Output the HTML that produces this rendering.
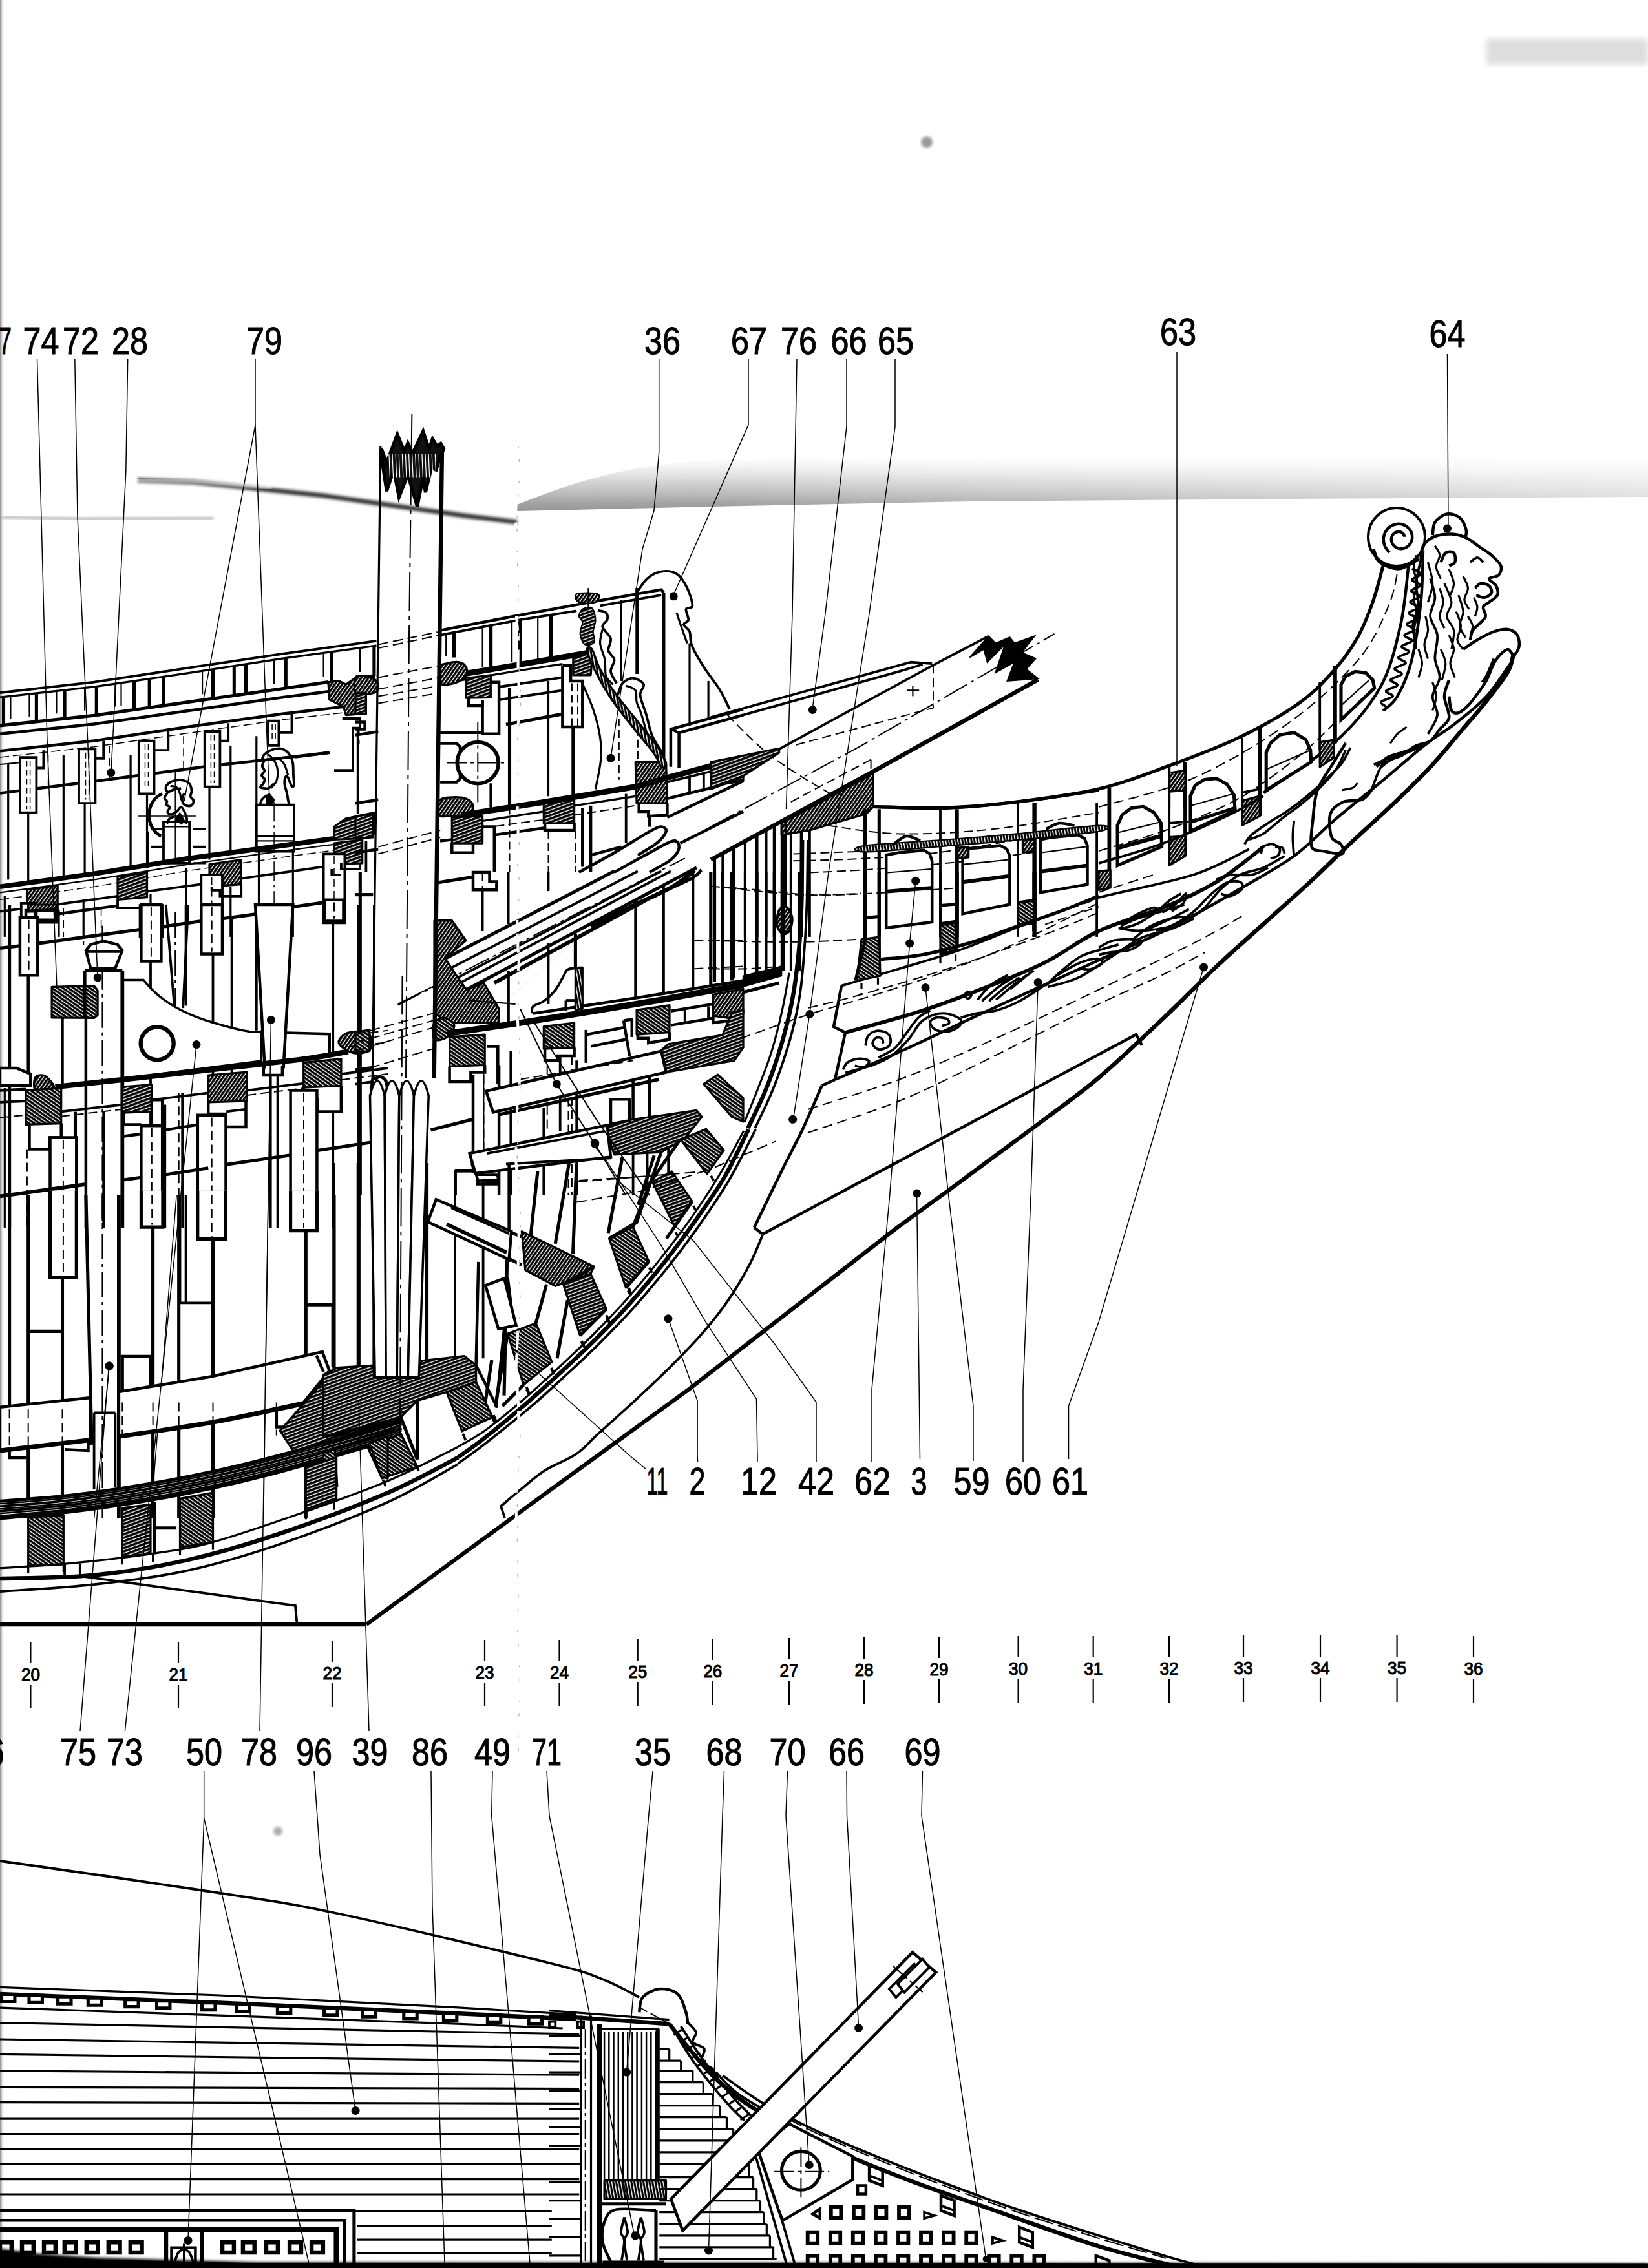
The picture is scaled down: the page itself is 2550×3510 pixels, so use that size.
<!DOCTYPE html>
<html><head><meta charset="utf-8"><title>Plan</title>
<style>html,body{margin:0;padding:0;background:#fff}svg{display:block}text{font-family:"Liberation Sans",sans-serif;fill:#000;stroke:#000;stroke-width:1.1px}</style>
</head><body>
<svg width="2550" height="3510" viewBox="0 0 2550 3510">
<defs>
<pattern id="h1" width="4.6" height="4.6" patternUnits="userSpaceOnUse" patternTransform="rotate(-55)"><rect width="5" height="5" fill="#fff"/><rect width="5" height="3.3" fill="#000"/></pattern>
<pattern id="h2" width="4.8" height="4.8" patternUnits="userSpaceOnUse" patternTransform="rotate(35)"><rect width="5" height="5" fill="#fff"/><rect width="5" height="3.4" fill="#000"/></pattern>
<pattern id="h3" width="5" height="5" patternUnits="userSpaceOnUse" patternTransform="rotate(-20)"><rect width="5.5" height="5.5" fill="#fff"/><rect width="5.5" height="3.6" fill="#000"/></pattern>
<pattern id="h4" width="4.6" height="4.6" patternUnits="userSpaceOnUse" patternTransform="rotate(80)"><rect width="5" height="5" fill="#fff"/><rect width="5" height="3.1" fill="#000"/></pattern>
<linearGradient id="fold1" x1="0" y1="0" x2="0" y2="1"><stop offset="0" stop-color="#ddd" stop-opacity="0"/><stop offset="0.45" stop-color="#c4c4c4" stop-opacity="0.7"/><stop offset="0.85" stop-color="#9a9a9a" stop-opacity="0.9"/><stop offset="1" stop-color="#909090" stop-opacity="0.95"/></linearGradient>
<linearGradient id="ledge" x1="0" y1="0" x2="1" y2="0"><stop offset="0" stop-color="#888"/><stop offset="1" stop-color="#fff" stop-opacity="0"/></linearGradient>
<linearGradient id="fadeL" x1="0" y1="0" x2="1" y2="0"><stop offset="0" stop-color="#fff" stop-opacity="1"/><stop offset="1" stop-color="#fff" stop-opacity="0"/></linearGradient>
<linearGradient id="fadeR" x1="0" y1="0" x2="1" y2="0"><stop offset="0" stop-color="#fff" stop-opacity="0"/><stop offset="1" stop-color="#fff" stop-opacity="0.6"/></linearGradient>
<filter id="blur2"><feGaussianBlur stdDeviation="2"/></filter>
<filter id="blur5"><feGaussianBlur stdDeviation="5"/></filter>
</defs>
<rect width="2550" height="3510" fill="#fff"/>
<path d="M800,781 C880,750 950,722 1100,712 L1500,708 L2550,706 L2550,769 L2000,772 L1500,776 L1100,784 L800,791 Z" fill="url(#fold1)"/>
<rect x="1100" y="700" width="1450" height="95" fill="url(#fadeR)"/>
<path d="M213,743 L300,746 L500,767 L718,798 L800,808" stroke="#333" stroke-width="7" fill="none" filter="url(#blur2)"/>
<path d="M205,743 L300,745 L420,755" stroke="#fff" stroke-width="5" fill="none" filter="url(#blur2)" opacity="0.7"/>
<path d="M0,800 L120,803 L330,802" stroke="#999" stroke-width="3" fill="none" filter="url(#blur2)"/>
<circle cx="1434" cy="220" r="9" fill="#999" filter="url(#blur2)"/>
<circle cx="430" cy="2834" r="7" fill="#aaa" filter="url(#blur2)"/>
<rect x="2300" y="60" width="250" height="40" fill="#ddd" filter="url(#blur5)"/>
<rect x="0" y="0" width="7" height="3510" fill="url(#ledge)"/>
<path d="M0,2992 L2550,2992" stroke="#ccc" stroke-width="3" stroke-dasharray="90 40 200 60" filter="url(#blur2)"/>
<text x="63.5" y="548" font-size="60" text-anchor="middle" textLength="56" lengthAdjust="spacingAndGlyphs">74</text>
<text x="125" y="548" font-size="60" text-anchor="middle" textLength="56" lengthAdjust="spacingAndGlyphs">72</text>
<text x="201" y="548" font-size="60" text-anchor="middle" textLength="56" lengthAdjust="spacingAndGlyphs">28</text>
<text x="409" y="548" font-size="60" text-anchor="middle" textLength="56" lengthAdjust="spacingAndGlyphs">79</text>
<text x="1025" y="548" font-size="60" text-anchor="middle" textLength="56" lengthAdjust="spacingAndGlyphs">36</text>
<text x="1159" y="548" font-size="60" text-anchor="middle" textLength="56" lengthAdjust="spacingAndGlyphs">67</text>
<text x="1236" y="548" font-size="60" text-anchor="middle" textLength="56" lengthAdjust="spacingAndGlyphs">76</text>
<text x="1313.5" y="548" font-size="60" text-anchor="middle" textLength="56" lengthAdjust="spacingAndGlyphs">66</text>
<text x="1386" y="548" font-size="60" text-anchor="middle" textLength="56" lengthAdjust="spacingAndGlyphs">65</text>
<text x="8" y="548" font-size="60" text-anchor="middle" textLength="20" lengthAdjust="spacingAndGlyphs">7</text>
<text x="1823" y="534" font-size="60" text-anchor="middle" textLength="56" lengthAdjust="spacingAndGlyphs">63</text>
<text x="2239.5" y="537" font-size="60" text-anchor="middle" textLength="56" lengthAdjust="spacingAndGlyphs">64</text>
<text x="1174" y="2313" font-size="60" text-anchor="middle" textLength="56" lengthAdjust="spacingAndGlyphs">12</text>
<text x="1263" y="2313" font-size="60" text-anchor="middle" textLength="56" lengthAdjust="spacingAndGlyphs">42</text>
<text x="1350" y="2313" font-size="60" text-anchor="middle" textLength="56" lengthAdjust="spacingAndGlyphs">62</text>
<text x="1503.5" y="2313" font-size="60" text-anchor="middle" textLength="56" lengthAdjust="spacingAndGlyphs">59</text>
<text x="1583" y="2313" font-size="60" text-anchor="middle" textLength="56" lengthAdjust="spacingAndGlyphs">60</text>
<text x="1656" y="2313" font-size="60" text-anchor="middle" textLength="56" lengthAdjust="spacingAndGlyphs">61</text>
<text x="1017" y="2313" font-size="60" text-anchor="middle" textLength="33" lengthAdjust="spacingAndGlyphs">11</text>
<text x="1079" y="2313" font-size="60" text-anchor="middle" textLength="25" lengthAdjust="spacingAndGlyphs">2</text>
<text x="1422" y="2313" font-size="60" text-anchor="middle" textLength="25" lengthAdjust="spacingAndGlyphs">3</text>
<text x="121" y="2732" font-size="60" text-anchor="middle" textLength="56" lengthAdjust="spacingAndGlyphs">75</text>
<text x="193" y="2732" font-size="60" text-anchor="middle" textLength="56" lengthAdjust="spacingAndGlyphs">73</text>
<text x="316" y="2732" font-size="60" text-anchor="middle" textLength="56" lengthAdjust="spacingAndGlyphs">50</text>
<text x="401" y="2732" font-size="60" text-anchor="middle" textLength="56" lengthAdjust="spacingAndGlyphs">78</text>
<text x="486" y="2732" font-size="60" text-anchor="middle" textLength="56" lengthAdjust="spacingAndGlyphs">96</text>
<text x="572.5" y="2732" font-size="60" text-anchor="middle" textLength="56" lengthAdjust="spacingAndGlyphs">39</text>
<text x="665" y="2732" font-size="60" text-anchor="middle" textLength="56" lengthAdjust="spacingAndGlyphs">86</text>
<text x="762" y="2732" font-size="60" text-anchor="middle" textLength="56" lengthAdjust="spacingAndGlyphs">49</text>
<text x="846" y="2732" font-size="60" text-anchor="middle" textLength="46" lengthAdjust="spacingAndGlyphs">71</text>
<text x="1010" y="2732" font-size="60" text-anchor="middle" textLength="56" lengthAdjust="spacingAndGlyphs">35</text>
<text x="1120.5" y="2732" font-size="60" text-anchor="middle" textLength="56" lengthAdjust="spacingAndGlyphs">68</text>
<text x="1218.5" y="2732" font-size="60" text-anchor="middle" textLength="56" lengthAdjust="spacingAndGlyphs">70</text>
<text x="1310" y="2732" font-size="60" text-anchor="middle" textLength="56" lengthAdjust="spacingAndGlyphs">66</text>
<text x="1427.5" y="2732" font-size="60" text-anchor="middle" textLength="56" lengthAdjust="spacingAndGlyphs">69</text>
<text x="-6" y="2732" font-size="60" text-anchor="middle" textLength="25" lengthAdjust="spacingAndGlyphs">6</text>
<text x="47.4" y="2601" font-size="27" text-anchor="middle" textLength="29" lengthAdjust="spacingAndGlyphs">20</text>
<polyline points="47.4,2541 47.4,2574" fill="none" stroke="#000" stroke-width="2.2"/>
<polyline points="47.4,2607 47.4,2644" fill="none" stroke="#000" stroke-width="2.2"/>
<text x="276" y="2601" font-size="27" text-anchor="middle" textLength="29" lengthAdjust="spacingAndGlyphs">21</text>
<polyline points="276,2541 276,2574" fill="none" stroke="#000" stroke-width="2.2"/>
<polyline points="276,2607 276,2644" fill="none" stroke="#000" stroke-width="2.2"/>
<text x="514" y="2599" font-size="27" text-anchor="middle" textLength="29" lengthAdjust="spacingAndGlyphs">22</text>
<polyline points="514,2539 514,2572" fill="none" stroke="#000" stroke-width="2.2"/>
<polyline points="514,2605 514,2642" fill="none" stroke="#000" stroke-width="2.2"/>
<text x="750" y="2598" font-size="27" text-anchor="middle" textLength="29" lengthAdjust="spacingAndGlyphs">23</text>
<polyline points="750,2538 750,2571" fill="none" stroke="#000" stroke-width="2.2"/>
<polyline points="750,2604 750,2641" fill="none" stroke="#000" stroke-width="2.2"/>
<text x="865.5" y="2598" font-size="27" text-anchor="middle" textLength="29" lengthAdjust="spacingAndGlyphs">24</text>
<polyline points="865.5,2538 865.5,2571" fill="none" stroke="#000" stroke-width="2.2"/>
<polyline points="865.5,2604 865.5,2641" fill="none" stroke="#000" stroke-width="2.2"/>
<text x="986.7" y="2597" font-size="27" text-anchor="middle" textLength="29" lengthAdjust="spacingAndGlyphs">25</text>
<polyline points="986.7,2537 986.7,2570" fill="none" stroke="#000" stroke-width="2.2"/>
<polyline points="986.7,2603 986.7,2640" fill="none" stroke="#000" stroke-width="2.2"/>
<text x="1102.7" y="2596" font-size="27" text-anchor="middle" textLength="29" lengthAdjust="spacingAndGlyphs">26</text>
<polyline points="1102.7,2536 1102.7,2569" fill="none" stroke="#000" stroke-width="2.2"/>
<polyline points="1102.7,2602 1102.7,2639" fill="none" stroke="#000" stroke-width="2.2"/>
<text x="1221" y="2595" font-size="27" text-anchor="middle" textLength="29" lengthAdjust="spacingAndGlyphs">27</text>
<polyline points="1221,2535 1221,2568" fill="none" stroke="#000" stroke-width="2.2"/>
<polyline points="1221,2601 1221,2638" fill="none" stroke="#000" stroke-width="2.2"/>
<text x="1337" y="2594" font-size="27" text-anchor="middle" textLength="29" lengthAdjust="spacingAndGlyphs">28</text>
<polyline points="1337,2534 1337,2567" fill="none" stroke="#000" stroke-width="2.2"/>
<polyline points="1337,2600 1337,2637" fill="none" stroke="#000" stroke-width="2.2"/>
<text x="1453" y="2593" font-size="27" text-anchor="middle" textLength="29" lengthAdjust="spacingAndGlyphs">29</text>
<polyline points="1453,2533 1453,2566" fill="none" stroke="#000" stroke-width="2.2"/>
<polyline points="1453,2599 1453,2636" fill="none" stroke="#000" stroke-width="2.2"/>
<text x="1575.6" y="2592" font-size="27" text-anchor="middle" textLength="29" lengthAdjust="spacingAndGlyphs">30</text>
<polyline points="1575.6,2532 1575.6,2565" fill="none" stroke="#000" stroke-width="2.2"/>
<polyline points="1575.6,2598 1575.6,2635" fill="none" stroke="#000" stroke-width="2.2"/>
<text x="1691.7" y="2592" font-size="27" text-anchor="middle" textLength="29" lengthAdjust="spacingAndGlyphs">31</text>
<polyline points="1691.7,2532 1691.7,2565" fill="none" stroke="#000" stroke-width="2.2"/>
<polyline points="1691.7,2598 1691.7,2635" fill="none" stroke="#000" stroke-width="2.2"/>
<text x="1809" y="2592" font-size="27" text-anchor="middle" textLength="29" lengthAdjust="spacingAndGlyphs">32</text>
<polyline points="1809,2532 1809,2565" fill="none" stroke="#000" stroke-width="2.2"/>
<polyline points="1809,2598 1809,2635" fill="none" stroke="#000" stroke-width="2.2"/>
<text x="1924" y="2591" font-size="27" text-anchor="middle" textLength="29" lengthAdjust="spacingAndGlyphs">33</text>
<polyline points="1924,2531 1924,2564" fill="none" stroke="#000" stroke-width="2.2"/>
<polyline points="1924,2597 1924,2634" fill="none" stroke="#000" stroke-width="2.2"/>
<text x="2043" y="2591" font-size="27" text-anchor="middle" textLength="29" lengthAdjust="spacingAndGlyphs">34</text>
<polyline points="2043,2531 2043,2564" fill="none" stroke="#000" stroke-width="2.2"/>
<polyline points="2043,2597 2043,2634" fill="none" stroke="#000" stroke-width="2.2"/>
<text x="2161.6" y="2591" font-size="27" text-anchor="middle" textLength="29" lengthAdjust="spacingAndGlyphs">35</text>
<polyline points="2161.6,2531 2161.6,2564" fill="none" stroke="#000" stroke-width="2.2"/>
<polyline points="2161.6,2597 2161.6,2634" fill="none" stroke="#000" stroke-width="2.2"/>
<text x="2280" y="2592" font-size="27" text-anchor="middle" textLength="29" lengthAdjust="spacingAndGlyphs">36</text>
<polyline points="2280,2532 2280,2565" fill="none" stroke="#000" stroke-width="2.2"/>
<polyline points="2280,2598 2280,2635" fill="none" stroke="#000" stroke-width="2.2"/>
<polyline points="0,1072 145.6,1055.6 291.3,1033.7 436.9,1011.9 582.5,991.9" fill="none" stroke="#000" stroke-width="3.8"/>
<polyline points="0,1079.2 145.6,1062.9 291.3,1041.7 436.9,1019.2 582.5,999.1" fill="none" stroke="#000" stroke-width="3.2"/>
<polyline points="5.5,1078.6 5.5,1122.3" fill="none" stroke="#000" stroke-width="5.1"/>
<polyline points="16.4,1077.4 16.4,1112.1" fill="none" stroke="#000" stroke-width="2.2"/>
<polyline points="45.5,1074.1 45.5,1108.9" fill="none" stroke="#000" stroke-width="2.2"/>
<polyline points="56.4,1072.9 56.4,1116.9" fill="none" stroke="#000" stroke-width="5.1"/>
<polyline points="87.4,1069.4 87.4,1104.4" fill="none" stroke="#000" stroke-width="2.2"/>
<polyline points="100.1,1068 100.1,1112.2" fill="none" stroke="#000" stroke-width="5.1"/>
<polyline points="131.1,1064.5 131.1,1099.7" fill="none" stroke="#000" stroke-width="2.2"/>
<polyline points="149.3,1062.3 149.3,1106.8" fill="none" stroke="#000" stroke-width="5.1"/>
<polyline points="178.4,1058.1 178.4,1093.5" fill="none" stroke="#000" stroke-width="2.2"/>
<polyline points="187.5,1056.8 187.5,1092.2" fill="none" stroke="#000" stroke-width="2.2"/>
<polyline points="207.5,1053.9 207.5,1098.5" fill="none" stroke="#000" stroke-width="5.1"/>
<polyline points="231.2,1050.5 231.2,1095.1" fill="none" stroke="#000" stroke-width="5.1"/>
<polyline points="253,1047.3 253,1092" fill="none" stroke="#000" stroke-width="5.1"/>
<polyline points="313.1,1038.4 313.1,1074.3" fill="none" stroke="#000" stroke-width="2.2"/>
<polyline points="329.5,1035.8 329.5,1081.1" fill="none" stroke="#000" stroke-width="5.1"/>
<polyline points="362.3,1030.7 362.3,1076.4" fill="none" stroke="#000" stroke-width="5.1"/>
<polyline points="380.5,1027.9 380.5,1073.8" fill="none" stroke="#000" stroke-width="5.1"/>
<polyline points="424.1,1021.1 424.1,1058.5" fill="none" stroke="#000" stroke-width="2.2"/>
<polyline points="442.3,1018.4 442.3,1065" fill="none" stroke="#000" stroke-width="5.1"/>
<polyline points="500.6,1010.4 500.6,1047.8" fill="none" stroke="#000" stroke-width="2.2"/>
<polyline points="513.3,1008.7 513.3,1055.1" fill="none" stroke="#000" stroke-width="5.1"/>
<polyline points="557,1002.7 557,1039.9" fill="none" stroke="#000" stroke-width="2.2"/>
<polyline points="578.9,999.7 578.9,1045.9" fill="none" stroke="#000" stroke-width="5.1"/>
<polyline points="0,1122.9 145.6,1107.3 291.3,1086.5 436.9,1065.8 507.9,1055.6" fill="none" stroke="#000" stroke-width="5.1"/>
<polyline points="0,1135.7 145.6,1120.4 291.3,1100 436.9,1079.2 509.7,1070.1" fill="none" stroke="#000" stroke-width="4.5"/>
<polyline points="0,1162.3 145.6,1146.6 291.3,1124.8 436.9,1104.7 531.5,1093.8" fill="none" stroke="#000" stroke-width="4.5"/>
<polyline points="0,1172.1 145.6,1155.7 291.3,1134.6 436.9,1113.8 531.5,1102.9" fill="none" stroke="#000" stroke-width="1.5" stroke-dasharray="14 6"/>
<polyline points="0,1183 30.9,1180.1" fill="none" stroke="#000" stroke-width="2.2"/>
<polyline points="0,1227.4 145.6,1209.2 316.7,1186.6 396.8,1177.5 509.7,1164.8" fill="none" stroke="#000" stroke-width="4.5"/>
<polyline points="12.7,1183 12.7,1361.4" fill="none" stroke="#000" stroke-width="3.2"/>
<polyline points="43.7,1257.6 43.7,1365" fill="none" stroke="#000" stroke-width="3.2"/>
<polyline points="98.3,1168.4 98.3,1357.8" fill="none" stroke="#000" stroke-width="3.2"/>
<polyline points="131.1,1243.1 131.1,1354.1" fill="none" stroke="#000" stroke-width="3.2"/>
<polyline points="202.1,1168.4 202.1,1345" fill="none" stroke="#000" stroke-width="3.2"/>
<polyline points="227.5,1228.5 227.5,1341.4" fill="none" stroke="#000" stroke-width="3.2"/>
<polyline points="356.8,1153.9 356.8,1321.4" fill="none" stroke="#000" stroke-width="3.2"/>
<polyline points="396.8,1139.3 396.8,1314.1" fill="none" stroke="#000" stroke-width="3.2"/>
<polyline points="74.6,1168.4 74.6,1226.7" fill="none" stroke="#000" stroke-width="1.5" stroke-dasharray="12 7"/>
<polyline points="169.3,1153.9 169.3,1206.7" fill="none" stroke="#000" stroke-width="1.5" stroke-dasharray="12 7"/>
<polyline points="284,1139.3 284,1192.1" fill="none" stroke="#000" stroke-width="1.5" stroke-dasharray="12 7"/>
<polyline points="56.4,1188.5 67.4,1188.5 67.4,1161.2" fill="none" stroke="#000" stroke-width="3.8"/>
<polygon points="30.9,1172.1 56.4,1172.1 56.4,1257.6 30.9,1257.6" fill="#fff" stroke="#000" stroke-width="3.8"/>
<polyline points="41.5,1177.5 41.5,1252.2" fill="none" stroke="#000" stroke-width="1.5" stroke-dasharray="9 5"/>
<polyline points="46.6,1177.5 46.6,1252.2" fill="none" stroke="#000" stroke-width="1.5" stroke-dasharray="9 5"/>
<polyline points="147.4,1173.9 160.2,1173.9 160.2,1146.6" fill="none" stroke="#000" stroke-width="3.8"/>
<polygon points="122,1159.3 147.4,1159.3 147.4,1243.1 122,1243.1" fill="#fff" stroke="#000" stroke-width="3.8"/>
<polyline points="132.5,1164.8 132.5,1237.6" fill="none" stroke="#000" stroke-width="1.5" stroke-dasharray="9 5"/>
<polyline points="137.6,1164.8 137.6,1237.6" fill="none" stroke="#000" stroke-width="1.5" stroke-dasharray="9 5"/>
<polyline points="238.5,1161.2 260.3,1161.2 260.3,1130.2" fill="none" stroke="#000" stroke-width="3.8"/>
<polygon points="214.8,1146.6 238.5,1146.6 238.5,1228.5 214.8,1228.5" fill="#fff" stroke="#000" stroke-width="3.8"/>
<polyline points="224.5,1152.1 224.5,1223.1" fill="none" stroke="#000" stroke-width="1.5" stroke-dasharray="9 5"/>
<polyline points="229.5,1152.1 229.5,1223.1" fill="none" stroke="#000" stroke-width="1.5" stroke-dasharray="9 5"/>
<polyline points="340.4,1146.6 353.2,1146.6 353.2,1119.3" fill="none" stroke="#000" stroke-width="3.8"/>
<polygon points="316.7,1132 340.4,1132 340.4,1217.6 316.7,1217.6" fill="#fff" stroke="#000" stroke-width="3.8"/>
<polyline points="326.4,1137.5 326.4,1212.1" fill="none" stroke="#000" stroke-width="1.5" stroke-dasharray="9 5"/>
<polyline points="331.5,1137.5 331.5,1212.1" fill="none" stroke="#000" stroke-width="1.5" stroke-dasharray="9 5"/>
<polyline points="431.4,1133.9 451.5,1133.9 451.5,1104.7" fill="none" stroke="#000" stroke-width="3.8"/>
<polygon points="415,1115.7 431.4,1115.7 431.4,1153.9 415,1153.9" fill="#fff" stroke="#000" stroke-width="3.8"/>
<polyline points="421.1,1121.1 421.1,1148.4" fill="none" stroke="#000" stroke-width="1.5" stroke-dasharray="9 5"/>
<polyline points="426.1,1121.1 426.1,1148.4" fill="none" stroke="#000" stroke-width="1.5" stroke-dasharray="9 5"/>
<circle cx="171.8" cy="1195.7" r="6.5" fill="#000"/>
<path d="M251.2,1228.5 A29.1,34.6 0 0 0 249.4,1294" fill="none" stroke="#000" stroke-width="5"/>
<polyline points="213,1263.1 304,1263.1" fill="none" stroke="#000" stroke-width="1.5"/>
<polygon points="253,1272.2 293.1,1272.2 293.1,1335.9 253,1335.9" fill="#fff" stroke="#000" stroke-width="3.8"/>
<polyline points="253,1279.5 293.1,1279.5" fill="none" stroke="#000" stroke-width="2.2"/>
<polyline points="271.2,1190.3 271.2,1335.9" fill="none" stroke="#000" stroke-width="1.5"/>
<path d="M285.6,1227.4C285,1228.6 282.2,1231.9 281.9,1234.7C281.6,1237.4 282.2,1241.6 283.7,1243.8C285.3,1245.9 288.7,1247.1 291,1247.4C293.3,1247.7 296,1247.1 297.4,1245.6C298.8,1244.1 299.7,1240.4 299.2,1238.3C298.8,1236.2 295.1,1235.3 294.7,1232.8C294.2,1230.4 296.8,1227.1 296.5,1223.7C296.2,1220.4 295.3,1215.6 292.8,1212.8C290.4,1210.1 285.9,1208.1 281.9,1207.4C278,1206.6 272.8,1207.4 269.2,1208.3C265.5,1209.2 262.2,1210.8 260.1,1212.8C258,1214.8 256.4,1218 256.4,1220.1C256.4,1222.2 258,1225.3 260.1,1225.6C262.2,1225.9 265.8,1222.8 269.2,1221.9C272.5,1221 278.3,1220.4 280.1,1220.1" fill="none" stroke="#000" stroke-width="3.8" stroke-linejoin="round"/>
<path d="M260.1,1225.6C259.2,1227.1 254.9,1232.2 254.6,1234.7C254.3,1237.1 257.8,1238.3 258.3,1240.1C258.7,1241.9 256.6,1244.1 257.3,1245.6C258.1,1247.1 262.5,1247.4 262.8,1249.2C263.1,1251.1 259,1254.7 259.2,1256.5C259.3,1258.3 261.4,1260.2 263.7,1260.2C266,1260.2 270.1,1258.3 272.8,1256.5C275.6,1254.7 278,1249.2 280.1,1249.2C282.2,1249.2 284,1253.5 285.6,1256.5C287.1,1259.5 288.9,1264.4 289.2,1267.4C289.5,1270.5 287.7,1273.5 287.4,1274.7" fill="none" stroke="#000" stroke-width="3.8" stroke-linejoin="round"/>
<path d="M258.3,1274.7C258.9,1273.5 260.1,1269.3 261.9,1267.4C263.7,1265.6 268,1264.4 269.2,1263.8" fill="none" stroke="#000" stroke-width="3.8" stroke-linejoin="round"/>
<polygon points="271.9,1267.4 278.3,1258.3 285.6,1271.1 280.1,1275.1" fill="#000" stroke="#000" stroke-width="2.2"/>
<path d="M263.7,1216.5C265.2,1216.8 270.4,1216.5 272.8,1218.3C275.2,1220.1 277.1,1224 278.3,1227.4C279.5,1230.7 279.8,1236.5 280.1,1238.3" fill="none" stroke="#000" stroke-width="3.2" stroke-linejoin="round"/>
<polygon points="396.8,1245.6 455.1,1245.6 455.1,1317.7 396.8,1317.7" fill="#fff" stroke="#000" stroke-width="3.8"/>
<polyline points="396.8,1294 455.1,1294" fill="none" stroke="#000" stroke-width="3.8"/>
<polyline points="396.8,1301.3 455.1,1301.3" fill="none" stroke="#000" stroke-width="2.2"/>
<path d="M405.7,1174.6C406.3,1173.4 406.6,1169.7 409.4,1167.3C412.1,1164.9 417.5,1161.4 422.1,1160C426.7,1158.7 432.4,1157.9 436.7,1159.1C440.9,1160.3 444.9,1163.8 447.6,1167.3C450.3,1170.8 452,1174.6 453,1180.1C454.1,1185.5 453.7,1194.3 454,1200.1C454.3,1205.8 455.3,1211.9 454.9,1214.6C454.4,1217.4 452.7,1218.3 451.2,1216.5C449.7,1214.6 447.3,1206.1 445.8,1203.7C444.3,1201.3 443,1200.4 442.1,1201.9C441.2,1203.4 440,1208.6 440.3,1212.8C440.6,1217.1 443,1223.1 443.9,1227.4C444.9,1231.6 445.2,1235.4 445.8,1238.3C446.4,1241.2 447.3,1243.6 447.6,1244.7" fill="none" stroke="#000" stroke-width="3.8" stroke-linejoin="round"/>
<path d="M409.4,1176.4C408.8,1177.9 405.7,1182.8 405.7,1185.5C405.7,1188.2 409.5,1190.4 409.4,1192.8C409.2,1195.2 404.8,1198 404.8,1200.1C404.8,1202.2 408.9,1203.4 409.4,1205.5C409.8,1207.7 408.6,1210.7 407.5,1212.8C406.5,1214.9 401.8,1217.1 403,1218.3C404.2,1219.5 411.3,1221 414.8,1220.1C418.3,1219.2 422.4,1214 423.9,1212.8" fill="none" stroke="#000" stroke-width="3.8" stroke-linejoin="round"/>
<path d="M414.8,1167.3C416.3,1168.8 421.5,1172.5 423.9,1176.4C426.3,1180.4 428.8,1185.5 429.4,1191C430,1196.4 429.4,1204.3 427.6,1209.2C425.7,1214 420,1218.3 418.5,1220.1" fill="none" stroke="#000" stroke-width="3.2" stroke-linejoin="round"/>
<path d="M431.2,1172.8C432.7,1174.6 437.9,1179.1 440.3,1183.7C442.7,1188.2 444.9,1197.3 445.8,1200.1" fill="none" stroke="#000" stroke-width="3.2" stroke-linejoin="round"/>
<path d="M402.1,1244.7C403,1243 404.8,1237.2 407.5,1234.7C410.3,1232.1 416.6,1230.1 418.5,1229.2" fill="none" stroke="#000" stroke-width="3.8" stroke-linejoin="round"/>
<polygon points="412.1,1234.7 418.5,1231 424.8,1238.3 420.3,1244.1 413,1244.1" fill="#000" stroke="#000" stroke-width="2.2"/>
<polyline points="424.1,1241.3 424.1,1449.9" fill="none" stroke="#000" stroke-width="1.5" stroke-dasharray="30 6 4 6"/>
<polyline points="456.9,1171.4 509.7,1164.8" fill="none" stroke="#000" stroke-width="4.5"/>
<polyline points="233,1283.1 251.2,1283.1" fill="none" stroke="#000" stroke-width="3.2"/>
<polyline points="298.5,1283.1 318.6,1283.1" fill="none" stroke="#000" stroke-width="3.2"/>
<polyline points="233,1310.4 251.2,1310.4" fill="none" stroke="#000" stroke-width="3.2"/>
<polyline points="298.5,1310.4 318.6,1310.4" fill="none" stroke="#000" stroke-width="3.2"/>
<polyline points="233,1335.9 251.2,1335.9" fill="none" stroke="#000" stroke-width="3.2"/>
<polyline points="298.5,1335.9 318.6,1335.9" fill="none" stroke="#000" stroke-width="3.2"/>
<polyline points="229.4,1286.8 229.4,1343.2" fill="none" stroke="#000" stroke-width="3.2"/>
<polyline points="324,1219.4 324,1330.5" fill="none" stroke="#000" stroke-width="3.2"/>
<polyline points="0,1372.3 145.6,1352.3 291.3,1328.6 436.9,1308.6 517,1297.7" fill="none" stroke="#000" stroke-width="7.7"/>
<polyline points="0,1381.4 145.6,1361.4 291.3,1337.7 436.9,1317 517,1306.8" fill="none" stroke="#000" stroke-width="2.2"/>
<polyline points="0,1392.3 145.6,1372.3 291.3,1347.6 436.9,1326.8 517,1315.9" fill="none" stroke="#000" stroke-width="1.5" stroke-dasharray="14 6"/>
<polygon points="41.9,1376.7 89.2,1370.5 89.2,1406.9 41.9,1410.6" fill="url(#h1)" stroke="#000" stroke-width="3.2" stroke-linejoin="round"/>
<polygon points="182,1357 227.5,1350.5 227.5,1388.7 182,1392.3" fill="url(#h3)" stroke="#000" stroke-width="3.2" stroke-linejoin="round"/>
<polygon points="324,1337.7 373.2,1330.5 373.2,1368.7 324,1372.3" fill="url(#h1)" stroke="#000" stroke-width="3.2" stroke-linejoin="round"/>
<polygon points="517,1305 560.7,1299.5 560.7,1335.9 517,1337.7" fill="url(#h3)" stroke="#000" stroke-width="3.2" stroke-linejoin="round"/>
<polygon points="507.9,1055.6 524.3,1053.8 535.2,1059.2 553.4,1046.5 578.9,1045.4 578.9,1070.1 562.5,1073.8 560.7,1104.7 535.2,1106.6 531.5,1093.8 509.7,1082.9" fill="url(#h1)" stroke="#000" stroke-width="3.2" stroke-linejoin="round"/>
<polyline points="529.7,1112 557,1112 557,1126.6 546.1,1126.6 546.1,1192.1 517,1192.1" fill="none" stroke="#000" stroke-width="3.8"/>
<polyline points="553.4,1126.6 553.4,1259.5" fill="none" stroke="#000" stroke-width="3.2"/>
<polygon points="517,1279.5 535.2,1266.7 578.9,1257.6 578.9,1290.4 557,1297.7 517,1299.5" fill="url(#h3)" stroke="#000" stroke-width="3.2" stroke-linejoin="round"/>
<polygon points="32.8,1397.8 54.6,1397.8 54.6,1449.9 32.8,1449.9" fill="#fff" stroke="#000" stroke-width="3.8"/>
<polyline points="43.7,1401.5 43.7,1448.1" fill="none" stroke="#000" stroke-width="1.5" stroke-dasharray="12 6"/>
<polygon points="216.6,1401.1 251.2,1401.1 251.2,1449.9 216.6,1449.9" fill="#fff" stroke="#000" stroke-width="3.8"/>
<polyline points="233.9,1404.7 233.9,1448.1" fill="none" stroke="#000" stroke-width="1.5" stroke-dasharray="12 6"/>
<polygon points="311.3,1353.8 344,1353.8 344,1449.9 311.3,1449.9" fill="#fff" stroke="#000" stroke-width="3.8"/>
<polyline points="327.7,1357.4 327.7,1448.1" fill="none" stroke="#000" stroke-width="1.5" stroke-dasharray="12 6"/>
<polygon points="500.6,1321.4 533.4,1321.4 533.4,1428.4 500.6,1428.4" fill="#fff" stroke="#000" stroke-width="3.8"/>
<polyline points="517,1325 517,1426.6" fill="none" stroke="#000" stroke-width="1.5" stroke-dasharray="12 6"/>
<polyline points="40,1410.6 56.4,1410.6 56.4,1423.3 85.6,1423.3 85.6,1406.9" fill="none" stroke="#000" stroke-width="3.8"/>
<polyline points="182,1392.3 182,1405.1 216.6,1405.1" fill="none" stroke="#000" stroke-width="3.8"/>
<polyline points="327.7,1372.3 327.7,1377.8 340.4,1377.8 340.4,1386.9 373.2,1386.9 373.2,1368.7" fill="none" stroke="#000" stroke-width="3.8"/>
<polyline points="527.9,1335.9 527.9,1345 557,1345 557,1335.9" fill="none" stroke="#000" stroke-width="3.8"/>
<polyline points="513.3,1345 513.3,1354.1 527.9,1354.1" fill="none" stroke="#000" stroke-width="3.8"/>
<polyline points="0,1410.6 30.9,1406.9" fill="none" stroke="#000" stroke-width="3.8"/>
<polyline points="89.2,1399.6 182,1386.9" fill="none" stroke="#000" stroke-width="3.8"/>
<polyline points="227.5,1379.6 309.5,1368.7" fill="none" stroke="#000" stroke-width="3.8"/>
<polyline points="373.2,1359.6 500.6,1341.4" fill="none" stroke="#000" stroke-width="3.8"/>
<polyline points="14.6,1405.1 14.6,1449.9" fill="none" stroke="#000" stroke-width="1.5" stroke-dasharray="12 7"/>
<polyline points="98.3,1405.1 98.3,1449.9" fill="none" stroke="#000" stroke-width="1.5" stroke-dasharray="12 7"/>
<polyline points="156.6,1405.1 156.6,1449.9" fill="none" stroke="#000" stroke-width="1.5" stroke-dasharray="12 7"/>
<polyline points="251.2,1405.1 251.2,1449.9" fill="none" stroke="#000" stroke-width="1.5" stroke-dasharray="12 7"/>
<polyline points="396.8,1405.1 396.8,1449.9" fill="none" stroke="#000" stroke-width="1.5" stroke-dasharray="12 7"/>
<polyline points="553.4,1405.1 553.4,1449.9" fill="none" stroke="#000" stroke-width="1.5" stroke-dasharray="12 7"/>
<polyline points="7.3,1386.9 7.3,1449.9" fill="none" stroke="#000" stroke-width="3.2"/>
<polyline points="91,1408.7 91,1449.9" fill="none" stroke="#000" stroke-width="3.2"/>
<polyline points="129.2,1392.3 129.2,1449.9" fill="none" stroke="#000" stroke-width="3.2"/>
<polyline points="233,1383.2 233,1449.9" fill="none" stroke="#000" stroke-width="3.2"/>
<polyline points="287.6,1343.2 287.6,1449.9" fill="none" stroke="#000" stroke-width="3.2"/>
<polyline points="356.8,1372.3 356.8,1449.9" fill="none" stroke="#000" stroke-width="3.2"/>
<polyline points="400.5,1317.7 400.5,1449.9" fill="none" stroke="#000" stroke-width="3.2"/>
<polyline points="453.3,1314.1 453.3,1449.9" fill="none" stroke="#000" stroke-width="3.2"/>
<polyline points="585.3,997.4 681.1,977.4" fill="none" stroke="#000" stroke-width="2" stroke-dasharray="16 7"/>
<polyline points="585.3,1002.9 681.1,982.9" fill="none" stroke="#000" stroke-width="2" stroke-dasharray="16 7"/>
<polyline points="585.3,1048.4 681.1,1030.2" fill="none" stroke="#000" stroke-width="2" stroke-dasharray="16 7"/>
<polyline points="585.3,1066.6 681.1,1048.4" fill="none" stroke="#000" stroke-width="2" stroke-dasharray="16 7"/>
<polyline points="585.3,1077.5 681.1,1061.2" fill="none" stroke="#000" stroke-width="2" stroke-dasharray="16 7"/>
<polyline points="585.3,1088.5 681.1,1072.1" fill="none" stroke="#000" stroke-width="2" stroke-dasharray="16 7"/>
<polyline points="585.3,1310.6 681.1,1285.1" fill="none" stroke="#000" stroke-width="2" stroke-dasharray="16 7"/>
<polyline points="585.3,1321.5 681.1,1296" fill="none" stroke="#000" stroke-width="2" stroke-dasharray="16 7"/>
<polyline points="681.1,975.6 804.9,951.9 914.1,931.9 1023.3,912.6 1026.9,917.4" fill="none" stroke="#000" stroke-width="4.5"/>
<polyline points="681.1,982.9 804.9,959.2 892.2,945.4" fill="none" stroke="#000" stroke-width="3.8"/>
<polyline points="928.6,937.4 1023.3,921" fill="none" stroke="#000" stroke-width="3.8"/>
<polyline points="690.2,981.2 690.2,1015.7" fill="none" stroke="#000" stroke-width="2.2"/>
<polyline points="702.9,978.7 702.9,1017.5" fill="none" stroke="#000" stroke-width="5.8"/>
<polyline points="746.6,970.4 746.6,1032" fill="none" stroke="#000" stroke-width="2.2"/>
<polyline points="759.3,968 759.3,1033.9" fill="none" stroke="#000" stroke-width="5.8"/>
<polyline points="792.1,961.8 792.1,1024.8" fill="none" stroke="#000" stroke-width="2.2"/>
<polyline points="804.9,959.4 804.9,1026.6" fill="none" stroke="#000" stroke-width="5.8"/>
<polyline points="832.2,954.2 832.2,1021.1" fill="none" stroke="#000" stroke-width="2.2"/>
<polyline points="852.2,950.4 852.2,1018.2" fill="none" stroke="#000" stroke-width="5.8"/>
<polyline points="706.6,1044.8 804.9,1028.4 910.4,1010.2" fill="none" stroke="#000" stroke-width="9"/>
<polyline points="706.6,1053.9 804.9,1037.5 870.4,1027.7" fill="none" stroke="#000" stroke-width="3.2"/>
<polyline points="772.1,1063 870.4,1048.4" fill="none" stroke="#000" stroke-width="3.8"/>
<polyline points="772.1,1083 870.4,1068.4" fill="none" stroke="#000" stroke-width="3.8"/>
<polyline points="783,1121.2 870.4,1104.9" fill="none" stroke="#000" stroke-width="5.1"/>
<path d="M681.1,1032C682.9,1026.9 687.1,1027.8 692,1026.6C696.8,1025.4 705.3,1023.8 710.2,1024.8C715,1025.7 719.3,1028.4 721.1,1032C722.9,1035.7 724.1,1042.4 721.1,1046.6C718.1,1050.8 709.6,1055.7 702.9,1057.5C696.2,1059.3 684.7,1061.8 681.1,1057.5C677.4,1053.3 679.2,1037.2 681.1,1032Z" fill="url(#h1)" stroke="#000" stroke-width="3.2" stroke-linejoin="round"/>
<polygon points="721.1,1049.5 759.3,1044.8 759.3,1079.4 721.1,1080.1" fill="url(#h3)" stroke="#000" stroke-width="3.2" stroke-linejoin="round"/>
<polyline points="724.8,1080.1 724.8,1092.1 746.6,1092.1 746.6,1083" fill="none" stroke="#000" stroke-width="4.5"/>
<polygon points="886.8,1017.5 910.4,1008.4 915.9,1021.1 914.1,1044.8 886.8,1044.8" fill="url(#h3)" stroke="#000" stroke-width="3.2" stroke-linejoin="round"/>
<path d="M550,1048.4C552.4,1044.1 559.1,1045.7 564.6,1046.6C570,1047.5 579.7,1049.9 582.8,1053.9C585.8,1057.8 585.8,1066.9 582.8,1070.3C579.7,1073.6 570,1073.5 564.6,1073.9C559.1,1074.3 552.4,1077.1 550,1072.8C547.6,1068.6 547.6,1052.8 550,1048.4Z" fill="url(#h1)" stroke="#000" stroke-width="3.2" stroke-linejoin="round"/>
<polygon points="550,1072.8 566.4,1072.8 566.4,1104.9 550,1104.9" fill="url(#h3)" stroke="#000" stroke-width="3.2" stroke-linejoin="round"/>
<polyline points="550,1117.6 564.6,1117.6 564.6,1128.5 550,1128.5" fill="none" stroke="#000" stroke-width="4.5"/>
<polygon points="550,1263.2 577.3,1259.6 577.3,1296 550,1297.8" fill="url(#h3)" stroke="#000" stroke-width="3.2" stroke-linejoin="round"/>
<path d="M679.2,1239.6C682,1235 688.7,1234.7 695.6,1234.1C702.6,1233.5 715,1233.8 721.1,1235.9C727.2,1238 731.4,1242.6 732,1246.8C732.6,1251.1 730.8,1258.7 724.8,1261.4C718.7,1264.1 703.2,1263.2 695.6,1263.2C688,1263.2 682,1265.3 679.2,1261.4C676.5,1257.5 676.5,1244.1 679.2,1239.6Z" fill="url(#h1)" stroke="#000" stroke-width="3.2" stroke-linejoin="round"/>
<polygon points="699.3,1265 746.6,1263.2 746.6,1305.1 699.3,1305.1" fill="url(#h3)" stroke="#000" stroke-width="3.2" stroke-linejoin="round"/>
<polyline points="699.3,1305.1 699.3,1319.7 732,1319.7 732,1305.1" fill="none" stroke="#000" stroke-width="4.5"/>
<polygon points="841.3,1243.2 888.6,1237.7 888.6,1274.1 841.3,1274.1" fill="url(#h3)" stroke="#000" stroke-width="3.2" stroke-linejoin="round"/>
<polyline points="843.1,1274.1 843.1,1285.1 888.6,1285.1 888.6,1274.1" fill="none" stroke="#000" stroke-width="4.5"/>
<polygon points="983.2,1179.5 1030.6,1179.5 1032.4,1243.2 985.1,1243.2" fill="url(#h1)" stroke="#000" stroke-width="3.2" stroke-linejoin="round"/>
<polyline points="988.7,1243.2 988.7,1255.9 1003.3,1255.9 1003.3,1263.2 1032.4,1261.4 1032.4,1243.2" fill="none" stroke="#000" stroke-width="4.5"/>
<polygon points="1099.8,1188.6 1150,1177.7 1150,1208.6 1103.4,1215.9" fill="url(#h3)" stroke="#000" stroke-width="3.2" stroke-linejoin="round"/>
<polyline points="746.6,1083 746.6,1135.8 772.1,1135.8 772.1,1055.7 759.3,1055.7" fill="none" stroke="#000" stroke-width="4.5"/>
<polyline points="870.4,1030.2 870.4,1124.9 901.3,1124.9 901.3,1053.9 883.1,1053.9 883.1,1030.2 870.4,1030.2" fill="none" stroke="#000" stroke-width="4.5"/>
<polyline points="884.9,1057.5 884.9,1123.1" fill="none" stroke="#000" stroke-width="2" stroke-dasharray="12 6"/>
<polyline points="894,1057.5 894,1123.1" fill="none" stroke="#000" stroke-width="2" stroke-dasharray="12 6"/>
<polyline points="886.8,1126.7 886.8,1235.9" fill="none" stroke="#000" stroke-width="5.1"/>
<polyline points="788.5,1064.8 788.5,1246.8" fill="none" stroke="#000" stroke-width="5.1"/>
<polyline points="788.5,1068.4 788.5,1349.9" fill="none" stroke="#000" stroke-width="2" stroke-dasharray="12 6"/>
<polyline points="848.5,1053.9 848.5,1232.3" fill="none" stroke="#000" stroke-width="3.2"/>
<polyline points="681.1,1134 746.6,1134" fill="none" stroke="#000" stroke-width="3.8"/>
<polyline points="681.1,1150.4 706.6,1150.4 712,1155.8 712,1205 706.6,1210.4 681.1,1210.4" fill="none" stroke="#000" stroke-width="4.5"/>
<circle cx="739.3" cy="1180.6" r="32" fill="#fff" stroke="#000" stroke-width="5.8"/>
<polyline points="692,1180.6 781.2,1180.6" fill="none" stroke="#000" stroke-width="2" stroke-dasharray="30 6 5 6"/>
<polyline points="739.3,1117.6 739.3,1246.8" fill="none" stroke="#000" stroke-width="2" stroke-dasharray="30 6 5 6"/>
<polyline points="759.3,1212.3 759.3,1250.5" fill="none" stroke="#000" stroke-width="3.8"/>
<polyline points="713.8,1261.4 841.3,1241.4 983.2,1217.7 1026.9,1205 1150,1172.2" fill="none" stroke="#000" stroke-width="9"/>
<polyline points="746.6,1270.5 841.3,1255.9" fill="none" stroke="#000" stroke-width="3.2"/>
<polyline points="888.6,1246.8 983.2,1232.3" fill="none" stroke="#000" stroke-width="3.2"/>
<polyline points="746.6,1281.4 841.3,1268.7" fill="none" stroke="#000" stroke-width="2" stroke-dasharray="14 6"/>
<polyline points="888.6,1261.4 983.2,1246.8" fill="none" stroke="#000" stroke-width="2" stroke-dasharray="14 6"/>
<polyline points="1032.4,1210.4 1099.8,1194" fill="none" stroke="#000" stroke-width="3.8"/>
<polyline points="1032.4,1235.9 1099.8,1219.5" fill="none" stroke="#000" stroke-width="4.5"/>
<polyline points="1067,1203.2 1067,1228.6" fill="none" stroke="#000" stroke-width="3.8"/>
<polyline points="1088.8,1197.7 1088.8,1223.2" fill="none" stroke="#000" stroke-width="3.8"/>
<polyline points="681.1,1301.5 699.3,1299.6" fill="none" stroke="#000" stroke-width="4.5"/>
<polyline points="746.6,1279.6 764.8,1279.6 764.8,1349.9" fill="none" stroke="#000" stroke-width="4.5"/>
<polyline points="764.8,1292.3 841.3,1281.4" fill="none" stroke="#000" stroke-width="4.5"/>
<polyline points="914.1,1246.8 914.1,1349.9" fill="none" stroke="#000" stroke-width="4.5"/>
<polyline points="901.3,1250.5 901.3,1341.5" fill="none" stroke="#000" stroke-width="4.5"/>
<polyline points="914.1,1323.3 961.4,1310.6" fill="none" stroke="#000" stroke-width="4.5"/>
<polyline points="968.7,1228.6 968.7,1305.1" fill="none" stroke="#000" stroke-width="3.8"/>
<polyline points="1005.1,1263.2 1005.1,1279.6" fill="none" stroke="#000" stroke-width="4.5"/>
<polyline points="848.5,1286.9 848.5,1349.9" fill="none" stroke="#000" stroke-width="2" stroke-dasharray="12 6"/>
<polyline points="890.4,1286.9 890.4,1349.9" fill="none" stroke="#000" stroke-width="2" stroke-dasharray="12 6"/>
<polyline points="550,1137.6 585.3,1132.2" fill="none" stroke="#000" stroke-width="4.5"/>
<polyline points="550,1243.2 585.3,1237.7" fill="none" stroke="#000" stroke-width="4.5"/>
<polyline points="550,1319.7 585.3,1314.2" fill="none" stroke="#000" stroke-width="4.5"/>
<polyline points="566.4,1301.5 566.4,1349.9" fill="none" stroke="#000" stroke-width="3.8"/>
<polyline points="555.5,1126.7 555.5,1152.2" fill="none" stroke="#000" stroke-width="2" stroke-dasharray="12 6"/>
<polyline points="1026.9,917.4 1026.9,1179.5" fill="none" stroke="#000" stroke-width="5.1"/>
<polyline points="985.8,910.1 985.8,1043" fill="none" stroke="#000" stroke-width="5.1"/>
<polyline points="961.4,928.3 961.4,1053.9" fill="none" stroke="#000" stroke-width="3.2"/>
<polyline points="1067,995.6 1067,1123.1" fill="none" stroke="#000" stroke-width="3.2"/>
<polyline points="1096.1,1053.9 1096.1,1112.1" fill="none" stroke="#000" stroke-width="3.2"/>
<polyline points="957.8,1112.1 957.8,1206.8" fill="none" stroke="#000" stroke-width="2" stroke-dasharray="12 6"/>
<polyline points="986.9,1126.7 986.9,1179.5" fill="none" stroke="#000" stroke-width="2" stroke-dasharray="12 6"/>
<path d="M899.5,1053.9C902.5,1061.2 912.9,1083 917.7,1097.6C922.6,1112.1 926.7,1127.9 928.6,1141.3C930.6,1154.6 930.6,1164.3 929.4,1177.7C928.2,1191 922.7,1214.1 921.4,1221.4" fill="none" stroke="#000" stroke-width="3.2" stroke-linejoin="round"/>
<path d="M908.6,1006.6C909.5,1012.3 915,1026.6 921.4,1039.3C927.7,1052.1 936.5,1067.8 946.8,1083C957.2,1098.2 972.3,1116.4 983.2,1130.3C994.2,1144.3 1005.7,1157.3 1012.4,1166.7C1019,1176.1 1020.3,1184 1023.3,1186.8C1026.3,1189.5 1031.2,1187.7 1030.6,1183.1C1030,1178.6 1026.3,1169.8 1019.7,1159.5C1013,1149.1 1001.5,1135.2 990.5,1121.2C979.6,1107.3 964.4,1090 954.1,1075.7C943.8,1061.5 935,1047.5 928.6,1035.7C922.3,1023.8 919.2,1009.6 915.9,1004.7C912.6,999.9 907.7,1000.8 908.6,1006.6Z" fill="url(#h4)" stroke="#000" stroke-width="3.2" stroke-linejoin="round"/>
<path d="M892.2,919.2C897.1,917.1 920.1,917.1 925,919.2C929.8,921.3 926.2,929.8 921.4,931.9C916.5,934 900.7,934 895.9,931.9C891,929.8 887.4,921.3 892.2,919.2Z" fill="url(#h1)" stroke="#000" stroke-width="2.2" stroke-linejoin="round"/>
<polyline points="910.4,910.1 910.4,1006.6" fill="none" stroke="#000" stroke-width="2.2"/>
<path d="M901.3,942.8C904.7,940.7 912.6,938.3 915.9,941C919.2,943.7 921.1,953.2 921.4,959.2C921.7,965.3 918,971.7 917.7,977.4C917.4,983.2 921.7,990.5 919.5,993.8C917.4,997.1 908.6,999.6 905,997.4C901.3,995.3 898.3,986.8 897.7,981.1C897.1,975.3 901.6,967.4 901.3,962.9C901,958.3 895.9,957.1 895.9,953.8C895.9,950.4 898,945 901.3,942.8Z" fill="url(#h3)" stroke="#000" stroke-width="2.2" stroke-linejoin="round"/>
<path d="M925,944.7C927.1,945.3 935.3,945.9 937.7,948.3C940.2,950.7 940.5,955.6 939.6,959.2C938.6,962.9 931.4,965.3 932.3,970.1C933.2,975 943.5,982.3 945,988.3C946.5,994.4 940.5,1001.1 941.4,1006.6C942.3,1012 949.9,1015.7 950.5,1021.1C951.1,1026.6 944.4,1033.3 945,1039.3C945.6,1045.4 952.6,1054.5 954.1,1057.5" fill="none" stroke="#000" stroke-width="3.8" stroke-linejoin="round"/>
<path d="M932.3,973.8C931.7,977.4 928,987.7 928.6,995.6C929.2,1003.5 934.4,1012.6 935.9,1021.1C937.4,1029.6 935.6,1040.2 937.7,1046.6C939.9,1053 946.8,1057.2 948.7,1059.3" fill="none" stroke="#000" stroke-width="3.2" stroke-linejoin="round"/>
<path d="M955.9,1075.7C957.2,1072.7 959.3,1061.9 963.2,1057.5C967.2,1053.2 974.1,1049.2 979.6,1049.5C985.1,1049.8 994.2,1055 996,1059.3C997.8,1063.7 989.9,1068.1 990.5,1075.7C991.1,1083.3 996.6,1094.5 999.6,1104.9C1002.7,1115.2 1004.8,1127.9 1008.7,1137.6C1012.7,1147.3 1020.9,1158.9 1023.3,1163.1" fill="none" stroke="#000" stroke-width="3.8" stroke-linejoin="round"/>
<path d="M968.7,1061.2C971.1,1062.4 980.5,1064.2 983.2,1068.4C986,1072.7 983.6,1080.6 985.1,1086.6C986.6,1092.7 989.6,1096.4 992.3,1104.9C995.1,1113.3 999.9,1132.2 1001.5,1137.6" fill="none" stroke="#000" stroke-width="3.2" stroke-linejoin="round"/>
<path d="M985.1,917.4C987.8,913.7 995.1,901 1001.5,895.5C1007.8,890 1015.7,885.8 1023.3,884.6C1030.9,883.4 1040.3,884 1047,888.2C1053.6,892.5 1059.3,901.9 1063.3,910.1C1067.4,918.3 1071.7,931.9 1071.4,937.4C1071,942.8 1062.6,939.2 1061.5,942.8C1060.5,946.5 1065.8,955.3 1065.2,959.2C1064.6,963.2 1057.6,963.5 1057.9,966.5C1058.2,969.5 1064.9,972 1067,977.4C1069.1,982.9 1067,990.2 1070.6,999.3C1074.3,1008.4 1081.5,1020.5 1088.8,1032C1096.1,1043.6 1107.6,1057.5 1114.3,1068.4C1121,1079.4 1126.4,1092.7 1128.9,1097.6" fill="none" stroke="#000" stroke-width="3.8" stroke-linejoin="round"/>
<path d="M1047,948.3C1048.2,951.9 1051.5,962.3 1054.2,970.1C1057,978 1061.8,991.4 1063.3,995.6" fill="none" stroke="#000" stroke-width="3.2" stroke-linejoin="round"/>
<circle cx="1042.2" cy="922.8" r="6.5" fill="#000"/>
<circle cx="945" cy="1173.3" r="6.5" fill="#000"/>
<polyline points="1150,1097.6 1037.9,1128.5 1037.9,1186.8" fill="none" stroke="#000" stroke-width="4.5"/>
<polyline points="1150,1106.7 1050.6,1134 1050.6,1188.6" fill="none" stroke="#000" stroke-width="4.5"/>
<polyline points="1037.9,1128.5 1050.6,1134" fill="none" stroke="#000" stroke-width="3.8"/>
<path d="M895.9,1349.9C905,1344.8 932.3,1330.2 950.5,1319.7C968.7,1309.2 993,1293.6 1005.1,1286.9C1017.2,1280.2 1019,1279.6 1023.3,1279.6C1027.5,1279.6 1031.8,1282.6 1030.6,1286.9C1029.4,1291.1 1023.3,1299 1016,1305.1C1008.7,1311.2 991.7,1320.3 986.9,1323.3" fill="none" stroke="#000" stroke-width="4.5" stroke-linejoin="round"/>
<path d="M950.5,1349.9C959.6,1344.8 989.9,1327.7 1005.1,1319.7C1020.3,1311.6 1033.9,1302.7 1041.5,1301.5C1049.1,1300.2 1051.2,1307.5 1050.6,1312.4C1050,1317.2 1045.4,1324.3 1037.9,1330.6C1030.3,1336.8 1010.6,1346.7 1005.1,1349.9" fill="none" stroke="#000" stroke-width="4.5" stroke-linejoin="round"/>
<polyline points="1032.4,1265 1150,1208.6" fill="none" stroke="#000" stroke-width="4.5"/>
<polyline points="1052.4,1305.1 1150,1255.9" fill="none" stroke="#000" stroke-width="4.5"/>
<polyline points="1105.5,1327.5 1105.5,1449.9" fill="none" stroke="#000" stroke-width="5.1"/>
<polyline points="1118.2,1320.6 1118.2,1449.9" fill="none" stroke="#000" stroke-width="3.8"/>
<polyline points="1134.6,1311.7 1134.6,1449.9" fill="none" stroke="#000" stroke-width="5.1"/>
<polyline points="1152.8,1301.8 1152.8,1449.9" fill="none" stroke="#000" stroke-width="3.8"/>
<polyline points="1171,1291.9 1171,1449.9" fill="none" stroke="#000" stroke-width="5.1"/>
<polyline points="1185.6,1284 1185.6,1449.9" fill="none" stroke="#000" stroke-width="3.8"/>
<polyline points="1198.3,1277 1198.3,1449.9" fill="none" stroke="#000" stroke-width="5.1"/>
<polyline points="1211,1270.1 1211,1449.9" fill="none" stroke="#000" stroke-width="6.4"/>
<polyline points="1223.8,1263.2 1223.8,1449.9" fill="none" stroke="#000" stroke-width="3.8"/>
<polyline points="1240.2,1254.3 1240.2,1449.9" fill="none" stroke="#000" stroke-width="5.1"/>
<polyline points="1252.9,1247.4 1252.9,1449.9" fill="none" stroke="#000" stroke-width="3.8"/>
<path d="M1125.5,1374.1C1145.5,1376 1204.4,1383.9 1245.6,1385.1C1286.9,1386.3 1333.6,1383.2 1373.1,1381.4C1412.5,1379.6 1464.1,1375.4 1482.3,1374.1" fill="none" stroke="#000" stroke-width="2" stroke-linejoin="round" stroke-dasharray="14 7"/>
<path d="M1227.4,1332.3C1245.6,1331.7 1297.2,1331.1 1336.6,1328.6C1376.1,1326.2 1403.5,1326.2 1464.1,1317.7C1524.6,1309.2 1660.7,1284.3 1700,1277.7" fill="none" stroke="#000" stroke-width="2" stroke-linejoin="round" stroke-dasharray="14 7"/>
<path d="M1252.9,1350.5C1269.9,1349.6 1313.6,1348.1 1354.9,1345C1396.1,1342 1458,1336.8 1500.5,1332.3C1543,1327.7 1591.5,1320.1 1609.7,1317.7" fill="none" stroke="#000" stroke-width="2" stroke-linejoin="round" stroke-dasharray="14 7"/>
<path d="M1282,1277.7C1300.2,1279.8 1348.8,1289.5 1391.3,1290.4C1433.7,1291.3 1485.4,1288.6 1536.9,1283.1C1588.3,1277.7 1672.8,1261.9 1700,1257.6" fill="none" stroke="#000" stroke-width="2" stroke-linejoin="round" stroke-dasharray="14 7"/>
<path d="M1227.4,1321.4C1236.5,1321.1 1263.8,1320.1 1282,1319.5C1300.2,1318.9 1327.5,1318 1336.6,1317.7" fill="none" stroke="#000" stroke-width="2" stroke-linejoin="round" stroke-dasharray="14 7"/>
<polyline points="1100,1110.2 1409.5,1024.6 1442.2,1027.2" fill="none" stroke="#000" stroke-width="3.8"/>
<polyline points="1100,1120.4 1391.3,1039.2 1427.7,1028.3" fill="none" stroke="#000" stroke-width="3.8"/>
<polyline points="1444,1028.3 1444,1095.6 1227.4,1153.9" fill="none" stroke="#000" stroke-width="2" stroke-dasharray="14 7"/>
<polyline points="1412.4,1061 1412.4,1077.4" fill="none" stroke="#000" stroke-width="2.2"/>
<polyline points="1404,1068.3 1422.2,1068.3" fill="none" stroke="#000" stroke-width="2.2"/>
<circle cx="1257.3" cy="1098.5" r="6.5" fill="#000"/>
<polyline points="1205.6,1159.3 1445.9,1028.3 1529.6,984.6" fill="none" stroke="#000" stroke-width="3.8"/>
<polyline points="1100,1330.5 1351.2,1193.9 1606.1,1051.9" fill="none" stroke="#000" stroke-width="6.4"/>
<polyline points="1100,1279.5 1333,1153.9 1631.5,980.9" fill="none" stroke="#000" stroke-width="2" stroke-dasharray="40 7 5 7"/>
<polyline points="1100,1217.6 1205.6,1159.3" fill="none" stroke="#000" stroke-width="3.8"/>
<polyline points="1347.6,1175.7 1216.5,1244.9" fill="none" stroke="#000" stroke-width="2" stroke-dasharray="14 7"/>
<polyline points="1347.6,1175.7 1347.6,1197.6" fill="none" stroke="#000" stroke-width="2" stroke-dasharray="14 7"/>
<path d="M1125.5,1106.6C1136.4,1116.9 1164.9,1148.4 1191,1168.4C1217.1,1188.5 1259.6,1214.3 1282,1226.7C1304.5,1239.1 1318.4,1240.3 1325.7,1243.1" fill="none" stroke="#000" stroke-width="2" stroke-linejoin="round" stroke-dasharray="14 7"/>
<polygon points="1529.6,984.6 1500.5,1017.4 1522.3,1004.6 1527.8,1024.6 1555.1,997.3 1540.5,1041 1569.7,1024.6 1558.7,1053.8 1606.1,1050.1 1587.9,1035.6 1602.4,1019.2 1580.6,1010.1 1600.6,984.6 1569.7,995.5 1562.4,986.4 1540.5,995.5" fill="#000" stroke="#000" stroke-width="2.2"/>
<polygon points="1100,1179.4 1205.6,1158.2 1205.6,1164.8 1143.7,1204.9 1100,1221.2" fill="url(#h3)" stroke="#000" stroke-width="3.2" stroke-linejoin="round"/>
<polygon points="1209.2,1274 1343.9,1201.2 1351.2,1193.9 1351.2,1248.5 1340.3,1259.5 1252.9,1284.9 1209.2,1292.2" fill="url(#h1)" stroke="#000" stroke-width="3.2" stroke-linejoin="round"/>
<path d="M1351.2,1248.5C1370,1248.8 1427.1,1251.6 1464.1,1250.4C1501.1,1249.1 1534,1245.8 1573.3,1241.3C1612.6,1236.7 1678.9,1226.1 1700,1223.1" fill="none" stroke="#000" stroke-width="5.1" stroke-linejoin="round"/>
<polyline points="1338.5,1252.2 1338.5,1449.9" fill="none" stroke="#000" stroke-width="6.4"/>
<polyline points="1360.3,1252.2 1360.3,1449.9" fill="none" stroke="#000" stroke-width="5.1"/>
<polyline points="1455,1252.2 1455,1449.9" fill="none" stroke="#000" stroke-width="3.8"/>
<polyline points="1480.5,1252.2 1480.5,1449.9" fill="none" stroke="#000" stroke-width="6.4"/>
<polyline points="1575.1,1243.1 1575.1,1449.9" fill="none" stroke="#000" stroke-width="3.8"/>
<polyline points="1600.6,1243.1 1600.6,1449.9" fill="none" stroke="#000" stroke-width="6.4"/>
<polyline points="1697.1,1243.1 1697.1,1449.9" fill="none" stroke="#000" stroke-width="3.8"/>
<path d="M1338.5,1308.6C1359.4,1305.5 1424.9,1302.5 1464.1,1299.5C1503.2,1296.5 1534,1294 1573.3,1290.4C1612.6,1286.8 1678.9,1278.3 1700,1277.7C1721.1,1277.1 1721.1,1283 1700,1286.8C1678.9,1290.5 1612.6,1296.5 1573.3,1300.2C1534,1304 1503.2,1306.3 1464.1,1309.3C1424.9,1312.4 1359.4,1318.6 1338.5,1318.4C1317.5,1318.3 1317.5,1311.8 1338.5,1308.6Z" fill="url(#h4)" stroke="#000" stroke-width="2.2" stroke-linejoin="round"/>
<polygon points="1371.2,1323.2 1371.2,1436 1442.2,1426.9 1442.2,1332.3 1438.6,1321.4 1429.5,1315.9 1391.3,1319.5" fill="#fff" stroke="#000" stroke-width="4.5"/>
<polyline points="1373.1,1350.5 1440.4,1345" fill="none" stroke="#000" stroke-width="2.2"/>
<polyline points="1373.1,1379.6 1440.4,1374.1" fill="none" stroke="#000" stroke-width="5.8"/>
<path d="M1380.3,1308.6C1384,1306.2 1394.9,1295.3 1402.2,1294C1409.5,1292.8 1420.4,1300.1 1424,1301.3" fill="none" stroke="#000" stroke-width="4.5" stroke-linejoin="round"/>
<polygon points="1489.6,1314.1 1489.6,1414.2 1562.4,1399.6 1562.4,1325 1558,1314.1 1547.8,1308.6 1511.4,1312.3" fill="#fff" stroke="#000" stroke-width="4.5"/>
<polyline points="1491.4,1337.7 1560.6,1330.5" fill="none" stroke="#000" stroke-width="2.2"/>
<polyline points="1491.4,1365 1560.6,1355.9" fill="none" stroke="#000" stroke-width="5.8"/>
<polygon points="1609.7,1299.5 1609.7,1381.4 1682.5,1368.7 1682.5,1308.6 1678.1,1297.7 1668,1292.2 1627.9,1295.9" fill="#fff" stroke="#000" stroke-width="4.5"/>
<polyline points="1611.5,1319.5 1680.7,1310.4" fill="none" stroke="#000" stroke-width="2.2"/>
<polyline points="1611.5,1348.7 1680.7,1339.6" fill="none" stroke="#000" stroke-width="5.8"/>
<path d="M1618.8,1283.1C1622.1,1281.6 1631.5,1274.9 1638.8,1274C1646.1,1273.1 1658.5,1277.1 1662.5,1277.7" fill="none" stroke="#000" stroke-width="4.5" stroke-linejoin="round"/>
<polygon points="1480.5,1312.3 1498.7,1310.4 1498.7,1326.8 1480.5,1328.6" fill="url(#h1)" stroke="#000" stroke-width="3.2" stroke-linejoin="round"/>
<polygon points="1582.4,1301.3 1600.6,1299.5 1600.6,1317.7 1582.4,1319.5" fill="url(#h1)" stroke="#000" stroke-width="3.2" stroke-linejoin="round"/>
<polygon points="1455,1428.8 1480.5,1425.1 1480.5,1449.9 1455,1449.9" fill="url(#h1)" stroke="#000" stroke-width="3.2" stroke-linejoin="round"/>
<polygon points="1575.1,1396 1600.6,1392.3 1600.6,1428.8 1575.1,1432.4" fill="url(#h1)" stroke="#000" stroke-width="3.2" stroke-linejoin="round"/>
<polyline points="1338.5,1419.7 1360.3,1417.8" fill="none" stroke="#000" stroke-width="3.8"/>
<polyline points="1455,1401.5 1480.5,1399.6" fill="none" stroke="#000" stroke-width="3.8"/>
<polyline points="1617,1419.7 1700,1390.5" fill="none" stroke="#000" stroke-width="2" stroke-dasharray="14 7"/>
<polyline points="1617,1430.6 1700,1403.3" fill="none" stroke="#000" stroke-width="2" stroke-dasharray="14 7"/>
<circle cx="1416.7" cy="1363.2" r="6.5" fill="#000"/>
<path d="M1205.6,1408.7C1208,1404.2 1213.2,1401.5 1216.5,1403.3C1219.8,1405.1 1224.7,1413.6 1225.6,1419.7C1226.5,1425.7 1224.4,1435.4 1222,1439.7C1219.5,1443.9 1214.4,1446.7 1211,1445.1C1207.7,1443.6 1202.9,1436.6 1201.9,1430.6C1201,1424.5 1203.2,1413.3 1205.6,1408.7Z" fill="url(#h1)" stroke="#000" stroke-width="3.8" stroke-linejoin="round"/>
<polyline points="1215.8,1270.4 1215.8,1405.1" fill="none" stroke="#000" stroke-width="3.8"/>
<path d="M2342,1012C2340.5,1016.7 2340,1027.8 2333,1040C2326,1052.2 2311.8,1070 2300,1085C2288.2,1100 2276.2,1113.3 2262,1130C2247.8,1146.7 2232,1166.7 2215,1185C2198,1203.3 2180,1220.8 2160,1240C2140,1259.2 2117.2,1279.2 2095,1300C2072.8,1320.8 2050.3,1343.3 2027,1365C2003.7,1386.7 1979.2,1408.2 1955,1430C1930.8,1451.8 1907.8,1471.7 1882,1496C1856.2,1520.3 1830.3,1547.3 1800,1576C1769.7,1604.7 1731,1641.7 1700,1668C1669,1694.3 1628.3,1723 1614,1734" fill="none" stroke="#000" stroke-width="6.4" stroke-linejoin="round"/>
<polyline points="1614,1734 1468,1842 1388,1900 1066,2150 850,2307 567,2514" fill="none" stroke="#000" stroke-width="6.4"/>
<polyline points="567,2514 0,2514" fill="none" stroke="#000" stroke-width="6.4"/>
<polyline points="1180,1910 1757.9,1601 1767,1618" fill="none" stroke="#000" stroke-width="4.5"/>
<polyline points="1167,1899.7 1180,1910" fill="none" stroke="#000" stroke-width="4.5"/>
<path d="M1271.8,1680C1266.8,1691.2 1252.1,1726 1242,1747.5C1231.9,1769 1223.5,1783.6 1211,1809C1198.5,1834.4 1174.3,1884.6 1167,1899.7" fill="none" stroke="#000" stroke-width="4.5" stroke-linejoin="round"/>
<polyline points="1271.8,1680 1291.9,1671" fill="none" stroke="#000" stroke-width="4.5"/>
<path d="M2337,1027C2330.8,1035.5 2314.5,1062.3 2300,1078C2285.5,1093.7 2265.7,1108.7 2250,1121C2234.3,1133.3 2224.8,1137.2 2206,1152C2187.2,1166.8 2160.7,1190.3 2137,1210C2113.3,1229.7 2086.5,1250.8 2064,1270C2041.5,1289.2 2026.3,1307.3 2002,1325C1977.7,1342.7 1950.2,1357.3 1918,1376C1885.8,1394.7 1845.3,1418.7 1809,1437C1772.7,1455.3 1732.5,1471.3 1700,1486C1667.5,1500.7 1646.5,1510.2 1614,1525C1581.5,1539.8 1541.3,1558.2 1505,1575C1468.7,1591.8 1431.5,1610 1396,1626C1360.5,1642 1309.3,1663.5 1292,1671" fill="none" stroke="#000" stroke-width="4.5" stroke-linejoin="round"/>
<path d="M1308,1598C1326.8,1592.7 1388.2,1576.3 1421,1566C1453.8,1555.7 1472.8,1548.5 1505,1536C1537.2,1523.5 1581.5,1506.8 1614,1491C1646.5,1475.2 1667.5,1456 1700,1441C1732.5,1426 1778.7,1413.7 1809,1401C1839.3,1388.3 1860.7,1377.7 1882,1365C1903.3,1352.3 1924.8,1334.2 1937,1325C1949.2,1315.8 1952,1312.5 1955,1310" fill="none" stroke="#000" stroke-width="5.8" stroke-linejoin="round"/>
<path d="M1302,1525.6C1317.6,1521 1365.4,1507.1 1395.6,1498C1425.8,1488.9 1453.6,1481.3 1483,1471C1512.4,1460.7 1544.2,1446.7 1572,1436C1599.8,1425.3 1628.7,1414.8 1650,1407C1671.3,1399.2 1667.3,1397.8 1700,1389C1732.7,1380.2 1807.2,1366.5 1846,1354C1884.8,1341.5 1918.5,1320.7 1933,1314" fill="none" stroke="#000" stroke-width="3.8" stroke-linejoin="round"/>
<polyline points="1302,1525.6 1290,1589 1308,1598 1292,1671" fill="none" stroke="#000" stroke-width="4.5"/>
<path d="M1250,1717C1274.3,1709 1347.5,1687.3 1396,1669C1444.5,1650.7 1492.5,1628.8 1541,1607C1589.5,1585.2 1635.5,1562.8 1687,1538C1738.5,1513.2 1810.3,1478.3 1850,1458C1889.7,1437.7 1912.5,1423 1925,1416" fill="none" stroke="#000" stroke-width="2" stroke-linejoin="round" stroke-dasharray="16 8"/>
<path d="M1250,1753C1274.3,1744.5 1347.5,1722 1396,1702C1444.5,1682 1492.5,1656.7 1541,1633C1589.5,1609.3 1643.8,1580.8 1687,1560C1730.2,1539.2 1770.5,1522.3 1800,1508C1829.5,1493.7 1853.3,1479.7 1864,1474" fill="none" stroke="#000" stroke-width="2" stroke-linejoin="round" stroke-dasharray="16 8"/>
<path d="M1250,1560C1263.3,1556.7 1291.7,1550.8 1330,1540C1368.3,1529.2 1431.7,1510.8 1480,1495C1528.3,1479.2 1583.3,1458.8 1620,1445C1656.7,1431.2 1686.7,1417.5 1700,1412" fill="none" stroke="#000" stroke-width="2" stroke-linejoin="round" stroke-dasharray="16 8"/>
<path d="M1339.2,1618.4C1339.8,1616 1340.1,1607.7 1342.8,1603.9C1345.6,1600.1 1350.7,1596.4 1355.6,1595.5C1360.4,1594.6 1368.2,1596.1 1372,1598.4C1375.7,1600.7 1377.9,1605.7 1378.2,1609.3C1378.5,1613 1376.9,1617.8 1373.8,1620.3C1370.6,1622.7 1363.2,1624.7 1359.2,1623.9C1355.3,1623.1 1350.7,1618.5 1350.1,1615.5C1349.5,1612.6 1353.2,1607.4 1355.6,1606.1C1358,1604.7 1362.9,1606.1 1364.7,1607.5C1366.5,1609 1366.2,1613.6 1366.5,1614.8" fill="none" stroke="#000" stroke-width="3.8" stroke-linejoin="round"/>
<path d="M1304.6,1654.9C1305.8,1653 1307.6,1646.7 1311.9,1643.9C1316.1,1641.2 1324.6,1638.8 1330.1,1638.5C1335.6,1638.2 1343.4,1640 1344.7,1642.1C1345.9,1644.2 1341,1650 1337.4,1651.2C1333.7,1652.4 1325.2,1649.7 1322.8,1649.4" fill="none" stroke="#000" stroke-width="3.8" stroke-linejoin="round"/>
<path d="M1308.3,1660.3C1315.5,1658.2 1339.8,1652.1 1351.9,1647.6C1364.1,1643 1372,1639.7 1381.1,1633C1390.2,1626.3 1399.3,1616 1406.6,1607.5C1413.8,1599 1418.1,1588.3 1424.8,1582C1431.4,1575.8 1439.3,1572.1 1446.6,1570C1453.9,1567.9 1461.8,1567.9 1468.4,1569.3C1475.1,1570.7 1484.2,1575.1 1486.6,1578.4C1489.1,1581.7 1486.6,1586.3 1483,1589.3C1479.4,1592.4 1470.9,1596 1464.8,1596.6C1458.7,1597.2 1450.8,1595.4 1446.6,1593C1442.4,1590.5 1439,1585.1 1439.3,1582C1439.6,1579 1444.2,1575.7 1448.4,1574.8C1452.7,1573.8 1461.5,1575.1 1464.8,1576.6C1468.1,1578.1 1469.7,1582 1468.4,1583.9C1467.2,1585.7 1459.3,1586.9 1457.5,1587.5" fill="none" stroke="#000" stroke-width="3.8" stroke-linejoin="round"/>
<path d="M1359.2,1636.6C1363.5,1634.2 1377.4,1628.5 1384.7,1622.1C1392,1615.7 1396.8,1606.3 1402.9,1598.4C1409,1590.5 1415,1580.5 1421.1,1574.8C1427.2,1569 1436.3,1565.7 1439.3,1563.8" fill="none" stroke="#000" stroke-width="3.8" stroke-linejoin="round"/>
<path d="M1486.6,1574.8C1490.9,1573.7 1503,1570 1512.1,1568.2C1521.2,1566.4 1531.5,1566.4 1541.3,1563.8C1551,1561.3 1561.3,1557.2 1570.4,1552.9C1579.5,1548.7 1588,1543.2 1595.9,1538.3C1603.8,1533.5 1614.1,1526.2 1617.7,1523.8" fill="none" stroke="#000" stroke-width="3.8" stroke-linejoin="round"/>
<path d="M1512.1,1547.4C1515.8,1543.5 1526.1,1530.2 1534,1523.8C1541.9,1517.4 1555.2,1511.6 1559.5,1509.2" fill="none" stroke="#000" stroke-width="3.8" stroke-linejoin="round"/>
<path d="M1519.4,1549.3C1523.7,1545.6 1536.4,1533.8 1544.9,1527.4C1553.4,1521.1 1566.1,1513.8 1570.4,1511" fill="none" stroke="#000" stroke-width="3.8" stroke-linejoin="round"/>
<path d="M1530.3,1549.3C1534.6,1545.6 1547.9,1533.5 1555.8,1527.4C1563.7,1521.4 1574,1515.3 1577.7,1512.9" fill="none" stroke="#000" stroke-width="3.8" stroke-linejoin="round"/>
<path d="M1541.3,1547.4C1545.5,1543.8 1558.9,1532 1566.7,1525.6C1574.6,1519.2 1584.9,1512 1588.6,1509.2" fill="none" stroke="#000" stroke-width="3.8" stroke-linejoin="round"/>
<path d="M1563.1,1531.1C1566.7,1528 1578.9,1517.7 1584.9,1512.9C1591,1508 1597.1,1503.8 1599.5,1501.9" fill="none" stroke="#000" stroke-width="3.8" stroke-linejoin="round"/>
<path d="M1492.1,1540.2C1493,1539.3 1495.7,1534.7 1497.6,1534.7C1499.4,1534.7 1503,1538.3 1503,1540.2C1503,1542 1499.4,1545.6 1497.6,1545.6C1495.7,1545.6 1493,1541.1 1492.1,1540.2" fill="none" stroke="#000" stroke-width="3.8" stroke-linejoin="round"/>
<path d="M1617.7,1525.6C1622,1521.7 1634.1,1509.5 1643.2,1501.9C1652.3,1494.4 1662,1485.6 1672.3,1480.1C1682.6,1474.6 1695.4,1472.2 1705.1,1469.2C1714.8,1466.1 1726.3,1463.1 1730.6,1461.9" fill="none" stroke="#000" stroke-width="3.8" stroke-linejoin="round"/>
<path d="M1635.9,1509.2C1641.4,1506.2 1658.4,1495.3 1668.7,1491C1679,1486.8 1691.7,1483.7 1697.8,1483.7C1703.9,1483.7 1706.9,1488.3 1705.1,1491C1703.3,1493.7 1693,1498.9 1686.9,1500.1C1680.8,1501.3 1671.7,1498.6 1668.7,1498.3" fill="none" stroke="#000" stroke-width="3.8" stroke-linejoin="round"/>
<path d="M1621.4,1527.4C1629.2,1525 1651.7,1521.1 1668.7,1512.9C1685.7,1504.7 1706.9,1488.6 1723.3,1478.3C1739.7,1468 1752.4,1457.6 1767,1451C1781.5,1444.3 1797.3,1443.1 1810.7,1438.2C1824,1433.4 1841,1424.6 1847.1,1421.8" fill="none" stroke="#000" stroke-width="3.8" stroke-linejoin="round"/>
<path d="M1734.2,1432.8C1738.5,1430.9 1749.4,1425.5 1759.7,1421.8C1770,1418.2 1784,1414.6 1796.1,1410.9C1808.2,1407.3 1826.4,1401.8 1832.5,1400" fill="none" stroke="#000" stroke-width="3.8" stroke-linejoin="round"/>
<path d="M1730.6,1436.4C1736.6,1437 1754.8,1441.9 1767,1440C1779.1,1438.2 1791.3,1430.9 1803.4,1425.5C1815.5,1420 1833.7,1410.3 1839.8,1407.3" fill="none" stroke="#000" stroke-width="3.8" stroke-linejoin="round"/>
<path d="M1752.4,1454.6C1756.7,1451.3 1768.2,1440 1777.9,1434.6C1787.6,1429.1 1801.6,1424.3 1810.7,1421.8C1819.8,1419.4 1831.3,1418.2 1832.5,1420C1833.7,1421.8 1825.2,1429.4 1818,1432.8C1810.7,1436.1 1793.7,1438.8 1788.8,1440" fill="none" stroke="#000" stroke-width="3.8" stroke-linejoin="round"/>
<path d="M1734.6,1432.2C1737.9,1429.7 1746.4,1422.1 1754.6,1417.6C1762.8,1413 1778,1406.1 1783.7,1404.9C1789.5,1403.6 1792.2,1406.7 1789.2,1410.3C1786.2,1414 1773.7,1422.4 1765.5,1426.7C1757.3,1430.9 1745.2,1434.9 1740,1435.8C1734.9,1436.7 1735.5,1432.8 1734.6,1432.2" fill="none" stroke="#000" stroke-width="3.8" stroke-linejoin="round"/>
<path d="M1700,1466.7C1703.6,1464.9 1712.7,1457.9 1721.8,1455.8C1730.9,1453.7 1747.3,1453.4 1754.6,1454C1761.9,1454.6 1766.7,1456.7 1765.5,1459.5C1764.3,1462.2 1755.2,1468 1747.3,1470.4C1739.4,1472.8 1726.1,1472.8 1718.2,1474C1710.3,1475.2 1703,1477.1 1700,1477.7" fill="none" stroke="#000" stroke-width="3.8" stroke-linejoin="round"/>
<path d="M1798.3,1412.1C1801.3,1410.3 1810.4,1406.1 1816.5,1401.2C1822.6,1396.4 1832.3,1383.6 1834.7,1383C1837.1,1382.4 1834.7,1393 1831.1,1397.6C1827.4,1402.1 1815.9,1408.2 1812.9,1410.3" fill="none" stroke="#000" stroke-width="3.8" stroke-linejoin="round"/>
<path d="M1791,1410.3C1794.1,1407.6 1803.2,1398.5 1809.2,1393.9C1815.3,1389.4 1824.4,1384.8 1827.4,1383" fill="none" stroke="#000" stroke-width="3.8" stroke-linejoin="round"/>
<path d="M1761.9,1441.3C1769.8,1440 1795.3,1438.8 1809.2,1434C1823.2,1429.1 1835.3,1420 1845.6,1412.1C1855.9,1404.2 1862.6,1394.2 1871.1,1386.6C1879.6,1379.1 1888.7,1370.3 1896.6,1366.6C1904.5,1363 1914.2,1363.3 1918.4,1364.8C1922.7,1366.3 1924.5,1372.1 1922.1,1375.7C1919.7,1379.4 1909.3,1385.4 1903.9,1386.6C1898.4,1387.9 1891.7,1383.6 1889.3,1383" fill="none" stroke="#000" stroke-width="3.8" stroke-linejoin="round"/>
<path d="M1842,1421.2C1845.6,1418.5 1855.9,1412.4 1863.8,1404.9C1871.7,1397.3 1880.2,1384.2 1889.3,1375.7C1898.4,1367.2 1907.5,1359.3 1918.4,1353.9C1929.4,1348.4 1943.3,1347.8 1954.9,1343C1966.4,1338.1 1982.2,1327.8 1987.6,1324.8" fill="none" stroke="#000" stroke-width="3.8" stroke-linejoin="round"/>
<path d="M1925.7,1306.6C1927.5,1304.1 1930.6,1297.4 1936.6,1292C1942.7,1286.5 1953,1279.9 1962.1,1273.8C1971.2,1267.7 1981.5,1262.3 1991.3,1255.6C2001,1248.9 2010.7,1241.6 2020.4,1233.7C2030.1,1225.8 2040.4,1216.7 2049.5,1208.3C2058.6,1199.8 2068.3,1191.3 2075,1182.8C2081.7,1174.3 2087.1,1161.5 2089.6,1157.3" fill="none" stroke="#000" stroke-width="3.8" stroke-linejoin="round"/>
<path d="M1933,1299.3C1936.6,1297.8 1946.4,1295.6 1954.9,1290.2C1963.3,1284.7 1974.3,1274.1 1984,1266.5C1993.7,1258.9 2003.4,1252.5 2013.1,1244.7C2022.8,1236.8 2033.1,1228.3 2042.2,1219.2C2051.3,1210.1 2061,1199.8 2067.7,1190C2074.4,1180.3 2079.8,1165.8 2082.3,1160.9" fill="none" stroke="#000" stroke-width="3.8" stroke-linejoin="round"/>
<path d="M1951.2,1321.1C1951.8,1319.3 1951.8,1312.6 1954.9,1310.2C1957.9,1307.8 1965.2,1305.9 1969.4,1306.6C1973.7,1307.2 1979.1,1310.8 1980.3,1313.8C1981.5,1316.9 1979.1,1322.3 1976.7,1324.8C1974.3,1327.2 1967.6,1327.8 1965.8,1328.4" fill="none" stroke="#000" stroke-width="3.8" stroke-linejoin="round"/>
<path d="M1973.1,1310.2C1974.9,1310.5 1981.5,1310.2 1984,1312C1986.4,1313.8 1987,1319.6 1987.6,1321.1" fill="none" stroke="#000" stroke-width="3.8" stroke-linejoin="round"/>
<path d="M1962.1,1343C1957.9,1344.8 1946.4,1352.1 1936.6,1353.9C1926.9,1355.7 1913,1352.7 1903.9,1353.9C1894.8,1355.1 1885.7,1359.9 1882,1361.2" fill="none" stroke="#000" stroke-width="3.8" stroke-linejoin="round"/>
<path d="M1351,1248.5C1369.8,1248.8 1427,1251.2 1464,1250C1501,1248.8 1533.7,1245.8 1573,1241C1612.3,1236.2 1660.7,1230.3 1700,1221C1739.3,1211.7 1772.7,1198.3 1809,1185C1845.3,1171.7 1884.6,1157.1 1918,1141C1951.4,1124.9 1985.2,1105.8 2009.5,1088.6C2033.8,1071.4 2048.8,1054.6 2064,1037.6C2079.2,1020.6 2090.5,1004.3 2100.5,986.7C2110.5,969.1 2117.3,950.8 2124,932C2130.7,913.2 2137.8,883.7 2140.5,874" fill="none" stroke="#000" stroke-width="5.1" stroke-linejoin="round"/>
<path d="M1700,1249C1724.2,1241.7 1796.5,1226.3 1845,1205C1893.5,1183.7 1948.5,1151.3 1991,1121C2033.5,1090.7 2073.8,1053.3 2100,1023C2126.2,992.7 2137.3,963.3 2148,939C2158.7,914.7 2161.3,887.3 2164,877" fill="none" stroke="#000" stroke-width="2" stroke-linejoin="round" stroke-dasharray="16 8"/>
<path d="M1955,1227C1973.2,1214.2 2034,1177 2064,1150C2094,1123 2117.8,1095.3 2135,1065C2152.2,1034.7 2159.5,1000.5 2167,968C2174.5,935.5 2177.8,886.3 2180,870" fill="none" stroke="#000" stroke-width="4.5" stroke-linejoin="round"/>
<path d="M2202,852C2201.4,865.3 2201.5,903.5 2198.5,932C2195.5,960.5 2190.1,998.7 2184,1023C2177.9,1047.3 2169.3,1065.2 2162,1078C2154.7,1090.8 2143.7,1096.3 2140,1100" fill="none" stroke="#000" stroke-width="4.5" stroke-linejoin="round"/>
<path d="M2185,880C2187.3,881.4 2199,885.7 2198.9,888.6C2198.9,891.5 2184.8,894.3 2184.7,897.2C2184.6,900.1 2198.4,902.9 2198.3,905.8C2198.1,908.7 2183.9,911.5 2183.7,914.4C2183.4,917.3 2197.2,920.1 2196.9,923C2196.6,925.9 2182.3,928.7 2182,931.6C2181.7,934.5 2195.3,937.3 2194.9,940.2C2194.5,943.1 2180.1,945.9 2179.7,948.8C2179.2,951.7 2192.8,954.5 2192.3,957.4C2191.8,960.3 2177.2,963.1 2176.7,966C2176.1,968.9 2189.5,971.7 2188.9,974.6C2188.3,977.5 2173.7,980.3 2173,983.2C2172.4,986.1 2185.7,988.9 2184.9,991.8C2184.2,994.7 2169.5,997.5 2168.7,1000.4C2167.9,1003.3 2181.1,1006.1 2180.3,1009C2179.4,1011.9 2164.6,1014.7 2163.7,1017.6C2162.8,1020.5 2175.9,1023.3 2175,1026.2C2174,1029.1 2159,1031.9 2158,1034.8C2157,1037.7 2170,1040.5 2169,1043.4C2167.9,1046.3 2152.8,1049.1 2151.7,1052C2150.6,1054.9 2163.5,1057.7 2162.3,1060.6C2161.1,1063.5 2146,1066.3 2144.7,1069.2C2143.5,1072.1 2156.3,1074.9 2155,1077.8C2153.7,1080.7 2138.4,1083.5 2137.1,1086.4C2135.7,1089.3 2145.3,1093.6 2147,1095" fill="none" stroke="#000" stroke-width="3.8" stroke-linejoin="round"/>
<ellipse cx="2161" cy="831" rx="44" ry="45" fill="#fff" stroke="#000" stroke-width="4"/>
<path d="M2125,850C2126.7,853.3 2128.3,865 2135,870C2141.7,875 2155,880.8 2165,880C2175,879.2 2190,867.5 2195,865" fill="none" stroke="#000" stroke-width="5.1" stroke-linejoin="round"/>
<path d="M2150.1,854.8C2149.3,854 2146.8,851.6 2145.5,849.7C2144.2,847.9 2143.1,845.8 2142.3,843.7C2141.6,841.7 2141.1,839.4 2140.9,837.3C2140.7,835.1 2140.7,832.9 2141.1,830.8C2141.5,828.7 2142.1,826.6 2143,824.7C2143.8,822.8 2145,820.9 2146.3,819.3C2147.6,817.8 2149.1,816.3 2150.7,815.1C2152.3,814 2154.2,813 2156,812.3C2157.8,811.6 2159.8,811.1 2161.7,810.9C2163.6,810.7 2165.6,810.8 2167.4,811C2169.3,811.3 2171.1,811.9 2172.8,812.6C2174.5,813.3 2176.1,814.3 2177.5,815.4C2178.9,816.6 2180.2,817.9 2181.2,819.3C2182.3,820.7 2183.2,822.3 2183.8,823.9C2184.4,825.4 2184.8,827.2 2185,828.8C2185.2,830.5 2185.2,832.2 2185,833.8C2184.8,835.4 2184.3,837 2183.7,838.4C2183.1,839.9 2182.2,841.3 2181.3,842.5C2180.3,843.7 2179.2,844.8 2178,845.7C2176.8,846.6 2175.5,847.4 2174.1,847.9C2172.8,848.5 2171.3,848.8 2169.9,849C2168.5,849.2 2167.1,849.2 2165.7,849C2164.4,848.8 2163,848.4 2161.8,847.9C2160.6,847.4 2159.4,846.7 2158.4,845.9C2157.4,845.1 2156.4,844.2 2155.7,843.2C2154.9,842.2 2154.3,841.1 2153.9,840C2153.4,838.9 2153.1,837.7 2153,836.5C2152.8,835.4 2152.8,834.2 2153,833.1C2153.2,832 2153.5,830.9 2153.9,829.9C2154.3,828.9 2154.9,828 2155.5,827.2C2156.2,826.3 2156.9,825.6 2157.7,825C2158.5,824.4 2159.4,824 2160.3,823.6C2161.2,823.3 2162.1,823 2163,822.9C2163.9,822.8 2164.8,822.9 2165.7,823C2166.5,823.1 2167.4,823.4 2168.1,823.7C2168.9,824.1 2169.6,824.5 2170.2,825C2170.8,825.5 2171.3,826.1 2171.7,826.7C2172.2,827.3 2172.5,828 2172.7,828.7C2173,829.3 2173.1,830.4 2173.1,830.7" fill="none" stroke="#000" stroke-width="4.5" stroke-linejoin="round"/>
<polyline points="1716.4,1219.7 1716.4,1249.9" fill="none" stroke="#000" stroke-width="3.8"/>
<polyline points="1809.2,1185.1 1809.2,1249.9" fill="none" stroke="#000" stroke-width="3.8"/>
<polyline points="1834,1179.6 1834,1249.9" fill="none" stroke="#000" stroke-width="5.8"/>
<polyline points="1922.1,1141.4 1922.1,1249.9" fill="none" stroke="#000" stroke-width="3.8"/>
<polyline points="1949.4,1125 1949.4,1249.9" fill="none" stroke="#000" stroke-width="5.8"/>
<polyline points="2042.2,1055.8 2042.2,1161.4" fill="none" stroke="#000" stroke-width="3.8"/>
<polyline points="2065.9,1030.3 2065.9,1150.5" fill="none" stroke="#000" stroke-width="5.8"/>
<polyline points="1716.4,1219.2 1716.4,1368.4" fill="none" stroke="#000" stroke-width="5.8"/>
<polyline points="1809.2,1186.4 1809.2,1339.3" fill="none" stroke="#000" stroke-width="3.8"/>
<polyline points="1834,1179.1 1834,1324.8" fill="none" stroke="#000" stroke-width="5.8"/>
<polyline points="1922.1,1150 1922.1,1277.4" fill="none" stroke="#000" stroke-width="3.8"/>
<polyline points="1949.4,1150 1949.4,1262.9" fill="none" stroke="#000" stroke-width="5.8"/>
<polygon points="1809.2,1196 1834,1192.3 1834,1223.3 1809.2,1225.1" fill="url(#h1)" stroke="#000" stroke-width="3.2" stroke-linejoin="round"/>
<polygon points="2042.2,1148.7 2064.1,1145 2064.1,1172.3 2042.2,1186.9" fill="url(#h1)" stroke="#000" stroke-width="3.2" stroke-linejoin="round"/>
<polygon points="1809.2,1295.6 1834,1293.8 1834,1324.8 1809.2,1339.3" fill="url(#h1)" stroke="#000" stroke-width="3.2" stroke-linejoin="round"/>
<polygon points="1922.1,1239.2 1949.4,1231.9 1949.4,1262.9 1922.1,1277.4" fill="url(#h1)" stroke="#000" stroke-width="3.2" stroke-linejoin="round"/>
<polygon points="1700,1348.4 1718.2,1346.6 1718.2,1373.9 1700,1377.5" fill="url(#h1)" stroke="#000" stroke-width="3.2" stroke-linejoin="round"/>
<polyline points="1809.2,1273.8 1834,1272" fill="none" stroke="#000" stroke-width="3.8"/>
<polyline points="1922.1,1226.5 1949.4,1221" fill="none" stroke="#000" stroke-width="3.8"/>
<polygon points="1729.1,1339.3 1729.1,1277.4 1736.4,1261 1751,1250.1 1769.2,1248.3 1785.6,1257.4 1796.5,1273.8 1797.6,1310.2" fill="#fff" stroke="#000" stroke-width="5.1"/>
<polyline points="1730.9,1288.3 1796.5,1272" fill="none" stroke="#000" stroke-width="2.2"/>
<polyline points="1730.9,1312 1796.5,1293.8" fill="none" stroke="#000" stroke-width="6.4"/>
<polygon points="1842,1286.5 1842,1231.9 1849.3,1215.5 1863.8,1206.4 1882,1204.6 1898.4,1213.7 1909.3,1230.1 1911.2,1253.8" fill="#fff" stroke="#000" stroke-width="5.1"/>
<polyline points="1843.8,1246.5 1909.3,1228.3" fill="none" stroke="#000" stroke-width="2.2"/>
<polyline points="1843.8,1272 1911.2,1250.1" fill="none" stroke="#000" stroke-width="5.1"/>
<polygon points="1959.2,1222.8 1959.2,1164.6 1965.8,1150 1980.3,1137.3 2002.2,1133.6 2020.4,1144.5 2027.7,1160.9 2028.8,1179.1" fill="#fff" stroke="#000" stroke-width="5.1"/>
<polyline points="1961,1190 2027.7,1160.9" fill="none" stroke="#000" stroke-width="2.2"/>
<polygon points="2075,1114.1 2075,1059.5 2082.3,1046.7 2096.8,1039.4 2113.2,1041.3 2124.1,1052.2 2126.7,1064.9" fill="#fff" stroke="#000" stroke-width="5.1"/>
<polyline points="2076.8,1090.4 2118.7,1052.2" fill="none" stroke="#000" stroke-width="2.2"/>
<path d="M1700,1317C1718.2,1311.3 1772.7,1296.7 1809,1283C1845.3,1269.3 1884.5,1253.8 1918,1235C1951.5,1216.2 1985.7,1189.2 2010,1170C2034.3,1150.8 2055,1128.3 2064,1120" fill="none" stroke="#000" stroke-width="2" stroke-linejoin="round" stroke-dasharray="16 8"/>
<polyline points="1700,1381 1791,1352" fill="none" stroke="#000" stroke-width="2" stroke-dasharray="16 8"/>
<path d="M1700,1336C1716.7,1330.8 1766.7,1317.3 1800,1305C1833.3,1292.7 1874.2,1274.2 1900,1262C1925.8,1249.8 1945.8,1237 1955,1232" fill="none" stroke="#000" stroke-width="3.8" stroke-linejoin="round"/>
<path d="M2216.7,828.3C2217.4,824.9 2216.7,813.7 2220.4,808.3C2224,802.8 2232.2,796.7 2238.6,795.5C2245,794.3 2253.6,797 2258.6,801C2263.6,804.9 2266.9,814 2268.4,819.2C2270,824.3 2267.8,829.8 2267.7,831.9" fill="none" stroke="#000" stroke-width="4.5" stroke-linejoin="round"/>
<path d="M2198.5,866.5C2199.1,862.9 2198.5,850.7 2202.2,844.7C2205.8,838.6 2213.1,833.1 2220.4,830.1C2227.7,827.1 2238,826.2 2245.9,826.5C2253.8,826.8 2260.4,828.6 2267.7,831.9C2275,835.3 2282.9,841.9 2289.6,846.5C2296.2,851 2302.3,854.4 2307.8,859.2C2313.2,864.1 2320.5,870.4 2322.3,875.6C2324.1,880.8 2321.7,886.8 2318.7,890.2C2315.7,893.5 2304.7,892.9 2304.1,895.6C2303.5,898.4 2312.9,902.3 2315,906.6C2317.2,910.8 2318.7,916.9 2316.9,921.1C2315,925.4 2307.8,929 2304.1,932C2300.5,935.1 2295.9,935.7 2295,939.3C2294.1,943 2299.6,949.6 2298.7,953.9C2297.8,958.1 2292.9,961.2 2289.6,964.8C2286.2,968.4 2281.1,971.5 2278.6,975.7C2276.2,980 2275.6,987.9 2275,990.3" fill="none" stroke="#000" stroke-width="4.5" stroke-linejoin="round"/>
<path d="M2282.3,910.2C2283.8,909 2287.7,903.5 2291.4,902.9C2295,902.3 2301.4,904.1 2304.1,906.6C2306.9,909 2309,914.4 2307.8,917.5C2306.5,920.5 2300.8,924.1 2296.8,924.8C2292.9,925.4 2286.2,921.7 2284.1,921.1" fill="none" stroke="#000" stroke-width="4.5" stroke-linejoin="round"/>
<path d="M2229.5,870.1C2230.7,867.7 2233.4,858 2236.8,855.6C2240.1,853.2 2247.1,853.2 2249.5,855.6C2251.9,858 2252.5,866.8 2251.3,870.1C2250.1,873.5 2243.7,874.7 2242.2,875.6" fill="none" stroke="#000" stroke-width="4.5" stroke-linejoin="round"/>
<path d="M2275,870.1C2276.8,868.9 2282.6,862.9 2285.9,862.9C2289.3,862.9 2293.5,868.9 2295,870.1" fill="none" stroke="#000" stroke-width="3.8" stroke-linejoin="round"/>
<path d="M2264.1,1004.9C2267.7,1002.4 2278,994.8 2285.9,990.3C2293.8,985.7 2303.5,980.3 2311.4,977.5C2319.3,974.8 2327.2,973 2333.2,973.9C2339.3,974.8 2345,978.5 2347.8,983C2350.7,987.6 2351.3,996.2 2350.4,1001.2C2349.4,1006.2 2345.2,1012.3 2342.3,1012.9C2339.5,1013.5 2336.6,1005 2333.2,1004.9C2329.9,1004.7 2326,1008.5 2322.3,1012.1C2318.7,1015.8 2315,1020 2311.4,1026.7C2307.8,1033.4 2304.7,1044.3 2300.5,1052.2C2296.2,1060.1 2290.8,1067.4 2285.9,1074C2281.1,1080.7 2276.2,1087.4 2271.4,1092.2C2266.5,1097.1 2261,1101.9 2256.8,1103.2C2252.5,1104.4 2248.3,1103.8 2245.9,1099.5C2243.4,1095.3 2242.8,1081.3 2242.2,1077.7" fill="none" stroke="#000" stroke-width="4.5" stroke-linejoin="round"/>
<path d="M2198.5,866.5C2197.3,872.6 2191.9,890.8 2191.3,902.9C2190.7,915 2195.5,927.2 2194.9,939.3C2194.3,951.5 2188.2,964.8 2187.6,975.7C2187,986.6 2190.7,1000 2191.3,1004.9" fill="none" stroke="#000" stroke-width="3.8" stroke-linejoin="round"/>
<path d="M2213.1,895.6C2214.3,900.5 2220.4,915 2220.4,924.8C2220.4,934.5 2212.5,944.2 2213.1,953.9C2213.7,963.6 2222.8,972.1 2224,983C2225.2,993.9 2219.8,1008.5 2220.4,1019.4C2221,1030.3 2228.3,1038.8 2227.7,1048.5C2227.1,1058.2 2217.4,1068 2216.7,1077.7C2216.1,1087.4 2225.2,1097.1 2224,1106.8C2222.8,1116.5 2211.9,1131.1 2209.5,1135.9" fill="none" stroke="#000" stroke-width="3.8" stroke-linejoin="round"/>
<path d="M2234.9,902.9C2236.8,907.8 2245.3,923.5 2245.9,932C2246.5,940.5 2238,946.6 2238.6,953.9C2239.2,961.2 2248.3,967.2 2249.5,975.7C2250.7,984.2 2246.5,1000 2245.9,1004.9" fill="none" stroke="#000" stroke-width="3.2" stroke-linejoin="round"/>
<path d="M2256.8,921.1C2258,925.4 2263.8,938.7 2264.1,946.6C2264.4,954.5 2258,961.8 2258.6,968.4C2259.2,975.1 2266.2,983.6 2267.7,986.6" fill="none" stroke="#000" stroke-width="3.2" stroke-linejoin="round"/>
<path d="M2209.5,870.1C2210.7,875.6 2216.7,892.6 2216.7,902.9C2216.7,913.2 2210.7,927.2 2209.5,932" fill="none" stroke="#000" stroke-width="3.2" stroke-linejoin="round"/>
<path d="M2242.2,1052.2C2241,1056.4 2234.9,1068 2234.9,1077.7C2234.9,1087.4 2243.4,1101.9 2242.2,1110.4C2241,1118.9 2232.5,1122.6 2227.7,1128.6C2222.8,1134.7 2219.2,1142.6 2213.1,1146.8C2207,1151.1 2198.5,1150.5 2191.3,1154.1C2184,1157.8 2176.1,1165 2169.4,1168.7C2162.7,1172.3 2156.7,1172.9 2151.2,1176C2145.7,1179 2139.1,1185.1 2136.6,1186.9" fill="none" stroke="#000" stroke-width="4.5" stroke-linejoin="round"/>
<path d="M2151.2,1150.5C2153,1148.1 2157.9,1140.2 2162.1,1135.9C2166.4,1131.7 2174.3,1126.8 2176.7,1125" fill="none" stroke="#000" stroke-width="3.2" stroke-linejoin="round"/>
<path d="M2125.7,1183.2C2130,1181.4 2142.7,1175.4 2151.2,1172.3C2159.7,1169.3 2168.2,1168.1 2176.7,1165C2185.2,1162 2197.9,1155.9 2202.2,1154.1" fill="none" stroke="#000" stroke-width="3.8" stroke-linejoin="round"/>
<path d="M2293.2,1055.8C2294.4,1054 2297.4,1051 2300.5,1044.9C2303.5,1038.8 2309.6,1023.7 2311.4,1019.4" fill="none" stroke="#000" stroke-width="3.8" stroke-linejoin="round"/>
<path d="M2082.3,1150C2079.2,1154.9 2071.4,1167 2064.1,1179.1C2056.8,1191.3 2044,1207.6 2038.6,1222.8C2033.1,1238 2032.8,1255.6 2031.3,1270.1C2029.8,1284.7 2026.5,1302.3 2029.5,1310.2C2032.5,1318.1 2041.6,1315.7 2049.5,1317.5C2057.4,1319.3 2072.6,1322.9 2076.8,1321.1C2081.1,1319.3 2077.7,1310.8 2075,1306.6C2072.3,1302.3 2063.2,1303.5 2060.4,1295.6C2057.7,1287.7 2055.6,1268.3 2058.6,1259.2C2061.6,1250.1 2070.4,1244.7 2078.6,1241C2086.8,1237.4 2100.5,1240.4 2107.8,1237.4C2115,1234.3 2119.9,1225.2 2122.3,1222.8" fill="none" stroke="#000" stroke-width="4.5" stroke-linejoin="round"/>
<path d="M2002.2,1270.1C2001.9,1274.4 2000.4,1286.5 2000.4,1295.6C2000.4,1304.7 2001.9,1319.9 2002.2,1324.8" fill="none" stroke="#000" stroke-width="3.8" stroke-linejoin="round"/>
<path d="M2129.6,1186.4C2132.6,1184 2141.1,1175.5 2147.8,1171.8C2154.5,1168.2 2162.4,1167 2169.7,1164.6C2176.9,1162.1 2184.8,1159.7 2191.5,1157.3C2198.2,1154.9 2206.7,1151.2 2209.7,1150" fill="none" stroke="#000" stroke-width="4.5" stroke-linejoin="round"/>
<path d="M2122.3,1222.8C2124.1,1218 2129.6,1201.6 2133.2,1193.7C2136.9,1185.8 2142.3,1178.5 2144.2,1175.5" fill="none" stroke="#000" stroke-width="3.8" stroke-linejoin="round"/>
<path d="M2076.8,1222.8C2079.5,1222.2 2089.3,1221 2093.2,1219.2C2097.1,1217.4 2099.3,1213.1 2100.5,1211.9" fill="none" stroke="#000" stroke-width="3.2" stroke-linejoin="round"/>
<path d="M2220.4,844.7C2221.6,847.1 2227.4,853.8 2227.7,859.2C2228,864.7 2221.9,871.4 2222.2,877.4C2222.5,883.5 2228.3,892.6 2229.5,895.6" fill="none" stroke="#000" stroke-width="3.2" stroke-linejoin="round"/>
<path d="M2242.2,881.1C2243.4,884.7 2249.2,896.2 2249.5,902.9C2249.8,909.6 2245,918.1 2244,921.1" fill="none" stroke="#000" stroke-width="3.2" stroke-linejoin="round"/>
<path d="M2227.7,910.2C2228.6,913.8 2233.1,924.8 2233.1,932C2233.1,939.3 2227.4,947.2 2227.7,953.9C2228,960.6 2233.7,969.1 2234.9,972.1" fill="none" stroke="#000" stroke-width="3.2" stroke-linejoin="round"/>
<path d="M2253.2,946.6C2254.4,950.2 2260.1,961.2 2260.4,968.4C2260.7,975.7 2254.4,984.2 2255,990.3C2255.6,996.4 2262.6,1002.4 2264.1,1004.9" fill="none" stroke="#000" stroke-width="3.2" stroke-linejoin="round"/>
<path d="M2271.4,953.9C2272.6,956.3 2278,963.6 2278.6,968.4C2279.2,973.3 2275.6,980.6 2275,983" fill="none" stroke="#000" stroke-width="3.2" stroke-linejoin="round"/>
<path d="M2242.2,983C2243.4,986.6 2249.2,997.6 2249.5,1004.9C2249.8,1012.1 2243.7,1019.4 2244,1026.7C2244.4,1034 2250.1,1044.9 2251.3,1048.5" fill="none" stroke="#000" stroke-width="3.2" stroke-linejoin="round"/>
<path d="M2205.8,953.9C2206.4,957.5 2209.8,968.4 2209.5,975.7C2209.2,983 2204,990.3 2204,997.6C2204,1004.9 2208.6,1015.8 2209.5,1019.4" fill="none" stroke="#000" stroke-width="3.2" stroke-linejoin="round"/>
<path d="M2194.9,1004.9C2195.8,1008.5 2200.4,1019.4 2200.4,1026.7C2200.4,1034 2195.8,1044.9 2194.9,1048.5" fill="none" stroke="#000" stroke-width="3.2" stroke-linejoin="round"/>
<path d="M2229.5,1004.9C2230.7,1008.5 2236.5,1018.8 2236.8,1026.7C2237.1,1034.6 2232.2,1047.9 2231.3,1052.2" fill="none" stroke="#000" stroke-width="3.2" stroke-linejoin="round"/>
<path d="M2264.1,892C2265.3,895 2271.1,904.1 2271.4,910.2C2271.7,916.3 2265.6,922.9 2265.9,928.4C2266.2,933.9 2272,940.5 2273.2,943" fill="none" stroke="#000" stroke-width="3.2" stroke-linejoin="round"/>
<path d="M2216.7,1055.8C2217.7,1059.5 2222.2,1070.4 2222.2,1077.7C2222.2,1084.9 2217.7,1095.9 2216.7,1099.5" fill="none" stroke="#000" stroke-width="3.2" stroke-linejoin="round"/>
<path d="M2280.5,924.8C2281.4,927.2 2285.6,934.5 2285.9,939.3C2286.2,944.2 2282.9,951.5 2282.3,953.9" fill="none" stroke="#000" stroke-width="3.2" stroke-linejoin="round"/>
<path d="M2191.3,859.2C2190.7,862.9 2187.3,873.8 2187.6,881.1C2187.9,888.3 2193.1,895.6 2193.1,902.9C2193.1,910.2 2187.9,917.5 2187.6,924.8C2187.3,932 2191.6,939.3 2191.3,946.6C2191,953.9 2186.1,961.2 2185.8,968.4C2185.5,975.7 2188.8,986.6 2189.4,990.3" fill="none" stroke="#000" stroke-width="3.2" stroke-linejoin="round"/>
<circle cx="2239.5" cy="818" r="6.5" fill="#000"/>
<polyline points="14.6,1400 14.6,1899.9" fill="none" stroke="#000" stroke-width="5.1"/>
<polyline points="43.7,1509.2 43.7,1669.4" fill="none" stroke="#000" stroke-width="4.5"/>
<polyline points="96.5,1574.8 96.5,1684" fill="none" stroke="#000" stroke-width="4.5"/>
<polyline points="132.9,1574.8 132.9,1899.9" fill="none" stroke="#000" stroke-width="4.5"/>
<polyline points="233,1487.4 233,1899.9" fill="none" stroke="#000" stroke-width="3.8"/>
<polyline points="287.6,1400 287.6,1556.6" fill="none" stroke="#000" stroke-width="3.8"/>
<polyline points="329.5,1476.5 329.5,1662.1" fill="none" stroke="#000" stroke-width="3.8"/>
<polyline points="358.6,1421.8 358.6,1662.1" fill="none" stroke="#000" stroke-width="3.8"/>
<polyline points="396.8,1414.6 396.8,1594.8" fill="none" stroke="#000" stroke-width="3.8"/>
<polyline points="515.2,1425.5 515.2,1633" fill="none" stroke="#000" stroke-width="3.8"/>
<polyline points="555.2,1400 555.2,1899.9" fill="none" stroke="#000" stroke-width="4.5"/>
<polyline points="578.9,1400 578.9,1596.6" fill="none" stroke="#000" stroke-width="3.8"/>
<polyline points="7.3,1684 7.3,1899.9" fill="none" stroke="#000" stroke-width="3.2"/>
<polyline points="116.5,1720.4 116.5,1899.9" fill="none" stroke="#000" stroke-width="5.1"/>
<polyline points="160.2,1720.4 160.2,1899.9" fill="none" stroke="#000" stroke-width="3.8"/>
<polyline points="254.9,1709.5 254.9,1899.9" fill="none" stroke="#000" stroke-width="4.5"/>
<polyline points="282.2,1691.3 282.2,1899.9" fill="none" stroke="#000" stroke-width="3.8"/>
<polyline points="418.7,1654.9 418.7,1899.9" fill="none" stroke="#000" stroke-width="3.8"/>
<polyline points="429.6,1664 429.6,1899.9" fill="none" stroke="#000" stroke-width="3.8"/>
<polyline points="487.9,1720.4 487.9,1899.9" fill="none" stroke="#000" stroke-width="4.5"/>
<polyline points="515.2,1720.4 515.2,1899.9" fill="none" stroke="#000" stroke-width="3.8"/>
<polyline points="578.9,1676.7 578.9,1899.9" fill="none" stroke="#000" stroke-width="4.5"/>
<polyline points="158.4,1432.8 158.4,1899.9" fill="none" stroke="#000" stroke-width="2" stroke-dasharray="40 7 5 7"/>
<polyline points="271.2,1410.9 271.2,1589.3" fill="none" stroke="#000" stroke-width="2" stroke-dasharray="40 7 5 7"/>
<polyline points="424.1,1429.1 424.1,1654.9" fill="none" stroke="#000" stroke-width="2" stroke-dasharray="40 7 5 7"/>
<polyline points="14.6,1421.8 14.6,1509.2" fill="none" stroke="#000" stroke-width="2" stroke-dasharray="14 7"/>
<polyline points="129.2,1414.6 129.2,1461.9" fill="none" stroke="#000" stroke-width="2" stroke-dasharray="14 7"/>
<polyline points="329.5,1589.3 329.5,1647.6" fill="none" stroke="#000" stroke-width="2" stroke-dasharray="14 7"/>
<polyline points="356.8,1589.3 356.8,1647.6" fill="none" stroke="#000" stroke-width="2" stroke-dasharray="14 7"/>
<polyline points="396.8,1594.8 396.8,1647.6" fill="none" stroke="#000" stroke-width="2" stroke-dasharray="14 7"/>
<polyline points="41.9,1778.6 41.9,1899.9" fill="none" stroke="#000" stroke-width="2" stroke-dasharray="14 7"/>
<polyline points="96.5,1764.1 96.5,1899.9" fill="none" stroke="#000" stroke-width="2" stroke-dasharray="14 7"/>
<polyline points="276.7,1691.3 276.7,1899.9" fill="none" stroke="#000" stroke-width="2" stroke-dasharray="14 7"/>
<polyline points="469.7,1702.2 469.7,1899.9" fill="none" stroke="#000" stroke-width="2" stroke-dasharray="14 7"/>
<polyline points="553.4,1654.9 553.4,1778.6" fill="none" stroke="#000" stroke-width="2" stroke-dasharray="14 7"/>
<polyline points="0,1467.4 30.9,1463.7" fill="none" stroke="#000" stroke-width="5.1"/>
<polyline points="58.3,1460.1 218.4,1438.2" fill="none" stroke="#000" stroke-width="5.1"/>
<polyline points="249.4,1434.6 311.3,1425.5" fill="none" stroke="#000" stroke-width="5.1"/>
<polyline points="344,1421.8 396.8,1414.6" fill="none" stroke="#000" stroke-width="5.1"/>
<polyline points="89.2,1414.6 182,1401.8" fill="none" stroke="#000" stroke-width="4.5"/>
<polyline points="453.3,1403.6 502.4,1396.4" fill="none" stroke="#000" stroke-width="5.1"/>
<polyline points="256.7,1400 271.2,1574.8" fill="none" stroke="#000" stroke-width="3.8"/>
<polyline points="291.3,1400 283.2,1560.2" fill="none" stroke="#000" stroke-width="3.8"/>
<polygon points="395,1400 409.6,1651.2 407.8,1651.2 407.8,1664 436.9,1664 436.9,1651.2 438.7,1651.2 453.3,1400" fill="#fff" stroke="#000" stroke-width="4.5"/>
<path d="M189.3,1516.5 L222.1,1516.5 Q254.9,1560.2 327.7,1582 T404.1,1594.8 L404.1,1642.1 L189.3,1669.4 Z" fill="#fff" stroke="#000" stroke-width="3.5"/>
<polyline points="442.3,1598.4 509.7,1600.2 509.7,1629.4" fill="none" stroke="#000" stroke-width="4.5"/>
<circle cx="243.2" cy="1614.8" r="25.5" fill="#fff" stroke="#000" stroke-width="6.4"/>
<circle cx="304" cy="1616.6" r="6.5" fill="#000"/>
<circle cx="151.1" cy="1512.9" r="6.5" fill="#000"/>
<circle cx="419.4" cy="1578.4" r="6.5" fill="#000"/>
<circle cx="4.4" cy="1670.1" r="6.5" fill="#000"/>
<polygon points="80.1,1527.4 145.6,1525.6 151.1,1532.9 151.1,1571.1 145.6,1575.5 80.1,1574.8" fill="url(#h2)" stroke="#000" stroke-width="3.2" stroke-linejoin="round"/>
<polygon points="132.9,1471 140.2,1461.9 160.2,1456.4 182,1461.9 189.3,1471 178.4,1498.3 140.2,1498.3" fill="#fff" stroke="#000" stroke-width="4.5"/>
<polyline points="134.7,1472.8 187.5,1472.8" fill="none" stroke="#000" stroke-width="3.8"/>
<polyline points="131.1,1501.9 189.3,1501.9" fill="none" stroke="#000" stroke-width="4.5"/>
<polyline points="131.1,1501.9 131.1,1574.8" fill="none" stroke="#000" stroke-width="5.1"/>
<polyline points="189.3,1501.9 189.3,1899.9" fill="none" stroke="#000" stroke-width="5.8"/>
<polyline points="40,1420 40,1409.1 89.2,1409.1 89.2,1427.3 58.3,1427.3" fill="none" stroke="#000" stroke-width="4.5"/>
<polygon points="30.9,1420 58.3,1420 58.3,1509.2 30.9,1509.2" fill="#fff" stroke="#000" stroke-width="4.5"/>
<polyline points="44.6,1423.7 44.6,1505.6" fill="none" stroke="#000" stroke-width="2" stroke-dasharray="14 7"/>
<polygon points="218.4,1400 249.4,1400 249.4,1487.4 218.4,1487.4" fill="#fff" stroke="#000" stroke-width="4.5"/>
<polyline points="233.9,1403.6 233.9,1483.7" fill="none" stroke="#000" stroke-width="2" stroke-dasharray="14 7"/>
<polygon points="311.3,1400 344,1400 344,1476.5 311.3,1476.5" fill="#fff" stroke="#000" stroke-width="4.5"/>
<polyline points="327.7,1403.6 327.7,1472.8" fill="none" stroke="#000" stroke-width="2" stroke-dasharray="14 7"/>
<polygon points="502.4,1392.7 531.5,1392.7 531.5,1425.5 502.4,1425.5" fill="#fff" stroke="#000" stroke-width="4.5"/>
<polyline points="517,1396.4 517,1421.8" fill="none" stroke="#000" stroke-width="2" stroke-dasharray="14 7"/>
<polygon points="43.7,1400 87.4,1400 87.4,1407.3 43.7,1409.1" fill="url(#h1)" stroke="#000" stroke-width="3.2" stroke-linejoin="round"/>
<path d="M85.6,1682.2C107.7,1679.7 172,1672.8 218.4,1667.6C264.9,1662.4 321.6,1656.1 364.1,1651.2C406.5,1646.4 444.2,1642.4 473.3,1638.5C502.4,1634.5 527.9,1629.4 538.8,1627.5" fill="none" stroke="#000" stroke-width="8.3" stroke-linejoin="round"/>
<polygon points="0,1653 25.5,1653 47.3,1662.1 47.3,1680.3 0,1680.3" fill="#fff" stroke="#000" stroke-width="4.5"/>
<path d="M54.6,1667.6C57,1663.8 64.3,1662.6 69.2,1665C74,1667.5 83.1,1677.8 83.7,1682.2C84.3,1686.5 77.7,1690.3 72.8,1691.3C68,1692.2 57.6,1691.6 54.6,1687.6C51.6,1683.7 52.2,1671.4 54.6,1667.6Z" fill="url(#h1)" stroke="#000" stroke-width="3.2" stroke-linejoin="round"/>
<polygon points="40,1687.6 94.7,1684 94.7,1738.6 40,1740.4" fill="url(#h2)" stroke="#000" stroke-width="3.2" stroke-linejoin="round"/>
<polygon points="189.3,1682.2 234.8,1678.5 234.8,1720.4 189.3,1722.2" fill="url(#h3)" stroke="#000" stroke-width="3.2" stroke-linejoin="round"/>
<polygon points="322.2,1664 382.3,1659.2 382.3,1704 322.2,1705.8" fill="url(#h1)" stroke="#000" stroke-width="3.2" stroke-linejoin="round"/>
<polygon points="469.7,1644.7 527.9,1638.5 527.9,1680.3 469.7,1683.2" fill="url(#h2)" stroke="#000" stroke-width="3.2" stroke-linejoin="round"/>
<path d="M524.3,1614.8C522.4,1609.8 529.1,1602.5 535.2,1599.5C541.3,1596.5 554.3,1595.9 560.7,1596.6C567,1597.3 571.6,1599 573.4,1603.9C575.2,1608.7 576.1,1621.5 571.6,1625.7C567,1630 554,1631.2 546.1,1629.4C538.2,1627.5 526.1,1619.8 524.3,1614.8Z" fill="url(#h1)" stroke="#000" stroke-width="3.2" stroke-linejoin="round"/>
<polyline points="45.5,1740.4 45.5,1778.6 76.5,1778.6 76.5,1760.4 94.7,1760.4 94.7,1738.6" fill="none" stroke="#000" stroke-width="4.5"/>
<polyline points="191.1,1722.2 191.1,1740.4 218.4,1740.4" fill="none" stroke="#000" stroke-width="4.5"/>
<polyline points="322.2,1705.8 322.2,1724 349.5,1724 349.5,1744 380.5,1744 380.5,1704" fill="none" stroke="#000" stroke-width="4.5"/>
<polyline points="469.7,1683.2 469.7,1702.2 491.5,1702.2 491.5,1720.4 527.9,1720.4 527.9,1680.3" fill="none" stroke="#000" stroke-width="4.5"/>
<polygon points="77.5,1760.4 118.3,1760.4 118.3,1899.9 77.5,1899.9" fill="#fff" stroke="#000" stroke-width="0.1"/>
<polyline points="77.5,1899.9 77.5,1760.4 118.3,1760.4 118.3,1899.9" fill="none" stroke="#000" stroke-width="4.5"/>
<polyline points="97.9,1764.1 97.9,1896.2" fill="none" stroke="#000" stroke-width="2" stroke-dasharray="14 7"/>
<polyline points="218.4,1742.2 234.8,1742.2 234.8,1702.2 251.2,1702.2 251.2,1742.2" fill="none" stroke="#000" stroke-width="4.5"/>
<polygon points="218.4,1742.2 251.2,1742.2 251.2,1895.1 218.4,1895.1" fill="#fff" stroke="#000" stroke-width="4.5"/>
<polyline points="234.8,1745.9 234.8,1891.5" fill="none" stroke="#000" stroke-width="2" stroke-dasharray="14 7"/>
<polygon points="305.8,1725.8 349.5,1725.8 349.5,1899.9 305.8,1899.9" fill="#fff" stroke="#000" stroke-width="0.1"/>
<polyline points="305.8,1899.9 305.8,1725.8 349.5,1725.8 349.5,1899.9" fill="none" stroke="#000" stroke-width="4.5"/>
<polyline points="327.7,1729.5 327.7,1896.2" fill="none" stroke="#000" stroke-width="2" stroke-dasharray="14 7"/>
<polygon points="449.6,1687.6 490.4,1687.6 490.4,1902.1 449.6,1902.1" fill="#fff" stroke="#000" stroke-width="0.1"/>
<polyline points="449.6,1902.1 449.6,1687.6 490.4,1687.6 490.4,1902.1" fill="none" stroke="#000" stroke-width="4.5"/>
<polyline points="470,1691.3 470,1898.4" fill="none" stroke="#000" stroke-width="2" stroke-dasharray="14 7"/>
<polyline points="0,1687.6 40,1685.8" fill="none" stroke="#000" stroke-width="4.5"/>
<polyline points="0,1705.8 40,1704" fill="none" stroke="#000" stroke-width="3.8"/>
<polyline points="0,1729.5 40,1725.8" fill="none" stroke="#000" stroke-width="2" stroke-dasharray="14 7"/>
<polyline points="94.7,1720.4 189.3,1709.5" fill="none" stroke="#000" stroke-width="3.8"/>
<polyline points="94.7,1727.7 189.3,1716.7" fill="none" stroke="#000" stroke-width="2" stroke-dasharray="14 7"/>
<polyline points="234.8,1702.2 322.2,1691.3" fill="none" stroke="#000" stroke-width="3.8"/>
<polyline points="382.3,1687.6 469.7,1676.7" fill="none" stroke="#000" stroke-width="3.8"/>
<polyline points="382.3,1694.9 469.7,1684" fill="none" stroke="#000" stroke-width="2" stroke-dasharray="14 7"/>
<polyline points="527.9,1662.1 600,1653" fill="none" stroke="#000" stroke-width="3.8"/>
<polyline points="527.9,1671.2 600,1662.1" fill="none" stroke="#000" stroke-width="2" stroke-dasharray="14 7"/>
<polyline points="538.8,1620.3 600,1613" fill="none" stroke="#000" stroke-width="2" stroke-dasharray="14 7"/>
<polyline points="571.6,1598.4 600,1594.8" fill="none" stroke="#000" stroke-width="2" stroke-dasharray="14 7"/>
<polyline points="0,1851.5 131.1,1833.2" fill="none" stroke="#000" stroke-width="5.8"/>
<polyline points="191.1,1826 218.4,1822.3" fill="none" stroke="#000" stroke-width="5.1"/>
<polyline points="251.2,1818.7 322.2,1807.8" fill="none" stroke="#000" stroke-width="5.1"/>
<polyline points="350.2,1802.3 449.6,1787.7" fill="none" stroke="#000" stroke-width="5.1"/>
<polyline points="491.5,1780.5 600,1764.1" fill="none" stroke="#000" stroke-width="5.1"/>
<polyline points="191.1,1758.6 218.4,1755" fill="none" stroke="#000" stroke-width="4.5"/>
<polyline points="251.2,1749.5 307.6,1740.4" fill="none" stroke="#000" stroke-width="4.5"/>
<polyline points="350.2,1720.4 380.5,1716.7" fill="none" stroke="#000" stroke-width="3.8"/>
<path d="M577.1,1899.9C576.8,1865.1 574.3,1729.7 575.2,1691.3C576.1,1652.8 579.8,1673.4 582.5,1669.4C585.2,1665.5 588.9,1665.8 591.6,1667.6C594.3,1669.4 597.5,1670.3 598.9,1680.3C600.3,1690.3 599.8,1719.8 600,1727.7" fill="none" stroke="#000" stroke-width="5.1" stroke-linejoin="round"/>
<polyline points="557.3,1350 557.3,1849.9" fill="none" stroke="#000" stroke-width="5.1"/>
<polyline points="746.6,1350 746.6,1441" fill="none" stroke="#000" stroke-width="3.8"/>
<polyline points="786.6,1350 786.6,1430.1" fill="none" stroke="#000" stroke-width="3.8"/>
<polyline points="786.6,1502.9 786.6,1583" fill="none" stroke="#000" stroke-width="4.5"/>
<polyline points="848.5,1350 848.5,1379.1" fill="none" stroke="#000" stroke-width="3.8"/>
<polyline points="848.5,1459.2 848.5,1553.9" fill="none" stroke="#000" stroke-width="3.8"/>
<polyline points="890.4,1444.7 890.4,1499.3" fill="none" stroke="#000" stroke-width="5.1"/>
<polyline points="983.2,1393.7 983.2,1543" fill="none" stroke="#000" stroke-width="3.8"/>
<polyline points="1026.9,1371.8 1026.9,1539.3" fill="none" stroke="#000" stroke-width="3.8"/>
<polyline points="1072.4,1350 1072.4,1532" fill="none" stroke="#000" stroke-width="3.8"/>
<polyline points="1099.8,1350 1099.8,1524.8" fill="none" stroke="#000" stroke-width="5.1"/>
<polyline points="1118,1350 1118,1521.1" fill="none" stroke="#000" stroke-width="3.8"/>
<polyline points="1132.5,1350 1132.5,1517.5" fill="none" stroke="#000" stroke-width="5.1"/>
<polyline points="772.1,1648.5 772.1,1849.9" fill="none" stroke="#000" stroke-width="4.5"/>
<polyline points="790.3,1626.7 790.3,1849.9" fill="none" stroke="#000" stroke-width="3.8"/>
<polyline points="841.3,1714.1 841.3,1849.9" fill="none" stroke="#000" stroke-width="3.8"/>
<polyline points="866.7,1634 866.7,1750.5" fill="none" stroke="#000" stroke-width="3.8"/>
<polyline points="892.2,1641.3 892.2,1849.9" fill="none" stroke="#000" stroke-width="3.8"/>
<polyline points="979.6,1666.7 979.6,1735.9" fill="none" stroke="#000" stroke-width="4.5"/>
<polyline points="1005.1,1663.1 1005.1,1728.6" fill="none" stroke="#000" stroke-width="4.5"/>
<polyline points="1034.2,1768.7 1034.2,1849.9" fill="none" stroke="#000" stroke-width="3.8"/>
<polyline points="979.6,1786.9 979.6,1849.9" fill="none" stroke="#000" stroke-width="3.8"/>
<polyline points="1001.5,1783.2 1001.5,1849.9" fill="none" stroke="#000" stroke-width="3.8"/>
<polyline points="732,1663.1 732,1816" fill="none" stroke="#000" stroke-width="4.5"/>
<polyline points="748.4,1652.2 748.4,1823.3" fill="none" stroke="#000" stroke-width="2"/>
<polyline points="748.4,1663.1 748.4,1823.3" fill="none" stroke="#000" stroke-width="2" stroke-dasharray="14 7"/>
<polyline points="846.7,1648.5 846.7,1750.5" fill="none" stroke="#000" stroke-width="2" stroke-dasharray="14 7"/>
<polyline points="884.9,1634 884.9,1849.9" fill="none" stroke="#000" stroke-width="2" stroke-dasharray="14 7"/>
<polyline points="879.5,1677.7 879.5,1849.9" fill="none" stroke="#000" stroke-width="2" stroke-dasharray="14 7"/>
<polyline points="550,1384.6 577.3,1384.6" fill="none" stroke="#000" stroke-width="5.1"/>
<polyline points="550,1619.4 571.8,1617.6" fill="none" stroke="#000" stroke-width="4.5"/>
<polygon points="550,1597.6 571.8,1593.9 571.8,1626.7 550,1628.5" fill="url(#h2)" stroke="#000" stroke-width="3.2" stroke-linejoin="round"/>
<polyline points="550,1655.8 577.3,1652.2" fill="none" stroke="#000" stroke-width="5.1"/>
<polyline points="550,1677.7 577.3,1674" fill="none" stroke="#000" stroke-width="3.8"/>
<polyline points="550,1601.2 670.1,1568.4" fill="none" stroke="#000" stroke-width="2" stroke-dasharray="16 7"/>
<polyline points="550,1614 670.1,1579.4" fill="none" stroke="#000" stroke-width="2" stroke-dasharray="16 7"/>
<polyline points="550,1626.7 670.1,1590.3" fill="none" stroke="#000" stroke-width="2" stroke-dasharray="16 7"/>
<polyline points="550,1659.5 670.1,1623.1" fill="none" stroke="#000" stroke-width="2" stroke-dasharray="16 7"/>
<polyline points="673.8,1366.4 732,1357.3" fill="none" stroke="#000" stroke-width="5.1"/>
<polygon points="732,1350 732,1377.3 768.4,1377.3 768.4,1364.6 757.5,1364.6 757.5,1350" fill="#fff" stroke="#000" stroke-width="4.5"/>
<polyline points="746.6,1350 746.6,1377.3" fill="none" stroke="#000" stroke-width="2" stroke-dasharray="14 7"/>
<polyline points="686.5,1484.7 950.5,1348.2" fill="none" stroke="#000" stroke-width="5.1"/>
<polyline points="695.6,1499.3 986.9,1348.2" fill="none" stroke="#000" stroke-width="3.8"/>
<polyline points="706.6,1513.8 1023.3,1348.2" fill="none" stroke="#000" stroke-width="3.8"/>
<polyline points="712,1521.1 1037.9,1348.2" fill="none" stroke="#000" stroke-width="3.8"/>
<polyline points="721.1,1532 1077.9,1342.7" fill="none" stroke="#000" stroke-width="5.1"/>
<polyline points="615.5,1555.7 1059.7,1328.2" fill="none" stroke="#000" stroke-width="2" stroke-dasharray="40 7 5 7"/>
<polyline points="686.5,1484.7 721.1,1532" fill="none" stroke="#000" stroke-width="5.1"/>
<path d="M1005.1,1390C1011.2,1387 1031.2,1377.9 1041.5,1371.8C1051.8,1365.8 1061.5,1357.9 1067,1353.6C1072.4,1349.4 1073.1,1347.6 1074.3,1346.4" fill="none" stroke="#000" stroke-width="6.4" stroke-linejoin="round"/>
<path d="M914.1,1433.7C926.2,1427.7 961.4,1409.5 986.9,1397.3C1012.4,1385.2 1050.6,1369.4 1067,1360.9C1083.4,1352.4 1082.2,1348.8 1085.2,1346.4" fill="none" stroke="#000" stroke-width="5.1" stroke-linejoin="round"/>
<polyline points="772.1,1559.3 914.1,1433.7" fill="none" stroke="#000" stroke-width="0.1"/>
<polyline points="764.8,1521.1 1005.1,1390" fill="none" stroke="#000" stroke-width="5.8"/>
<polygon points="672,1424.6 699.3,1424.6 721.1,1455.6 688.3,1482.9 721.1,1532 748.4,1521.1 772.1,1561.2 772.1,1583 695.6,1583 672,1568.4" fill="url(#h1)" stroke="#000" stroke-width="3.2" stroke-linejoin="round"/>
<path d="M672,1583C674.7,1577.5 683.2,1575.1 688.3,1575.7C693.5,1576.3 702.3,1581.8 702.9,1586.6C703.5,1591.5 697.1,1601.2 692,1604.9C686.8,1608.5 675.3,1612.1 672,1608.5C668.6,1604.9 669.2,1588.5 672,1583Z" fill="url(#h2)" stroke="#000" stroke-width="3.2" stroke-linejoin="round"/>
<polyline points="724.8,1548.4 797.6,1553.9" fill="none" stroke="#000" stroke-width="2.2"/>
<polyline points="692,1599.4 804.9,1583 914.1,1565.5 1023.3,1547.3 1150,1524" fill="none" stroke="#000" stroke-width="9.6"/>
<polyline points="824.9,1568.4 986.9,1544.1 1150,1517.5" fill="none" stroke="#000" stroke-width="4.5"/>
<polygon points="695.6,1604.9 750.2,1601.2 750.2,1648.5 695.6,1650.4" fill="url(#h2)" stroke="#000" stroke-width="3.2" stroke-linejoin="round"/>
<polygon points="841.3,1588.5 888.6,1583 888.6,1621.2 841.3,1623.1" fill="url(#h2)" stroke="#000" stroke-width="3.2" stroke-linejoin="round"/>
<polygon points="985.1,1563 1036,1555.7 1036,1597.6 985.1,1601.2" fill="url(#h2)" stroke="#000" stroke-width="3.2" stroke-linejoin="round"/>
<polygon points="1103.4,1539.3 1150,1530.2 1150,1568.4 1128.9,1575.7 1103.4,1572.1" fill="url(#h1)" stroke="#000" stroke-width="3.2" stroke-linejoin="round"/>
<polygon points="1019.7,1628.5 1034.2,1615.8 1118,1601.9 1132.5,1566.6 1150,1563 1150,1621.2 1136.2,1641.3 1030.6,1659.5" fill="url(#h3)" stroke="#000" stroke-width="3.2" stroke-linejoin="round"/>
<polygon points="935.9,1745 950.5,1736.6 1077.9,1718.4 1085.9,1728.6 1059.7,1761.4 1023.3,1783.2 950.5,1786.9" fill="url(#h3)" stroke="#000" stroke-width="3.2" stroke-linejoin="round"/>
<polygon points="1088.8,1677.7 1110.7,1663.1 1150,1699.5 1150,1735.9 1132.5,1728.6" fill="url(#h2)" stroke="#000" stroke-width="3.2" stroke-linejoin="round"/>
<polyline points="695.6,1650.4 695.6,1674 728.4,1674 728.4,1659.5 750.2,1659.5 750.2,1648.5" fill="none" stroke="#000" stroke-width="4.5"/>
<polyline points="843.1,1623.1 843.1,1641.3 863.1,1641.3 863.1,1634 888.6,1634 888.6,1621.2" fill="none" stroke="#000" stroke-width="4.5"/>
<polyline points="986.9,1601.2 986.9,1606.7 1003.3,1606.7 1003.3,1614 1036,1608.5 1036,1597.6" fill="none" stroke="#000" stroke-width="4.5"/>
<polyline points="1103.4,1572.1 1103.4,1583 1128.9,1579.4" fill="none" stroke="#000" stroke-width="4.5"/>
<polyline points="1037.9,1564.8 1103.4,1553.9" fill="none" stroke="#000" stroke-width="4.5"/>
<polyline points="1037.9,1586.6 1103.4,1575.7" fill="none" stroke="#000" stroke-width="4.5"/>
<polyline points="1059.7,1563 1059.7,1583" fill="none" stroke="#000" stroke-width="3.8"/>
<polyline points="1096.1,1557.5 1096.1,1577.5" fill="none" stroke="#000" stroke-width="3.8"/>
<polyline points="753.9,1619.4 770.3,1619.4 770.3,1677.7" fill="none" stroke="#000" stroke-width="4.5"/>
<polyline points="906.8,1593.9 906.8,1644.9" fill="none" stroke="#000" stroke-width="4.5"/>
<polyline points="906.8,1601.2 965,1590.3" fill="none" stroke="#000" stroke-width="4.5"/>
<polyline points="914.1,1619.4 968.7,1608.5" fill="none" stroke="#000" stroke-width="4.5"/>
<polyline points="965,1579.4 977.8,1577.5 977.8,1604.9" fill="none" stroke="#000" stroke-width="4.5"/>
<polyline points="965,1579.4 974.1,1634" fill="none" stroke="#000" stroke-width="4.5"/>
<path d="M823.1,1568.4C823.4,1566.6 821.8,1560.7 824.9,1557.5C827.9,1554.4 835.5,1553.8 841.3,1549.5C847,1545.3 854.3,1538.6 859.5,1532C864.6,1525.5 868.9,1515.5 872.2,1510.2C875.5,1504.9 874.6,1502.1 879.5,1500C884.3,1497.9 897.7,1497.9 901.3,1497.4" fill="none" stroke="#000" stroke-width="3.8" stroke-linejoin="round"/>
<polygon points="890.4,1498.5 901.3,1497.4 901.3,1561.2 890.4,1563" fill="url(#h4)" stroke="#000" stroke-width="3.2" stroke-linejoin="round"/>
<polyline points="875.8,1548.4 890.4,1548.4" fill="none" stroke="#000" stroke-width="4.5"/>
<polyline points="875.8,1548.4 875.8,1564.8" fill="none" stroke="#000" stroke-width="4.5"/>
<polygon points="752.1,1688.6 1023.3,1626.7 1030.6,1659.5 763,1721.4" fill="#fff" stroke="#000" stroke-width="4.5"/>
<polyline points="772.1,1725 1019.7,1670.4" fill="none" stroke="#000" stroke-width="5.1"/>
<polygon points="726.6,1785.1 939.6,1741.4 945,1790.5 735.7,1816" fill="#fff" stroke="#000" stroke-width="4.5"/>
<polyline points="753.9,1785.1 935.9,1750.5" fill="none" stroke="#000" stroke-width="3.8"/>
<polygon points="945,1701.3 974.1,1701.3 974.1,1734.1 945,1739.6" fill="#fff" stroke="#000" stroke-width="4.5"/>
<polyline points="666.5,1748.7 732,1732.3" fill="none" stroke="#000" stroke-width="5.1"/>
<polyline points="704.7,1812.4 732,1812.4" fill="none" stroke="#000" stroke-width="4.5"/>
<polyline points="704.7,1812.4 704.7,1849.9" fill="none" stroke="#000" stroke-width="4.5"/>
<polyline points="739.3,1816 739.3,1832.4 768.4,1832.4 768.4,1817.8" fill="none" stroke="#000" stroke-width="4.5"/>
<polyline points="783,1801.5 945,1792.3" fill="none" stroke="#000" stroke-width="3.8"/>
<polyline points="804.9,1561.2 861.3,1677.7 920.6,1770.5 968.7,1849.9" fill="none" stroke="#000" stroke-width="2"/>
<polyline points="826.7,1583 925,1735.9 1005.1,1849.9" fill="none" stroke="#000" stroke-width="2"/>
<circle cx="861.3" cy="1677.7" r="6.5" fill="#000"/>
<circle cx="920.6" cy="1770.5" r="6.5" fill="#000"/>
<polyline points="615.5,1553.9 670.1,1526.6" fill="none" stroke="#000" stroke-width="2"/>
<polyline points="1074.3,1455.6 1150,1455.6" fill="none" stroke="#000" stroke-width="2" stroke-dasharray="14 7"/>
<polyline points="1074.3,1499.3 1150,1495.6" fill="none" stroke="#000" stroke-width="2" stroke-dasharray="14 7"/>
<polyline points="1128.9,1371.8 1150,1377.3" fill="none" stroke="#000" stroke-width="2" stroke-dasharray="14 7"/>
<polyline points="804.9,1670.4 979.6,1641.3" fill="none" stroke="#000" stroke-width="2" stroke-dasharray="14 7"/>
<polyline points="895.9,1826.9 1012.4,1819.7" fill="none" stroke="#000" stroke-width="2" stroke-dasharray="14 7"/>
<polyline points="1105.5,1350 1105.5,1520" fill="none" stroke="#000" stroke-width="5.1"/>
<polyline points="1118.2,1350 1118.2,1517.5" fill="none" stroke="#000" stroke-width="3.8"/>
<polyline points="1134.6,1350 1134.6,1514.2" fill="none" stroke="#000" stroke-width="5.1"/>
<polyline points="1152.8,1350 1152.8,1510.6" fill="none" stroke="#000" stroke-width="3.8"/>
<polyline points="1171,1350 1171,1506.9" fill="none" stroke="#000" stroke-width="5.1"/>
<polyline points="1185.6,1350 1185.6,1504" fill="none" stroke="#000" stroke-width="3.8"/>
<polyline points="1198.3,1350 1198.3,1501.5" fill="none" stroke="#000" stroke-width="5.1"/>
<polyline points="1211,1350 1211,1502.9" fill="none" stroke="#000" stroke-width="6.4"/>
<polyline points="1223.8,1350 1223.8,1502.9" fill="none" stroke="#000" stroke-width="3.8"/>
<polyline points="1236.5,1350 1236.5,1502.9" fill="none" stroke="#000" stroke-width="5.1"/>
<path d="M1100,1371.8C1112.1,1372.8 1147.3,1375.2 1172.8,1377.3C1198.3,1379.4 1226.2,1383.7 1252.9,1384.6C1279.6,1385.5 1319.7,1383.1 1333,1382.8" fill="none" stroke="#000" stroke-width="2" stroke-linejoin="round" stroke-dasharray="14 7"/>
<path d="M1100,1455.6C1112.1,1455.9 1147.3,1457.1 1172.8,1457.4C1198.3,1457.7 1227.4,1458 1252.9,1457.4C1278.4,1456.8 1313.6,1454.4 1325.7,1453.8" fill="none" stroke="#000" stroke-width="2" stroke-linejoin="round" stroke-dasharray="14 7"/>
<path d="M1100,1499.3C1109.1,1499.3 1136.4,1499.9 1154.6,1499.3C1172.8,1498.7 1200.1,1496.2 1209.2,1495.6" fill="none" stroke="#000" stroke-width="2" stroke-linejoin="round" stroke-dasharray="14 7"/>
<polygon points="1149.9,1510.6 1209.2,1495.6 1209.2,1510.2 1149.9,1526.9" fill="#000" stroke="#000" stroke-width="2.2"/>
<polyline points="1149.9,1535.7 1205.6,1521.1" fill="none" stroke="#000" stroke-width="5.1"/>
<path d="M1221.1,1505.6C1219.3,1515.3 1214.8,1543.5 1210.2,1563.8C1205.7,1584.2 1199.9,1607.8 1193.8,1627.6C1187.8,1647.3 1180.8,1664 1173.8,1682.2C1166.8,1700.4 1155.6,1727.7 1151.9,1736.8" fill="none" stroke="#000" stroke-width="3.2" stroke-linejoin="round"/>
<path d="M1150.9,1750C1144.6,1761.4 1126.3,1796.4 1113.2,1818.3C1100.1,1840.1 1087.2,1859.7 1072.2,1881.1C1057.2,1902.5 1040.4,1924.8 1023.1,1946.6C1005.8,1968.5 986.7,1991.7 968.5,2012.2C950.3,2032.6 932,2051.3 913.8,2069.5C895.6,2087.7 877.4,2104.5 859.2,2121.4C841,2138.2 822.8,2155.1 804.6,2170.5C786.4,2186 765.9,2202.8 750,2214.2C734.1,2225.6 715.9,2234.7 709,2238.8" fill="none" stroke="#000" stroke-width="3.2" stroke-linejoin="round"/>
<path d="M1241.2,1299.9C1241.1,1309 1240.9,1337.8 1240.8,1354.5C1240.6,1371.2 1240.8,1383.3 1240.2,1400C1239.7,1416.7 1239.3,1433.4 1237.5,1454.6C1235.7,1475.9 1232.5,1506.2 1229.3,1527.4C1226.1,1548.7 1222.8,1563.8 1218.4,1582C1214,1600.3 1208.8,1618.5 1202.9,1636.7C1197,1654.9 1190.5,1673.1 1182.9,1691.3C1175.3,1709.5 1161.7,1736.8 1157.4,1745.9" fill="none" stroke="#000" stroke-width="6.4" stroke-linejoin="round"/>
<path d="M1158.2,1747.8C1152.1,1760 1134.8,1797.9 1121.4,1821C1108,1844.1 1092.7,1865.1 1077.7,1886.5C1062.7,1907.9 1048.1,1928 1031.3,1949.3C1014.4,1970.7 994.9,1994.4 976.7,2014.9C958.4,2035.4 940.2,2054 922,2072.2C903.8,2090.4 885.6,2107.3 867.4,2124.1C849.2,2141 832.4,2156.4 812.8,2173.3C793.2,2190.1 767.3,2211.5 750,2225.2C732.7,2238.8 715.9,2250.2 709,2255.2" fill="none" stroke="#000" stroke-width="6.4" stroke-linejoin="round"/>
<path d="M1249.9,1299.9C1249.8,1309 1249.6,1337.8 1249.3,1354.5C1249.1,1371.2 1249,1383.3 1248.4,1400C1247.8,1416.7 1247.2,1433.4 1245.7,1454.6C1244.2,1475.9 1242.1,1506.2 1239.3,1527.4C1236.6,1548.7 1233.6,1563.8 1229.3,1582C1225.1,1600.3 1219.8,1618.5 1213.8,1636.7C1207.9,1654.9 1201.4,1673.1 1193.8,1691.3C1186.2,1709.5 1172.6,1736.8 1168.3,1745.9" fill="none" stroke="#000" stroke-width="3.8" stroke-linejoin="round"/>
<path d="M1169.2,1747.8C1162.6,1760.5 1143.5,1799.9 1129.6,1823.7C1115.7,1847.5 1100.9,1869 1085.9,1890.6C1070.9,1912.3 1056.3,1932 1039.5,1953.4C1022.6,1974.8 1003,1998.5 984.8,2019C966.6,2039.5 948.4,2058.1 930.2,2076.3C912,2094.5 893.8,2111.4 875.6,2128.2C857.4,2145 841.9,2159.6 821,2177.4C800.1,2195.1 768.7,2220.1 750,2234.7C731.3,2249.3 715.9,2259.7 709,2264.7" fill="none" stroke="#000" stroke-width="3.8" stroke-linejoin="round"/>
<polyline points="1100.1,1819.6 1104.5,1827.8" fill="none" stroke="#000" stroke-width="3.8"/>
<polyline points="1072.8,1866.1 1077.1,1874.2" fill="none" stroke="#000" stroke-width="3.8"/>
<polyline points="1045.5,1907 1049.8,1915.2" fill="none" stroke="#000" stroke-width="3.8"/>
<polyline points="1004.5,1961.6 1008.9,1969.8" fill="none" stroke="#000" stroke-width="3.8"/>
<polyline points="971.7,1997.1 976.1,2005.3" fill="none" stroke="#000" stroke-width="3.8"/>
<polyline points="939,2039.5 943.3,2047.7" fill="none" stroke="#000" stroke-width="3.8"/>
<polyline points="899.4,2076.3 903.7,2084.5" fill="none" stroke="#000" stroke-width="3.8"/>
<polyline points="852.9,2117.3 857.3,2125.5" fill="none" stroke="#000" stroke-width="3.8"/>
<polyline points="814.7,2150.1 819.1,2158.2" fill="none" stroke="#000" stroke-width="3.8"/>
<polyline points="761.5,2193.7 765.8,2201.9" fill="none" stroke="#000" stroke-width="3.8"/>
<path d="M1180.1,1911.1C1176.7,1918.9 1168.5,1940.7 1159.6,1957.5C1150.7,1974.4 1138.7,1994.9 1126.8,2012.2C1115,2029.4 1103.6,2044 1088.6,2061.3C1073.6,2078.6 1054.5,2098.2 1036.7,2115.9C1019,2133.7 1000.8,2150.5 982.1,2167.8C963.5,2185.1 939.8,2206 924.8,2219.7C909.7,2233.4 905.7,2240.6 892,2250C878.3,2259.4 857.2,2266.8 842.8,2275.9C828.5,2285.1 817.3,2295.7 806,2304.9C794.7,2314.1 780.2,2326.6 775,2331" fill="none" stroke="#000" stroke-width="3.8" stroke-linejoin="round"/>
<polyline points="775,2331 781,2349" fill="none" stroke="#000" stroke-width="3.8"/>
<polygon points="1053.1,1763.7 1092.7,1747.3 1120,1780 1094.1,1816.9" fill="url(#h2)" stroke="#000" stroke-width="3.2" stroke-linejoin="round"/>
<polygon points="1009.4,1829.2 1039.5,1812.8 1070.9,1859.2 1043.6,1897.5" fill="url(#h3)" stroke="#000" stroke-width="3.2" stroke-linejoin="round"/>
<polygon points="942.5,1916.6 979.4,1898.8 1004,1952.1 968.5,1993" fill="url(#h2)" stroke="#000" stroke-width="3.2" stroke-linejoin="round"/>
<polygon points="871.5,1987.6 913.8,1971.2 938.4,2025.8 897.5,2066.8" fill="url(#h3)" stroke="#000" stroke-width="3.2" stroke-linejoin="round"/>
<polygon points="785.5,2064 829.2,2047.7 853.8,2107.7 810.1,2143.2" fill="url(#h2)" stroke="#000" stroke-width="3.2" stroke-linejoin="round"/>
<polygon points="807.3,1905.7 919.3,1960.3 913.8,1971.2 859.2,1990.3 812.8,1965.7" fill="url(#h1)" stroke="#000" stroke-width="3.2" stroke-linejoin="round"/>
<polyline points="1050.4,1766.4 1006.7,1829.2" fill="none" stroke="#000" stroke-width="5.1"/>
<polyline points="1023.1,1782.8 984.8,1892 942.5,1916.6" fill="none" stroke="#000" stroke-width="5.1"/>
<polyline points="1006.7,1829.2 979.4,1898.8" fill="none" stroke="#000" stroke-width="5.1"/>
<polyline points="1070.9,1859.2 1031.3,1916.6" fill="none" stroke="#000" stroke-width="5.1"/>
<polyline points="963,1791 941.2,1908.4" fill="none" stroke="#000" stroke-width="5.1"/>
<polyline points="1012.2,1788.2 987.6,1864.7" fill="none" stroke="#000" stroke-width="5.1"/>
<polyline points="919.3,1960.3 871.5,1987.6" fill="none" stroke="#000" stroke-width="5.1"/>
<polyline points="1004,1952.1 968.5,1993" fill="none" stroke="#000" stroke-width="5.1"/>
<polyline points="938.4,2025.8 897.5,2066.8" fill="none" stroke="#000" stroke-width="5.1"/>
<polyline points="881.1,1796.4 859.2,1924.8" fill="none" stroke="#000" stroke-width="5.1"/>
<polyline points="892,1801.9 886.5,1941.2" fill="none" stroke="#000" stroke-width="5.1"/>
<polyline points="831.9,1812.8 821,1913.8" fill="none" stroke="#000" stroke-width="5.1"/>
<polyline points="845.6,1987.6 829.2,2047.7" fill="none" stroke="#000" stroke-width="5.1"/>
<polyline points="878.3,2012.2 862,2102.3" fill="none" stroke="#000" stroke-width="5.1"/>
<polyline points="785.5,2064 766.4,2176" fill="none" stroke="#000" stroke-width="5.1"/>
<polyline points="785.5,1913.8 780,2159.6" fill="none" stroke="#000" stroke-width="5.1"/>
<polyline points="760.9,2105 750,2176" fill="none" stroke="#000" stroke-width="5.1"/>
<polyline points="810.1,2143.2 777.3,2176" fill="none" stroke="#000" stroke-width="5.1"/>
<polyline points="750,1892 807.3,1913.8" fill="none" stroke="#000" stroke-width="5.1"/>
<polyline points="750,1930.2 807.3,1957.5" fill="none" stroke="#000" stroke-width="5.1"/>
<polyline points="750,1993 785.5,1979.4 793.7,2044.9 771.8,2053.1" fill="none" stroke="#000" stroke-width="5.1"/>
<polyline points="750,1823.7 769.1,1821 769.1,1829.2 750,1830.6" fill="none" stroke="#000" stroke-width="5.1"/>
<polyline points="892,1829.2 1091.3,1812.8 1200,1766.4" fill="none" stroke="#000" stroke-width="2" stroke-dasharray="16 8"/>
<polyline points="892,1860.6 995.8,1842.8 1088.6,1812.8" fill="none" stroke="#000" stroke-width="2" stroke-dasharray="16 8"/>
<polyline points="913.8,1766.4 938.4,1796.4 1023.1,1927.5 1091.3,2044.9 1170.5,2165.1 1171.9,2250" fill="none" stroke="#000" stroke-width="1.5"/>
<polyline points="957.5,1829.2 1072.2,1919.3 1200,2081.8" fill="none" stroke="#000" stroke-width="1.5"/>
<polyline points="1034,2040.8 1079.1,2167.8 1079.1,2250" fill="none" stroke="#000" stroke-width="1.5"/>
<polyline points="834.7,2126.8 971.2,2250" fill="none" stroke="#000" stroke-width="1.5"/>
<circle cx="920.7" cy="1769.1" r="6.5" fill="#000"/>
<circle cx="1034" cy="2040.8" r="6.5" fill="#000"/>
<polyline points="1338.5,1350 1338.5,1459.2" fill="none" stroke="#000" stroke-width="6.4"/>
<polyline points="1360.3,1350 1360.3,1510.2" fill="none" stroke="#000" stroke-width="5.1"/>
<polyline points="1455,1350 1455,1433.7" fill="none" stroke="#000" stroke-width="3.8"/>
<polyline points="1480.5,1350 1480.5,1462.9" fill="none" stroke="#000" stroke-width="6.4"/>
<polyline points="1575.1,1350 1575.1,1397.3" fill="none" stroke="#000" stroke-width="3.8"/>
<polyline points="1600.6,1350 1600.6,1426.5" fill="none" stroke="#000" stroke-width="6.4"/>
<polygon points="1333,1453.8 1360.3,1450.1 1362.1,1510.2 1325.7,1517.5" fill="url(#h2)" stroke="#000" stroke-width="3.2" stroke-linejoin="round"/>
<polygon points="1455,1431.9 1478.6,1428.3 1480.5,1470.1 1455,1477.4" fill="url(#h2)" stroke="#000" stroke-width="3.2" stroke-linejoin="round"/>
<polygon points="1575.1,1397.3 1600.6,1393.7 1600.6,1426.5 1575.1,1433.7" fill="url(#h2)" stroke="#000" stroke-width="3.2" stroke-linejoin="round"/>
<polyline points="1323.9,1517.5 1338.5,1455.6" fill="none" stroke="#000" stroke-width="5.1"/>
<path d="M1362.1,1484.7C1373.1,1483.5 1404.6,1481.7 1427.7,1477.4C1450.7,1473.2 1476.2,1466.5 1500.5,1459.2C1524.8,1451.9 1549,1442.2 1573.3,1433.7C1597.6,1425.2 1625,1416.1 1646.1,1408.3C1667.2,1400.4 1691,1390 1700,1386.4" fill="none" stroke="#000" stroke-width="5.1" stroke-linejoin="round"/>
<polyline points="1338.5,1421 1360.3,1419.2" fill="none" stroke="#000" stroke-width="3.8"/>
<polyline points="1455,1401 1480.5,1399.1" fill="none" stroke="#000" stroke-width="3.8"/>
<polyline points="1333,1521.1 1333,1539.3" fill="none" stroke="#000" stroke-width="3.2" stroke-dasharray="10 6"/>
<polyline points="1358.5,1513.8 1358.5,1532" fill="none" stroke="#000" stroke-width="3.2" stroke-dasharray="10 6"/>
<polyline points="1455,1481.1 1455,1495.6" fill="none" stroke="#000" stroke-width="3.2" stroke-dasharray="10 6"/>
<polyline points="1478.6,1477.4 1478.6,1490.2" fill="none" stroke="#000" stroke-width="3.2" stroke-dasharray="10 6"/>
<polyline points="1575.1,1437.4 1575.1,1450.1" fill="none" stroke="#000" stroke-width="3.2" stroke-dasharray="10 6"/>
<polyline points="1598.8,1431.9 1598.8,1441" fill="none" stroke="#000" stroke-width="3.2" stroke-dasharray="10 6"/>
<polyline points="1282,1350 1252.9,1568.4 1227.4,1732.3" fill="none" stroke="#000" stroke-width="1.5"/>
<circle cx="1252.9" cy="1569.5" r="6.5" fill="#000"/>
<circle cx="1226.7" cy="1732.3" r="6.5" fill="#000"/>
<polyline points="1416.7,1364.6 1407.6,1459.2 1376.7,1849.9" fill="none" stroke="#000" stroke-width="1.5"/>
<circle cx="1407.6" cy="1460" r="6.5" fill="#000"/>
<polyline points="1432,1528.4 1467.7,1849.9" fill="none" stroke="#000" stroke-width="1.5"/>
<circle cx="1432" cy="1528.4" r="6.5" fill="#000"/>
<polyline points="1606.1,1520.4 1595.1,1849.9" fill="none" stroke="#000" stroke-width="1.5"/>
<circle cx="1606.1" cy="1520.4" r="6.5" fill="#000"/>
<circle cx="1418.6" cy="1847" r="6.5" fill="#000"/>
<path d="M1100,1623.1C1112.1,1618.8 1147.3,1606.5 1172.8,1597.6C1198.3,1588.7 1222.6,1579.2 1252.9,1569.5C1283.3,1559.8 1319.7,1550.4 1354.9,1539.3C1390,1528.2 1427.7,1516.3 1464.1,1502.9C1500.5,1489.6 1534,1476.8 1573.3,1459.2C1612.6,1441.6 1678.9,1407.6 1700,1397.3" fill="none" stroke="#000" stroke-width="2" stroke-linejoin="round" stroke-dasharray="16 8"/>
<polyline points="14.6,1850 14.6,2246.8" fill="none" stroke="#000" stroke-width="5.1"/>
<polyline points="43.7,1850 43.7,2349.9" fill="none" stroke="#000" stroke-width="5.1"/>
<polyline points="96.5,1977.4 96.5,2349.9" fill="none" stroke="#000" stroke-width="5.1"/>
<polyline points="183.9,1850 183.9,2349.9" fill="none" stroke="#000" stroke-width="5.8"/>
<polyline points="236.6,1897.3 236.6,2349.9" fill="none" stroke="#000" stroke-width="5.1"/>
<polyline points="276.7,1850 276.7,2349.9" fill="none" stroke="#000" stroke-width="5.1"/>
<polyline points="329.5,1915.5 329.5,2349.9" fill="none" stroke="#000" stroke-width="5.8"/>
<polyline points="473.3,1904.6 473.3,2349.9" fill="none" stroke="#000" stroke-width="5.1"/>
<polyline points="517,1850 517,2119.4" fill="none" stroke="#000" stroke-width="5.1"/>
<polyline points="555.2,1850 555.2,2115.8" fill="none" stroke="#000" stroke-width="5.1"/>
<polyline points="578.9,1850 578.9,2119.4" fill="none" stroke="#000" stroke-width="5.1"/>
<polyline points="597.1,1850 597.1,2130.3" fill="none" stroke="#000" stroke-width="5.1"/>
<polyline points="132.9,1850 142,2235.9" fill="none" stroke="#000" stroke-width="5.1"/>
<polyline points="158.4,1850 158.4,2349.9" fill="none" stroke="#000" stroke-width="2" stroke-dasharray="40 7 5 7"/>
<polyline points="415,1850 407.8,2349.9" fill="none" stroke="#000" stroke-width="1.5"/>
<polyline points="273.1,1850 233,2349.9" fill="none" stroke="#000" stroke-width="1.5"/>
<polygon points="77.5,1842.7 118.3,1842.7 118.3,1977.4 77.5,1977.4" fill="#fff" stroke="#000" stroke-width="0.1"/>
<polyline points="77.5,1842.7 77.5,1977.4 118.3,1977.4 118.3,1842.7" fill="none" stroke="#000" stroke-width="5.1"/>
<polyline points="97.9,1850 97.9,1973.8" fill="none" stroke="#000" stroke-width="2" stroke-dasharray="14 7"/>
<polygon points="218.4,1842.7 251.9,1842.7 251.9,1899.1 218.4,1899.1" fill="#fff" stroke="#000" stroke-width="0.1"/>
<polyline points="218.4,1842.7 218.4,1899.1 251.9,1899.1 251.9,1842.7" fill="none" stroke="#000" stroke-width="5.1"/>
<polyline points="235.2,1850 235.2,1895.5" fill="none" stroke="#000" stroke-width="2" stroke-dasharray="14 7"/>
<polygon points="305.8,1842.7 349.5,1842.7 349.5,1917.4 305.8,1917.4" fill="#fff" stroke="#000" stroke-width="0.1"/>
<polyline points="305.8,1842.7 305.8,1917.4 349.5,1917.4 349.5,1842.7" fill="none" stroke="#000" stroke-width="5.1"/>
<polyline points="327.7,1850 327.7,1913.7" fill="none" stroke="#000" stroke-width="2" stroke-dasharray="14 7"/>
<polygon points="449.6,1842.7 490.4,1842.7 490.4,1904.6 449.6,1904.6" fill="#fff" stroke="#000" stroke-width="0.1"/>
<polyline points="449.6,1842.7 449.6,1904.6 490.4,1904.6 490.4,1842.7" fill="none" stroke="#000" stroke-width="5.1"/>
<polyline points="470,1850 470,1901" fill="none" stroke="#000" stroke-width="2" stroke-dasharray="14 7"/>
<polyline points="43.7,2060.4 96.5,2060.4" fill="none" stroke="#000" stroke-width="5.1"/>
<polyline points="189.3,2152.2 189.3,2099.4 233,2099.4 233,2144.9" fill="none" stroke="#000" stroke-width="5.1"/>
<polyline points="278.5,1850 278.5,2016.4 327.7,2016.4" fill="none" stroke="#000" stroke-width="3.8"/>
<polyline points="287.6,1850 287.6,2016.4" fill="none" stroke="#000" stroke-width="3.8"/>
<polyline points="473.3,2019.3 515.2,2019.3 515.2,2115.8" fill="none" stroke="#000" stroke-width="5.1"/>
<polygon points="183.9,2154 327.7,2130.3 498.8,2092.1 509.7,2121.2 469.7,2170.4 327.7,2201.3 183.9,2223.2" fill="#fff" stroke="#000" stroke-width="4.5"/>
<path d="M183.9,2223.2C207.8,2219.5 280,2209.8 327.7,2201.3C375.3,2192.8 446,2177.1 469.7,2172.2" fill="none" stroke="#000" stroke-width="7" stroke-linejoin="round"/>
<polyline points="489.7,2097.6 500.6,2123.1" fill="none" stroke="#000" stroke-width="4.5"/>
<polygon points="0,2177.7 140.2,2163.1 140.2,2228.6 0,2245" fill="#fff" stroke="#000" stroke-width="4.5"/>
<polyline points="0,2245 140.2,2228.6" fill="none" stroke="#000" stroke-width="7"/>
<polyline points="14.6,2245 14.6,2255.9 40,2255.9" fill="none" stroke="#000" stroke-width="4.5"/>
<polyline points="100.1,2243.2 136.5,2245 136.5,2228.6" fill="none" stroke="#000" stroke-width="4.5"/>
<polyline points="145.6,2186.8 178.4,2186.8" fill="none" stroke="#000" stroke-width="4.5"/>
<polyline points="145.6,2186.8 145.6,2305.1" fill="none" stroke="#000" stroke-width="3.8"/>
<polyline points="178.4,2186.8 178.4,2301.5" fill="none" stroke="#000" stroke-width="3.8"/>
<polyline points="14.6,2181.3 14.6,2235.9" fill="none" stroke="#000" stroke-width="2" stroke-dasharray="14 7"/>
<polyline points="43.7,2181.3 43.7,2235.9" fill="none" stroke="#000" stroke-width="2" stroke-dasharray="14 7"/>
<polyline points="96.5,2181.3 96.5,2235.9" fill="none" stroke="#000" stroke-width="2" stroke-dasharray="14 7"/>
<polyline points="138.3,2181.3 138.3,2235.9" fill="none" stroke="#000" stroke-width="2" stroke-dasharray="14 7"/>
<polyline points="189.3,2170.4 189.3,2221.4" fill="none" stroke="#000" stroke-width="2" stroke-dasharray="14 7"/>
<polyline points="236.6,2170.4 236.6,2221.4" fill="none" stroke="#000" stroke-width="2" stroke-dasharray="14 7"/>
<polyline points="276.7,2170.4 276.7,2221.4" fill="none" stroke="#000" stroke-width="2" stroke-dasharray="14 7"/>
<polyline points="329.5,2170.4 329.5,2221.4" fill="none" stroke="#000" stroke-width="2" stroke-dasharray="14 7"/>
<polyline points="427.8,2170.4 427.8,2221.4" fill="none" stroke="#000" stroke-width="2" stroke-dasharray="14 7"/>
<polyline points="473.3,2170.4 473.3,2221.4" fill="none" stroke="#000" stroke-width="2" stroke-dasharray="14 7"/>
<polyline points="427.8,2179.5 427.8,2208.6 442.3,2208.6" fill="none" stroke="#000" stroke-width="4.5"/>
<polygon points="433.2,2214.1 509.7,2127.4 535.2,2117.6 568,2114 600,2126.7 600,2208.6 455.1,2247.6" fill="url(#h3)" stroke="#000" stroke-width="3.2" stroke-linejoin="round"/>
<polygon points="-7.3,2323.7 0,2323.3 109.2,2314.2 218.4,2298.5 327.7,2277.8 436.9,2251.2 600,2205 620,2195.9 620,2221.4 600,2229.4 436.9,2276.7 327.7,2303.3 218.4,2324 109.2,2339.7 0,2349.9 -7.3,2350.2" fill="#fff" stroke="#000" stroke-width="0.1"/>
<path d="M-7.3,2323.7C-6.1,2323.6 -19.4,2324.9 0,2323.3C19.4,2321.7 72.8,2318.3 109.2,2314.2C145.6,2310.1 182,2304.6 218.4,2298.5C254.9,2292.5 291.3,2285.7 327.7,2277.8C364.1,2269.9 391.5,2263.3 436.9,2251.2C482.3,2239.1 569.5,2214.2 600,2205C630.5,2195.7 616.7,2197.4 620,2195.9" fill="none" stroke="#000" stroke-width="5.1" stroke-linejoin="round"/>
<path d="M-7.3,2350.2C-6.1,2350.2 -19.4,2351.6 0,2349.9C19.4,2348.1 72.8,2344 109.2,2339.7C145.6,2335.4 182,2330.1 218.4,2324C254.9,2318 291.3,2311.2 327.7,2303.3C364.1,2295.4 391.5,2289 436.9,2276.7C482.3,2264.4 569.5,2238.6 600,2229.4C630.5,2220.1 616.7,2222.7 620,2221.4" fill="none" stroke="#000" stroke-width="5.1" stroke-linejoin="round"/>
<path d="M-7.3,2327.6C-6.1,2327.6 -19.4,2328.9 0,2327.3C19.4,2325.7 72.8,2322.2 109.2,2318C145.6,2313.9 182,2308.4 218.4,2302.4C254.9,2296.3 291.3,2289.5 327.7,2281.6C364.1,2273.7 391.5,2267.2 436.9,2255C482.3,2242.9 569.5,2217.9 600,2208.6C630.5,2199.4 616.7,2201.2 620,2199.7" fill="none" stroke="#000" stroke-width="2.5" stroke-linejoin="round"/>
<path d="M-7.3,2331.6C-6.1,2331.6 -19.4,2332.9 0,2331.3C19.4,2329.6 72.8,2326 109.2,2321.8C145.6,2317.7 182,2312.3 218.4,2306.2C254.9,2300.1 291.3,2293.3 327.7,2285.4C364.1,2277.5 391.5,2271 436.9,2258.9C482.3,2246.7 569.5,2221.5 600,2212.3C630.5,2203.1 616.7,2205 620,2203.5" fill="none" stroke="#000" stroke-width="3.8" stroke-linejoin="round"/>
<path d="M-7.3,2335.6C-6.1,2335.6 -19.4,2336.9 0,2335.3C19.4,2333.6 72.8,2329.9 109.2,2325.7C145.6,2321.5 182,2316.1 218.4,2310C254.9,2303.9 291.3,2297.1 327.7,2289.3C364.1,2281.4 391.5,2274.9 436.9,2262.7C482.3,2250.5 569.5,2225.2 600,2215.9C630.5,2206.7 616.7,2208.8 620,2207.3" fill="none" stroke="#000" stroke-width="2.5" stroke-linejoin="round"/>
<path d="M-7.3,2339.1C-6.1,2339 -19.4,2340.4 0,2338.7C19.4,2337 72.8,2333.2 109.2,2329C145.6,2324.7 182,2319.4 218.4,2313.3C254.9,2307.3 291.3,2300.5 327.7,2292.6C364.1,2284.7 391.5,2278.2 436.9,2266C482.3,2253.7 569.5,2228.3 600,2219.1C630.5,2209.9 616.7,2212.1 620,2210.7" fill="none" stroke="#000" stroke-width="3.8" stroke-linejoin="round"/>
<path d="M-7.3,2342.8C-6.1,2342.7 -19.4,2344.1 0,2342.4C19.4,2340.7 72.8,2336.8 109.2,2332.5C145.6,2328.3 182,2323 218.4,2316.9C254.9,2310.8 291.3,2304 327.7,2296.1C364.1,2288.2 391.5,2281.8 436.9,2269.6C482.3,2257.3 569.5,2231.8 600,2222.5C630.5,2213.3 616.7,2215.6 620,2214.2" fill="none" stroke="#000" stroke-width="2.5" stroke-linejoin="round"/>
<path d="M-7.3,2346.5C-6.1,2346.5 -19.4,2347.9 0,2346.2C19.4,2344.4 72.8,2340.4 109.2,2336.1C145.6,2331.8 182,2326.5 218.4,2320.5C254.9,2314.4 291.3,2307.6 327.7,2299.7C364.1,2291.8 391.5,2285.4 436.9,2273.1C482.3,2260.8 569.5,2235.2 600,2225.9C630.5,2216.7 616.7,2219.1 620,2217.8" fill="none" stroke="#000" stroke-width="3.3" stroke-linejoin="round"/>
<circle cx="169.3" cy="2114" r="6.5" fill="#000"/>
<polyline points="169.3,2114 145.6,2349.9" fill="none" stroke="#000" stroke-width="1.5"/>
<polyline points="516.4,1800 516.4,2116.7" fill="none" stroke="#000" stroke-width="3.8"/>
<polyline points="554.6,1800 554.6,2114.9" fill="none" stroke="#000" stroke-width="5.8"/>
<polyline points="660.2,1800 660.2,2105.8" fill="none" stroke="#000" stroke-width="5.8"/>
<polyline points="703.9,1810.9 703.9,2098.5" fill="none" stroke="#000" stroke-width="3.8"/>
<polyline points="747.6,1821.8 747.6,2102.2" fill="none" stroke="#000" stroke-width="3.8"/>
<polyline points="787.6,1800 787.6,1952.9" fill="none" stroke="#000" stroke-width="4.5"/>
<polyline points="703.9,1810.9 733,1810.9" fill="none" stroke="#000" stroke-width="3.8"/>
<polyline points="500,2018.4 516.4,2018.4" fill="none" stroke="#000" stroke-width="4.5"/>
<polyline points="616.5,1800 616.5,2131.3" fill="none" stroke="#000" stroke-width="2" stroke-dasharray="60 8 6 8"/>
<polyline points="703.9,2098.5 698.4,2127.7" fill="none" stroke="#000" stroke-width="4.5"/>
<polyline points="736.6,2113.1 769.4,2178.6" fill="none" stroke="#000" stroke-width="4.5"/>
<polyline points="780.3,2054.9 767.6,2178.6" fill="none" stroke="#000" stroke-width="4.5"/>
<polyline points="740.3,1952.9 736.6,2113.1" fill="none" stroke="#000" stroke-width="4.5"/>
<polygon points="674.8,1856.4 791.3,1905.6 787.6,1949.3 662,1891" fill="#fff" stroke="#000" stroke-width="4.5"/>
<polyline points="698.4,1869.2 787.6,1909.2" fill="none" stroke="#000" stroke-width="3.8"/>
<polyline points="691.1,1894.7 784,1938.3" fill="none" stroke="#000" stroke-width="5.8"/>
<polygon points="751.2,1989.3 780.3,1978.4 798.5,2051.2 771.2,2056.7" fill="#fff" stroke="#000" stroke-width="4.5"/>
<polygon points="729.4,1800 736.6,1818.2 769.4,1818.2 771.2,1825.5 740.3,1827.3 736.6,1818.2" fill="#fff" stroke="#000" stroke-width="3.8"/>
<polygon points="500,2127.7 521.8,2116.7 578.3,2113.1 578.3,2131.3 643.8,2131.3 652.9,2105.8 718.4,2098.5 736.6,2113.1 736.6,2138.6 689.3,2155 645.6,2167.7 620.1,2193.2 521.8,2218.7 500,2222.3" fill="url(#h3)" stroke="#000" stroke-width="3.2" stroke-linejoin="round"/>
<polygon points="569.2,2240.5 620.1,2218.7 645.6,2269.7 591,2287.9" fill="url(#h2)" stroke="#000" stroke-width="3.2" stroke-linejoin="round"/>
<polygon points="691.1,2155 736.6,2138.6 762.1,2193.2 714.8,2215" fill="url(#h2)" stroke="#000" stroke-width="3.2" stroke-linejoin="round"/>
<polygon points="500,2247.8 518.2,2242.3 521.8,2299.9 500,2299.9" fill="url(#h2)" stroke="#000" stroke-width="3.2" stroke-linejoin="round"/>
<polyline points="620.1,2193.2 645.6,2258.7" fill="none" stroke="#000" stroke-width="5.1"/>
<polyline points="645.6,2167.7 645.6,2258.7" fill="none" stroke="#000" stroke-width="5.1"/>
<polyline points="500,2224.1 620.1,2195" fill="none" stroke="#000" stroke-width="5.1"/>
<polyline points="500,2247.8 609.2,2215" fill="none" stroke="#000" stroke-width="5.1"/>
<polyline points="500,2229.6 612.9,2198.7" fill="none" stroke="#000" stroke-width="2.5"/>
<polyline points="500,2235.1 612.9,2204.1" fill="none" stroke="#000" stroke-width="2.5"/>
<polyline points="500,2241.3 612.9,2210.3" fill="none" stroke="#000" stroke-width="2.5"/>
<polyline points="972.9,1993.3 977.3,2003.5" fill="none" stroke="#000" stroke-width="3.8"/>
<polyline points="938.3,2035.2 942.7,2045.4" fill="none" stroke="#000" stroke-width="3.8"/>
<polyline points="900.1,2075.2 904.5,2085.4" fill="none" stroke="#000" stroke-width="3.8"/>
<polyline points="852.8,2117.1 857.2,2127.3" fill="none" stroke="#000" stroke-width="3.8"/>
<polyline points="814.6,2146.2 818.9,2156.4" fill="none" stroke="#000" stroke-width="3.8"/>
<polyline points="763.6,2189.9 768,2200.1" fill="none" stroke="#000" stroke-width="3.8"/>
<polyline points="716.3,2219 720.6,2229.2" fill="none" stroke="#000" stroke-width="3.8"/>
<polyline points="643.4,2266.4 647.8,2276.6" fill="none" stroke="#000" stroke-width="3.8"/>
<polyline points="592.5,2290 596.8,2300.2" fill="none" stroke="#000" stroke-width="3.8"/>
<polygon points="43.7,2348.4 98.3,2344.8 98.3,2421.2 43.7,2423.1" fill="url(#h2)" stroke="#000" stroke-width="3.2" stroke-linejoin="round"/>
<polygon points="189.3,2333.9 233,2328.4 233,2404.9 189.3,2409.2" fill="url(#h3)" stroke="#000" stroke-width="3.2" stroke-linejoin="round"/>
<polygon points="278.5,2319.3 329.5,2310.2 329.5,2386.6 278.5,2394.7" fill="url(#h2)" stroke="#000" stroke-width="3.2" stroke-linejoin="round"/>
<polygon points="473.3,2270.1 520.6,2255.6 520.6,2321.1 473.3,2339.3" fill="url(#h3)" stroke="#000" stroke-width="3.2" stroke-linejoin="round"/>
<polygon points="571.6,2233.7 600,2222.8 600,2288.3 589.8,2284.7" fill="url(#h2)" stroke="#000" stroke-width="3.2" stroke-linejoin="round"/>
<polyline points="238.5,2324.8 238.5,2404.9" fill="none" stroke="#000" stroke-width="5.1"/>
<polyline points="238.5,2364.8 273.1,2364.8" fill="none" stroke="#000" stroke-width="5.1"/>
<polyline points="43.7,2423.1 43.7,2441.3" fill="none" stroke="#000" stroke-width="3.2" stroke-dasharray="12 7"/>
<polyline points="98.3,2421.2 98.3,2437.6" fill="none" stroke="#000" stroke-width="3.2" stroke-dasharray="12 7"/>
<polyline points="189.3,2409.2 189.3,2426.7" fill="none" stroke="#000" stroke-width="3.2" stroke-dasharray="12 7"/>
<polyline points="236.6,2404.9 236.6,2423.1" fill="none" stroke="#000" stroke-width="3.2" stroke-dasharray="12 7"/>
<polyline points="278.5,2394.7 278.5,2415.8" fill="none" stroke="#000" stroke-width="3.2" stroke-dasharray="12 7"/>
<polyline points="329.5,2386.6 329.5,2404.9" fill="none" stroke="#000" stroke-width="3.2" stroke-dasharray="12 7"/>
<polyline points="473.3,2339.3 473.3,2361.2" fill="none" stroke="#000" stroke-width="3.2" stroke-dasharray="12 7"/>
<polyline points="517,2324.8 517,2346.6" fill="none" stroke="#000" stroke-width="3.2" stroke-dasharray="12 7"/>
<polyline points="100.1,2421.2 100.1,2437.6" fill="none" stroke="#000" stroke-width="3.8"/>
<polyline points="123.8,2419.4 123.8,2437.6" fill="none" stroke="#000" stroke-width="3.8"/>
<path d="M0,2426.7C18.2,2425.5 70.4,2423.1 109.2,2419.4C148.1,2415.8 196.3,2410.3 233,2404.9C269.7,2399.4 289.4,2397.6 329.5,2386.6C369.5,2375.7 428.2,2355.1 473.3,2339.3C518.4,2323.5 560.7,2308.7 600,2292C639.3,2275.3 690.7,2248 708.9,2239.2" fill="none" stroke="#000" stroke-width="3.2" stroke-linejoin="round"/>
<path d="M0,2443.1C24.3,2442.2 97.1,2442.5 145.6,2437.6C194.2,2432.8 242.7,2424.9 291.3,2414C339.8,2403 385.4,2389.4 436.9,2372.1C488.3,2354.8 554.7,2329.6 600,2310.2C645.3,2290.8 690.7,2264.7 708.9,2255.6" fill="none" stroke="#000" stroke-width="6.4" stroke-linejoin="round"/>
<path d="M0,2463.1C24.3,2461.3 97.1,2457.6 145.6,2452.2C194.2,2446.7 242.7,2441 291.3,2430.3C339.8,2419.7 385.4,2406.1 436.9,2388.5C488.3,2370.9 554.7,2345.2 600,2324.8C645.3,2304.3 690.7,2275.6 708.9,2265.8" fill="none" stroke="#000" stroke-width="3.8" stroke-linejoin="round"/>
<polyline points="120.1,2438.7 456.9,2484.9 459.5,2512.3" fill="none" stroke="#000" stroke-width="3.8"/>
<polyline points="588.8,690 576.3,1668" fill="none" stroke="#000" stroke-width="3.2"/>
<polyline points="684,690 671.7,1668" fill="none" stroke="#000" stroke-width="6.4"/>
<polyline points="637.4,640 633,982 628,1668" fill="none" stroke="#000" stroke-width="2" stroke-dasharray="60 8 6 8"/>
<polygon points="588.7,698.3 591,696.5 598.3,716.5 614.7,671.9 625.6,698.3 631.1,685.6 638.4,701.9 654.7,667.4 663.8,694.7 669.3,679.2 676.6,691 682,686.5 686.6,694.7 680.2,709.2 674.8,727.4 667.5,723.8 658.4,762 654.7,738.4 645.6,783.9 631.1,734.7 617.4,769.3 609.2,727.4 598.3,760.2 591,712.9" fill="#111" stroke="#000" stroke-width="5.1"/>
<polyline points="601.9,701.9 603.4,738.4" fill="none" stroke="#fff" stroke-width="1.2"/>
<polyline points="607,701.9 608.5,738.4" fill="none" stroke="#fff" stroke-width="1.2"/>
<polyline points="612.1,701.9 613.6,738.4" fill="none" stroke="#fff" stroke-width="1.2"/>
<polyline points="617.2,701.9 618.7,738.4" fill="none" stroke="#fff" stroke-width="1.2"/>
<polyline points="622.3,701.9 623.8,738.4" fill="none" stroke="#fff" stroke-width="1.2"/>
<polyline points="627.4,701.9 628.9,738.4" fill="none" stroke="#fff" stroke-width="1.2"/>
<polyline points="632.5,701.9 634,738.4" fill="none" stroke="#fff" stroke-width="1.2"/>
<polyline points="637.6,701.9 639.1,738.4" fill="none" stroke="#fff" stroke-width="1.2"/>
<polyline points="642.7,701.9 644.2,738.4" fill="none" stroke="#fff" stroke-width="1.2"/>
<polyline points="647.8,701.9 649.3,738.4" fill="none" stroke="#fff" stroke-width="1.2"/>
<polyline points="652.9,701.9 654.4,738.4" fill="none" stroke="#fff" stroke-width="1.2"/>
<polyline points="658,701.9 659.5,738.4" fill="none" stroke="#fff" stroke-width="1.2"/>
<polyline points="663.1,701.9 664.6,738.4" fill="none" stroke="#fff" stroke-width="1.2"/>
<polyline points="668.2,701.9 669.7,738.4" fill="none" stroke="#fff" stroke-width="1.2"/>
<polyline points="673.3,701.9 674.8,738.4" fill="none" stroke="#fff" stroke-width="1.2"/>
<path d="M580.2,2131.8 L572.5,1696 Q583.8,1649.6 595.2,1696 L597.2,2131.8" fill="#fff" stroke="#000" stroke-width="3.5"/>
<path d="M597.2,2131.8 L595.2,1696 Q606.5,1649.6 617.8,1696 L614.2,2131.8" fill="#fff" stroke="#000" stroke-width="3.5"/>
<path d="M614.2,2131.8 L617.8,1696 Q629.2,1649.6 640.5,1696 L631.3,2131.8" fill="#fff" stroke="#000" stroke-width="3.5"/>
<path d="M631.3,2131.8 L640.5,1696 Q651.9,1649.6 663.2,1696 L648.3,2131.8" fill="#fff" stroke="#000" stroke-width="3.5"/>
<polyline points="580.2,2131.8 648.3,2131.8" fill="none" stroke="#000" stroke-width="4.5"/>
<polyline points="622.5,1510.3 618.9,2199.8" fill="none" stroke="#000" stroke-width="2" stroke-dasharray="60 8 6 8"/>
<path d="M0,2880C51.5,2887.5 223,2911.7 309,2925C395,2938.3 425.8,2941.2 516,2960C606.2,2978.8 780.7,3020.8 850,3038C919.3,3055.2 908.8,3054.2 932,3063C955.2,3071.8 979.5,3086.3 989,3091" fill="none" stroke="#000" stroke-width="3.8" stroke-linejoin="round"/>
<polyline points="0,3075.3 339.8,3088 700,3106.3 892,3117.8" fill="none" stroke="#000" stroke-width="3.2"/>
<polyline points="0,3085.9 339.8,3099.5 700,3115.7 892,3125" fill="none" stroke="#000" stroke-width="6.4"/>
<polyline points="0,3107.2 339.8,3119.1 700,3131.8 870.7,3139" fill="none" stroke="#000" stroke-width="3.2"/>
<polygon points="2.5,3086.5 22.9,3086.5 22.9,3097.5 2.5,3097.5" fill="#fff" stroke="#000" stroke-width="5.1"/>
<polygon points="45,3088.3 65.4,3088.3 65.4,3099.3 45,3099.3" fill="#fff" stroke="#000" stroke-width="5.1"/>
<polygon points="89.6,3090.2 110,3090.2 110,3101.2 89.6,3101.2" fill="#fff" stroke="#000" stroke-width="5.1"/>
<polygon points="136.3,3092.1 156.7,3092.1 156.7,3103.2 136.3,3103.2" fill="#fff" stroke="#000" stroke-width="5.1"/>
<polygon points="193.7,3094.6 214.1,3094.6 214.1,3105.6 193.7,3105.6" fill="#fff" stroke="#000" stroke-width="5.1"/>
<polygon points="242.5,3096.7 262.9,3096.7 262.9,3107.7 242.5,3107.7" fill="#fff" stroke="#000" stroke-width="5.1"/>
<polygon points="312.6,3099.6 333,3099.6 333,3110.7 312.6,3110.7" fill="#fff" stroke="#000" stroke-width="5.1"/>
<polygon points="365.7,3101.9 386.1,3101.9 386.1,3112.9 365.7,3112.9" fill="#fff" stroke="#000" stroke-width="5.1"/>
<polygon points="429.4,3104.6 449.8,3104.6 449.8,3115.6 429.4,3115.6" fill="#fff" stroke="#000" stroke-width="5.1"/>
<polygon points="501.6,3107.7 522,3107.7 522,3118.7 501.6,3118.7" fill="#fff" stroke="#000" stroke-width="5.1"/>
<polygon points="561.1,3110.2 581.5,3110.2 581.5,3121.2 561.1,3121.2" fill="#fff" stroke="#000" stroke-width="5.1"/>
<polygon points="624.8,3112.9 645.2,3112.9 645.2,3123.9 624.8,3123.9" fill="#fff" stroke="#000" stroke-width="5.1"/>
<polygon points="686.4,3115.5 706.8,3115.5 706.8,3126.6 686.4,3126.6" fill="#fff" stroke="#000" stroke-width="5.1"/>
<polygon points="754.4,3118.4 774.8,3118.4 774.8,3129.4 754.4,3129.4" fill="#fff" stroke="#000" stroke-width="5.1"/>
<polygon points="818.1,3121.1 838.5,3121.1 838.5,3132.1 818.1,3132.1" fill="#fff" stroke="#000" stroke-width="5.1"/>
<polyline points="0,3130.5 700,3144.5 896.2,3148" fill="none" stroke="#000" stroke-width="3.2"/>
<polyline points="0,3156 700,3166.6 896.2,3169.3" fill="none" stroke="#000" stroke-width="3.2"/>
<polyline points="0,3179.4 700,3187.9 896.2,3190" fill="none" stroke="#000" stroke-width="3.2"/>
<polyline points="0,3204.9 700,3209.9 896.2,3211.2" fill="none" stroke="#000" stroke-width="3.2"/>
<polyline points="0,3230.3 700,3232 896.2,3232.5" fill="none" stroke="#000" stroke-width="3.2"/>
<polyline points="0,3253.7 700,3255 896.2,3255.3" fill="none" stroke="#000" stroke-width="3.2"/>
<polyline points="0,3279.2 700,3279.2 896.2,3279.2" fill="none" stroke="#000" stroke-width="3.2"/>
<polyline points="0,3302.5 700,3302.5 896.2,3302.5" fill="none" stroke="#000" stroke-width="3.2"/>
<polyline points="0,3325.9 700,3325.9 896.2,3325.9" fill="none" stroke="#000" stroke-width="3.2"/>
<polyline points="0,3349.3 700,3349.3 896.2,3349.3" fill="none" stroke="#000" stroke-width="3.2"/>
<polyline points="0,3372.6 700,3372.6 896.2,3372.6" fill="none" stroke="#000" stroke-width="3.2"/>
<polyline points="0,3396 700,3396 896.2,3396" fill="none" stroke="#000" stroke-width="3.2"/>
<polyline points="0,3421.5 547.9,3421.5 547.9,3502.2" fill="none" stroke="#000" stroke-width="5.1"/>
<polyline points="0,3436.3 533.1,3436.3 533.1,3502.2" fill="none" stroke="#000" stroke-width="4.5"/>
<polyline points="0,3450.4 520.3,3450.4 520.3,3502.2" fill="none" stroke="#000" stroke-width="7.7"/>
<polygon points="0,3470.3 17.8,3470.3 17.8,3486 0,3486" fill="#fff" stroke="#000" stroke-width="6.4"/>
<polygon points="34,3470.3 51.8,3470.3 51.8,3486 34,3486" fill="#fff" stroke="#000" stroke-width="6.4"/>
<polygon points="68,3470.3 85.8,3470.3 85.8,3486 68,3486" fill="#fff" stroke="#000" stroke-width="6.4"/>
<polygon points="99.8,3470.3 117.7,3470.3 117.7,3486 99.8,3486" fill="#fff" stroke="#000" stroke-width="6.4"/>
<polygon points="133.8,3470.3 151.6,3470.3 151.6,3486 133.8,3486" fill="#fff" stroke="#000" stroke-width="6.4"/>
<polygon points="167.8,3470.3 185.6,3470.3 185.6,3486 167.8,3486" fill="#fff" stroke="#000" stroke-width="6.4"/>
<polygon points="201.8,3470.3 219.6,3470.3 219.6,3486 201.8,3486" fill="#fff" stroke="#000" stroke-width="6.4"/>
<polygon points="344.1,3470.3 361.9,3470.3 361.9,3486 344.1,3486" fill="#fff" stroke="#000" stroke-width="6.4"/>
<polygon points="375.9,3470.3 393.7,3470.3 393.7,3486 375.9,3486" fill="#fff" stroke="#000" stroke-width="6.4"/>
<polygon points="412,3470.3 429.9,3470.3 429.9,3486 412,3486" fill="#fff" stroke="#000" stroke-width="6.4"/>
<polygon points="448.1,3470.3 466,3470.3 466,3486 448.1,3486" fill="#fff" stroke="#000" stroke-width="6.4"/>
<polygon points="482.1,3470.3 499.9,3470.3 499.9,3486 482.1,3486" fill="#fff" stroke="#000" stroke-width="6.4"/>
<polyline points="257,3450.4 257,3502.2" fill="none" stroke="#000" stroke-width="6.4"/>
<polyline points="312.2,3450.4 312.2,3502.2" fill="none" stroke="#000" stroke-width="6.4"/>
<polygon points="265.5,3478.8 302.4,3478.8 302.4,3502.2 265.5,3502.2" fill="#fff" stroke="#000" stroke-width="4.5"/>
<path d="M269.7,3502.2C270.8,3499.5 273.6,3489.4 276.1,3486C278.6,3482.6 281.8,3481.8 284.6,3481.8C287.4,3481.8 290.6,3482.6 293.1,3486C295.6,3489.4 298.4,3499.5 299.5,3502.2" fill="none" stroke="#000" stroke-width="3.8" stroke-linejoin="round"/>
<polyline points="284.6,3472.4 284.6,3502.2" fill="none" stroke="#000" stroke-width="3.2"/>
<polyline points="552.2,3444.8 853.8,3444.8" fill="none" stroke="#000" stroke-width="3.2"/>
<polyline points="552.2,3466.1 853.8,3466.1" fill="none" stroke="#000" stroke-width="3.2"/>
<polyline points="552.2,3487.3 853.8,3487.3" fill="none" stroke="#000" stroke-width="3.2"/>
<polyline points="547.9,3421.5 853.8,3421.5" fill="none" stroke="#000" stroke-width="3.2"/>
<circle cx="291" cy="3467.4" r="6.5" fill="#000"/>
<circle cx="550.1" cy="3266.4" r="6.5" fill="#000"/>
<polyline points="850,3119.4 1035.7,3132.3" fill="none" stroke="#000" stroke-width="6.4"/>
<polyline points="850,3111.7 1035.7,3125.6" fill="none" stroke="#000" stroke-width="3.2"/>
<polygon points="850,3128.7 859.3,3128.7 859.3,3138 850,3138" fill="#fff" stroke="#000" stroke-width="3.8"/>
<polygon points="893.8,3128.7 903.1,3128.7 903.1,3138 893.8,3138" fill="#fff" stroke="#000" stroke-width="3.8"/>
<polyline points="899,3119.4 899,3509.8" fill="none" stroke="#000" stroke-width="3.2"/>
<polyline points="905.7,3140.1 905.7,3509.8" fill="none" stroke="#000" stroke-width="2" stroke-dasharray="30 6 5 6"/>
<polyline points="914.5,3119.4 914.5,3509.8" fill="none" stroke="#000" stroke-width="3.2"/>
<polyline points="927.4,3132.3 927.4,3509.8" fill="none" stroke="#000" stroke-width="7.7"/>
<polyline points="927.4,3140.1 1020.2,3140.1" fill="none" stroke="#000" stroke-width="3.8"/>
<polyline points="935.1,3144.2 935.1,3372.1" fill="none" stroke="#000" stroke-width="2.5"/>
<polyline points="942.3,3144.2 942.3,3372.1" fill="none" stroke="#000" stroke-width="2.5"/>
<polyline points="949.5,3144.2 949.5,3372.1" fill="none" stroke="#000" stroke-width="2.5"/>
<polyline points="956.8,3144.2 956.8,3372.1" fill="none" stroke="#000" stroke-width="2.5"/>
<polyline points="964,3144.2 964,3372.1" fill="none" stroke="#000" stroke-width="2.5"/>
<polyline points="971.2,3144.2 971.2,3372.1" fill="none" stroke="#000" stroke-width="2.5"/>
<polyline points="978.4,3144.2 978.4,3372.1" fill="none" stroke="#000" stroke-width="2.5"/>
<polyline points="985.6,3144.2 985.6,3372.1" fill="none" stroke="#000" stroke-width="2.5"/>
<polyline points="992.9,3144.2 992.9,3372.1" fill="none" stroke="#000" stroke-width="2.5"/>
<polyline points="1000.1,3144.2 1000.1,3372.1" fill="none" stroke="#000" stroke-width="2.5"/>
<polyline points="1007.3,3144.2 1007.3,3372.1" fill="none" stroke="#000" stroke-width="2.5"/>
<polyline points="1014.5,3144.2 1014.5,3372.1" fill="none" stroke="#000" stroke-width="2.5"/>
<polyline points="1017.6,3140.1 1017.6,3403.1" fill="none" stroke="#000" stroke-width="6.4"/>
<polygon points="935.1,3374.7 1030.5,3374.7 1030.5,3403.1 935.1,3403.1" fill="url(#h4)" stroke="#000" stroke-width="3.2" stroke-linejoin="round"/>
<polyline points="927.4,3410.8 1030.5,3410.8" fill="none" stroke="#000" stroke-width="5.1"/>
<path d="M1015,3421.1C1004.7,3420.9 966.5,3416.6 953.1,3419.6C939.8,3422.6 938.5,3430.8 935.1,3439.2C931.7,3447.6 930.8,3459.8 932.5,3470.1C934.2,3480.4 943.3,3495.9 945.4,3501.1" fill="none" stroke="#000" stroke-width="4.5" stroke-linejoin="round"/>
<polyline points="1015,3421.1 1015,3501.1" fill="none" stroke="#000" stroke-width="5.1"/>
<path d="M966,3431.5C965.2,3435.3 960.9,3448.6 960.9,3454.7C960.9,3460.7 965.9,3460.2 966,3467.6C966.2,3474.9 962.6,3493.3 961.9,3498.5" fill="none" stroke="#000" stroke-width="3.8" stroke-linejoin="round"/>
<path d="M966,3431.5C966.9,3435.3 971.2,3448.6 971.2,3454.7C971.2,3460.7 966.2,3460.2 966,3467.6C965.9,3474.9 969.5,3493.3 970.2,3498.5" fill="none" stroke="#000" stroke-width="3.8" stroke-linejoin="round"/>
<path d="M991.8,3431.5C991,3435.3 986.7,3448.6 986.7,3454.7C986.7,3460.7 991.7,3460.2 991.8,3467.6C992,3474.9 988.4,3493.3 987.7,3498.5" fill="none" stroke="#000" stroke-width="3.8" stroke-linejoin="round"/>
<path d="M991.8,3431.5C992.7,3435.3 997,3448.6 997,3454.7C997,3460.7 992,3460.2 991.8,3467.6C991.7,3474.9 995.3,3493.3 996,3498.5" fill="none" stroke="#000" stroke-width="3.8" stroke-linejoin="round"/>
<circle cx="983.1" cy="3459.8" r="6.5" fill="#000"/>
<polyline points="932.5,3501.1 1027.9,3501.1" fill="none" stroke="#000" stroke-width="5.1"/>
<polyline points="850,3150.4 899,3150.4" fill="none" stroke="#000" stroke-width="3.2"/>
<polyline points="850,3178.7 899,3178.7" fill="none" stroke="#000" stroke-width="3.2"/>
<polyline points="850,3207.1 899,3207.1" fill="none" stroke="#000" stroke-width="3.2"/>
<polyline points="850,3235.5 899,3235.5" fill="none" stroke="#000" stroke-width="3.2"/>
<polyline points="850,3263.8 899,3263.8" fill="none" stroke="#000" stroke-width="3.2"/>
<polyline points="850,3292.2 899,3292.2" fill="none" stroke="#000" stroke-width="3.2"/>
<polyline points="850,3320.6 899,3320.6" fill="none" stroke="#000" stroke-width="3.2"/>
<polyline points="850,3348.9 899,3348.9" fill="none" stroke="#000" stroke-width="3.2"/>
<polyline points="850,3377.3 899,3377.3" fill="none" stroke="#000" stroke-width="3.2"/>
<polyline points="850,3405.7 899,3405.7" fill="none" stroke="#000" stroke-width="3.2"/>
<polyline points="850,3434 899,3434" fill="none" stroke="#000" stroke-width="3.2"/>
<polyline points="850,3462.4 899,3462.4" fill="none" stroke="#000" stroke-width="3.2"/>
<polyline points="850,3490.8 899,3490.8" fill="none" stroke="#000" stroke-width="3.2"/>
<polyline points="1020.2,3171 1035.7,3171" fill="none" stroke="#000" stroke-width="3.2"/>
<polyline points="1035.7,3171 1035.7,3189.1" fill="none" stroke="#000" stroke-width="3.2"/>
<polyline points="1020.2,3189.1 1053.7,3189.1" fill="none" stroke="#000" stroke-width="3.2"/>
<polyline points="1053.7,3189.1 1053.7,3204.5" fill="none" stroke="#000" stroke-width="3.2"/>
<polyline points="1020.2,3204.5 1071.8,3204.5" fill="none" stroke="#000" stroke-width="3.2"/>
<polyline points="1071.8,3204.5 1071.8,3222.6" fill="none" stroke="#000" stroke-width="3.2"/>
<polyline points="1020.2,3222.6 1088.3,3222.6" fill="none" stroke="#000" stroke-width="3.2"/>
<polyline points="1088.3,3222.6 1088.3,3240.6" fill="none" stroke="#000" stroke-width="3.2"/>
<polyline points="1020.2,3240.6 1102.7,3240.6" fill="none" stroke="#000" stroke-width="3.2"/>
<polyline points="1102.7,3240.6 1102.7,3258.7" fill="none" stroke="#000" stroke-width="3.2"/>
<polyline points="1020.2,3258.7 1114.1,3258.7" fill="none" stroke="#000" stroke-width="3.2"/>
<polyline points="1114.1,3258.7 1114.1,3276.7" fill="none" stroke="#000" stroke-width="3.2"/>
<polyline points="1020.2,3276.7 1124.4,3276.7" fill="none" stroke="#000" stroke-width="3.2"/>
<polyline points="1124.4,3276.7 1124.4,3294.8" fill="none" stroke="#000" stroke-width="3.2"/>
<polyline points="1020.2,3294.8 1134.7,3294.8" fill="none" stroke="#000" stroke-width="3.2"/>
<polyline points="1134.7,3294.8 1134.7,3312.8" fill="none" stroke="#000" stroke-width="3.2"/>
<polyline points="1020.2,3312.8 1144,3312.8" fill="none" stroke="#000" stroke-width="3.2"/>
<polyline points="1144,3312.8 1144,3330.9" fill="none" stroke="#000" stroke-width="3.2"/>
<polyline points="1020.2,3330.9 1151.7,3330.9" fill="none" stroke="#000" stroke-width="3.2"/>
<polyline points="1151.7,3330.9 1151.7,3348.9" fill="none" stroke="#000" stroke-width="3.2"/>
<polyline points="1020.2,3348.9 1159.4,3348.9" fill="none" stroke="#000" stroke-width="3.2"/>
<polyline points="1159.4,3348.9 1159.4,3369.6" fill="none" stroke="#000" stroke-width="3.2"/>
<polyline points="1020.2,3369.6 1165.6,3369.6" fill="none" stroke="#000" stroke-width="3.2"/>
<polyline points="1165.6,3369.6 1165.6,3387.6" fill="none" stroke="#000" stroke-width="3.2"/>
<polyline points="1020.2,3387.6 1170.8,3387.6" fill="none" stroke="#000" stroke-width="3.2"/>
<polyline points="1170.8,3387.6 1170.8,3405.7" fill="none" stroke="#000" stroke-width="3.2"/>
<polyline points="1020.2,3405.7 1176.5,3405.7" fill="none" stroke="#000" stroke-width="3.2"/>
<polyline points="1176.5,3405.7 1176.5,3423.7" fill="none" stroke="#000" stroke-width="3.2"/>
<polyline points="1020.2,3423.7 1181.6,3423.7" fill="none" stroke="#000" stroke-width="3.2"/>
<polyline points="1181.6,3423.7 1181.6,3441.8" fill="none" stroke="#000" stroke-width="3.2"/>
<polyline points="1020.2,3441.8 1186.3,3441.8" fill="none" stroke="#000" stroke-width="3.2"/>
<polyline points="1186.3,3441.8 1186.3,3459.8" fill="none" stroke="#000" stroke-width="3.2"/>
<polyline points="1020.2,3459.8 1191.4,3459.8" fill="none" stroke="#000" stroke-width="3.2"/>
<polyline points="1191.4,3459.8 1191.4,3477.9" fill="none" stroke="#000" stroke-width="3.2"/>
<polyline points="1020.2,3477.9 1196.6,3477.9" fill="none" stroke="#000" stroke-width="3.2"/>
<polyline points="1196.6,3477.9 1196.6,3495.9" fill="none" stroke="#000" stroke-width="3.2"/>
<polyline points="1020.2,3495.9 1201.7,3495.9" fill="none" stroke="#000" stroke-width="3.2"/>
<path d="M1035.7,3132.3C1040.8,3138.8 1054.6,3156.8 1066.6,3171C1078.6,3185.2 1092.4,3202.8 1107.9,3217.4C1123.3,3232 1140.5,3246.2 1159.4,3258.7C1178.3,3271.1 1195.5,3279.1 1221.3,3292.2C1247.1,3305.3 1281.5,3322.7 1314.2,3337.1C1346.8,3351.4 1382.9,3365.4 1417.3,3378.3C1451.7,3391.2 1473.3,3398.1 1520.4,3414.4C1567.6,3430.8 1648.3,3460.4 1699.9,3476.3C1751.5,3492.2 1808.2,3504.3 1829.9,3509.8" fill="none" stroke="#000" stroke-width="6.4" stroke-linejoin="round"/>
<path d="M1118.2,3212.3C1128.5,3219.3 1156,3240.4 1180.1,3254.6C1204.1,3268.7 1231.6,3282.9 1262.6,3297.4C1293.5,3311.8 1331.3,3327.2 1365.7,3341.2C1400.1,3355.2 1434.5,3368.5 1468.9,3381.4C1503.3,3394.3 1533.5,3405.5 1572,3418.6C1610.5,3431.6 1661.2,3447.6 1699.9,3459.8C1738.6,3472 1777.3,3483.9 1804.1,3491.8C1830.9,3499.7 1851.4,3504.7 1860.8,3507.3" fill="none" stroke="#000" stroke-width="3.8" stroke-linejoin="round"/>
<path d="M1180.1,3257.7C1193.8,3264.9 1231.6,3286.4 1262.6,3301C1293.5,3315.6 1331.3,3331.2 1365.7,3345.3C1400.1,3359.4 1434.5,3372.7 1468.9,3385.6C1503.3,3398.4 1533.5,3409.6 1572,3422.7C1610.5,3435.8 1661.2,3451.9 1699.9,3463.9C1738.6,3476 1786.7,3489.7 1804.1,3494.9" fill="none" stroke="#000" stroke-width="2" stroke-linejoin="round" stroke-dasharray="30 8"/>
<path d="M1107.9,3207.1C1113,3212.3 1126.8,3228.6 1138.8,3238.1C1150.8,3247.5 1166.3,3256.1 1180.1,3263.8C1193.8,3271.6 1214.4,3281 1221.3,3284.5" fill="none" stroke="#000" stroke-width="3.8" stroke-linejoin="round"/>
<path d="M1041.9,3140.1C1046,3146.9 1057.3,3167.6 1066.6,3181.3C1075.9,3195.1 1087.2,3209.7 1097.6,3222.6C1107.9,3235.5 1119.5,3248.8 1128.5,3258.7C1137.5,3268.6 1147.8,3278 1151.7,3281.9" fill="none" stroke="#000" stroke-width="3.8" stroke-linejoin="round"/>
<path d="M1053.7,3135.9C1058,3142.6 1070,3162.6 1079.5,3176.2C1089,3189.7 1100.1,3204.5 1110.4,3217.4C1120.8,3230.3 1132.8,3244.1 1141.4,3253.5C1150,3263 1158.6,3270.7 1162,3274.2" fill="none" stroke="#000" stroke-width="3.8" stroke-linejoin="round"/>
<polyline points="1042.4,3149.4 1054.7,3141.1" fill="none" stroke="#000" stroke-width="3.2"/>
<polyline points="1051.7,3161.3 1064.1,3153.1" fill="none" stroke="#000" stroke-width="3.2"/>
<polyline points="1061.1,3173.3 1073.5,3165" fill="none" stroke="#000" stroke-width="3.2"/>
<polyline points="1070.5,3185.2 1082.9,3177" fill="none" stroke="#000" stroke-width="3.2"/>
<polyline points="1079.9,3197.2 1092.3,3188.9" fill="none" stroke="#000" stroke-width="3.2"/>
<polyline points="1089.3,3209.1 1101.6,3200.9" fill="none" stroke="#000" stroke-width="3.2"/>
<polyline points="1098.6,3221.1 1111,3212.8" fill="none" stroke="#000" stroke-width="3.2"/>
<polyline points="1108,3233 1120.4,3224.8" fill="none" stroke="#000" stroke-width="3.2"/>
<polyline points="1117.4,3245 1129.8,3236.7" fill="none" stroke="#000" stroke-width="3.2"/>
<polyline points="1126.8,3257 1139.1,3248.7" fill="none" stroke="#000" stroke-width="3.2"/>
<polyline points="1136.1,3268.9 1148.5,3260.7" fill="none" stroke="#000" stroke-width="3.2"/>
<polyline points="1145.5,3280.9 1157.9,3272.6" fill="none" stroke="#000" stroke-width="3.2"/>
<polyline points="1164.6,3320.6 1218.7,3509.8" fill="none" stroke="#000" stroke-width="3.8"/>
<polyline points="1177.5,3325.7 1231.6,3509.8" fill="none" stroke="#000" stroke-width="3.8"/>
<path d="M989.2,3114.3C990.1,3110.4 989.2,3097.1 994.4,3091.1C999.6,3085.1 1011.2,3079 1020.2,3078.2C1029.2,3077.3 1041.7,3079.9 1048.6,3085.9C1055.4,3091.9 1058.9,3106.5 1061.4,3114.3C1064,3122 1063.6,3129.3 1064,3132.3" fill="none" stroke="#000" stroke-width="4.5" stroke-linejoin="round"/>
<path d="M1064,3129.8C1066.2,3132.3 1075.6,3140.1 1076.9,3145.2C1078.2,3150.4 1069.6,3156.4 1071.8,3160.7C1073.9,3165 1087.7,3165.9 1089.8,3171C1092,3176.2 1082.5,3186.5 1084.7,3191.6C1086.8,3196.8 1098,3196.8 1102.7,3202C1107.4,3207.1 1111.3,3219.1 1113,3222.6" fill="none" stroke="#000" stroke-width="3.8" stroke-linejoin="round"/>
<polyline points="989.2,3106.5 1035.7,3132.3" fill="none" stroke="#000" stroke-width="2" stroke-dasharray="14 6"/>
<polygon points="1221.3,3287.1 1319.3,3337.1 1319.3,3373.2 1211,3436.6 1205.9,3423.7 1172.3,3325.7" fill="#fff" stroke="#000" stroke-width="4.5"/>
<circle cx="1239.4" cy="3359.3" r="29.9" fill="#fff" stroke="#000" stroke-width="5.1"/>
<polyline points="1198.1,3360.8 1283.2,3360.8" fill="none" stroke="#000" stroke-width="2" stroke-dasharray="30 6 5 6"/>
<polyline points="1239.4,3323.2 1239.4,3403.1" fill="none" stroke="#000" stroke-width="2" stroke-dasharray="30 6 5 6"/>
<circle cx="1252.3" cy="3350.5" r="6.5" fill="#000"/>
<polygon points="1412.1,3021.4 1448.2,3052.4 1056.3,3452.1 1038.2,3403.1" fill="#fff" stroke="#000" stroke-width="4.5"/>
<polygon points="1376,3078.2 1386.4,3091.1 1425,3052.4 1414.7,3039.5" fill="#fff" stroke="#000" stroke-width="3.8"/>
<polygon points="1388.9,3070.4 1399.3,3083.3 1437.9,3044.7 1427.6,3031.8" fill="#fff" stroke="#000" stroke-width="3.8"/>
<polyline points="1381.2,3042.1 1427.6,3083.3" fill="none" stroke="#000" stroke-width="2" stroke-dasharray="30 6 5 6"/>
<circle cx="1328.6" cy="3138.5" r="6.5" fill="#000"/>
<circle cx="969.6" cy="3207.1" r="6.5" fill="#000"/>
<circle cx="1096.5" cy="3483" r="6.5" fill="#000"/>
<polygon points="1285.8,3416 1301.3,3416 1301.3,3433 1285.8,3433" fill="#fff" stroke="#000" stroke-width="5.8"/>
<polygon points="1320.9,3416 1336.3,3416 1336.3,3433 1320.9,3433" fill="#fff" stroke="#000" stroke-width="5.8"/>
<polygon points="1355.9,3416 1371.4,3416 1371.4,3433 1355.9,3433" fill="#fff" stroke="#000" stroke-width="5.8"/>
<polygon points="1391,3416 1406.5,3416 1406.5,3433 1391,3433" fill="#fff" stroke="#000" stroke-width="5.8"/>
<polygon points="1249.7,3454.7 1265.2,3454.7 1265.2,3471.7 1249.7,3471.7" fill="#fff" stroke="#000" stroke-width="5.8"/>
<polygon points="1284.8,3454.7 1300.2,3454.7 1300.2,3471.7 1284.8,3471.7" fill="#fff" stroke="#000" stroke-width="5.8"/>
<polygon points="1319.8,3454.7 1335.3,3454.7 1335.3,3471.7 1319.8,3471.7" fill="#fff" stroke="#000" stroke-width="5.8"/>
<polygon points="1354.9,3454.7 1370.4,3454.7 1370.4,3471.7 1354.9,3471.7" fill="#fff" stroke="#000" stroke-width="5.8"/>
<polygon points="1390,3454.7 1405.4,3454.7 1405.4,3471.7 1390,3471.7" fill="#fff" stroke="#000" stroke-width="5.8"/>
<polygon points="1425,3454.7 1440.5,3454.7 1440.5,3471.7 1425,3471.7" fill="#fff" stroke="#000" stroke-width="5.8"/>
<polygon points="1460.1,3454.7 1475.6,3454.7 1475.6,3471.7 1460.1,3471.7" fill="#fff" stroke="#000" stroke-width="5.8"/>
<polygon points="1495.2,3454.7 1510.6,3454.7 1510.6,3471.7 1495.2,3471.7" fill="#fff" stroke="#000" stroke-width="5.8"/>
<polygon points="1249.7,3490.8 1265.2,3490.8 1265.2,3507.8 1249.7,3507.8" fill="#fff" stroke="#000" stroke-width="5.8"/>
<polygon points="1284.8,3490.8 1300.2,3490.8 1300.2,3507.8 1284.8,3507.8" fill="#fff" stroke="#000" stroke-width="5.8"/>
<polygon points="1319.8,3490.8 1335.3,3490.8 1335.3,3507.8 1319.8,3507.8" fill="#fff" stroke="#000" stroke-width="5.8"/>
<polygon points="1354.9,3490.8 1370.4,3490.8 1370.4,3507.8 1354.9,3507.8" fill="#fff" stroke="#000" stroke-width="5.8"/>
<polygon points="1390,3490.8 1405.4,3490.8 1405.4,3507.8 1390,3507.8" fill="#fff" stroke="#000" stroke-width="5.8"/>
<polygon points="1425,3490.8 1440.5,3490.8 1440.5,3507.8 1425,3507.8" fill="#fff" stroke="#000" stroke-width="5.8"/>
<polygon points="1460.1,3490.8 1475.6,3490.8 1475.6,3507.8 1460.1,3507.8" fill="#fff" stroke="#000" stroke-width="5.8"/>
<polygon points="1495.2,3490.8 1510.6,3490.8 1510.6,3507.8 1495.2,3507.8" fill="#fff" stroke="#000" stroke-width="5.8"/>
<polygon points="1530.2,3490.8 1545.7,3490.8 1545.7,3507.8 1530.2,3507.8" fill="#fff" stroke="#000" stroke-width="5.8"/>
<polygon points="1565.3,3490.8 1580.8,3490.8 1580.8,3507.8 1565.3,3507.8" fill="#fff" stroke="#000" stroke-width="5.8"/>
<polygon points="1600.4,3490.8 1615.9,3490.8 1615.9,3507.8 1600.4,3507.8" fill="#fff" stroke="#000" stroke-width="5.8"/>
<polygon points="1257.4,3426.3 1268.8,3418.6 1268.8,3433" fill="#fff" stroke="#000" stroke-width="4.5"/>
<polygon points="1327.1,3382.5 1339.9,3382.5 1339.9,3395.4 1327.1,3395.4" fill="#fff" stroke="#000" stroke-width="4.5"/>
<polygon points="1430.2,3423.7 1445.7,3428.9 1430.2,3433" fill="#fff" stroke="#000" stroke-width="3.8"/>
<polygon points="1535.9,3462.4 1551.4,3467.6 1535.9,3471.7" fill="#fff" stroke="#000" stroke-width="3.8"/>
<polygon points="1345.1,3351.5 1365.7,3359.3 1365.7,3382.5 1345.1,3374.7" fill="#fff" stroke="#000" stroke-width="4.5"/>
<polyline points="1345.1,3367 1365.7,3374.7" fill="none" stroke="#000" stroke-width="3.8"/>
<polygon points="1456,3397.9 1476.6,3405.7 1476.6,3428.9 1456,3421.1" fill="#fff" stroke="#000" stroke-width="4.5"/>
<polyline points="1456,3413.4 1476.6,3421.1" fill="none" stroke="#000" stroke-width="3.8"/>
<polygon points="1577.2,3446.9 1597.8,3454.7 1597.8,3477.9 1577.2,3470.1" fill="#fff" stroke="#000" stroke-width="4.5"/>
<polyline points="1577.2,3462.4 1597.8,3470.1" fill="none" stroke="#000" stroke-width="3.8"/>
<polygon points="1695.8,3490.8 1716.4,3498.5 1716.4,3521.7 1695.8,3514" fill="#fff" stroke="#000" stroke-width="4.5"/>
<polyline points="1695.8,3506.2 1716.4,3514" fill="none" stroke="#000" stroke-width="3.8"/>
<polyline points="57.5,556 72.8,1140 88,1530" fill="none" stroke="#000" stroke-width="1.5"/>
<polyline points="115.8,555 120,800 135.4,1140 151,1513" fill="none" stroke="#000" stroke-width="1.5"/>
<polyline points="197.7,556 194.8,729 174.8,1140 171.8,1195" fill="none" stroke="#000" stroke-width="1.5"/>
<polyline points="395,556 395,658 304,1140 285,1240" fill="none" stroke="#000" stroke-width="1.5"/>
<polyline points="395,658 413,1140 417,1236" fill="none" stroke="#000" stroke-width="1.5"/>
<polyline points="1019.7,556 1019.7,700 1012,790 994,850 945,1173" fill="none" stroke="#000" stroke-width="1.5"/>
<polyline points="1158,556 1158,657.6 1042,921" fill="none" stroke="#000" stroke-width="1.5"/>
<polyline points="1233,556 1226,950 1216.5,1252" fill="none" stroke="#000" stroke-width="1.5"/>
<polyline points="1310,556 1310,660 1277,950 1257,1098" fill="none" stroke="#000" stroke-width="1.5"/>
<polyline points="1385,556 1385,660 1345,950 1282,1350" fill="none" stroke="#000" stroke-width="1.5"/>
<polyline points="1821,545 1821,1185" fill="none" stroke="#000" stroke-width="1.5"/>
<polyline points="2239.5,548 2241,817" fill="none" stroke="#000" stroke-width="1.5"/>
<polyline points="971,2250 1000,2274" fill="none" stroke="#000" stroke-width="1.5"/>
<polyline points="1079,2250 1079.5,2262" fill="none" stroke="#000" stroke-width="1.5"/>
<polyline points="1172,2250 1172,2262" fill="none" stroke="#000" stroke-width="1.5"/>
<polyline points="1263,2262 1263,2170 1200,2082" fill="none" stroke="#000" stroke-width="1.5"/>
<polyline points="1376.7,1850 1349,2150 1349,2263" fill="none" stroke="#000" stroke-width="1.5"/>
<polyline points="1423.5,2258 1418.6,1847" fill="none" stroke="#000" stroke-width="1.5"/>
<polyline points="1467.7,1850 1506,2176 1506,2261" fill="none" stroke="#000" stroke-width="1.5"/>
<polyline points="1595,1850 1583,2150 1583,2263" fill="none" stroke="#000" stroke-width="1.5"/>
<polyline points="1653.5,2258 1653.5,2176 1700,2046 1862.5,1497" fill="none" stroke="#000" stroke-width="1.5"/>
<polyline points="124,2679 168,2120" fill="none" stroke="#000" stroke-width="1.5"/>
<polyline points="193.4,2679 304,1617" fill="none" stroke="#000" stroke-width="1.5"/>
<polyline points="402,2679 419.4,1578" fill="none" stroke="#000" stroke-width="1.5"/>
<polyline points="571,2679 555,2170" fill="none" stroke="#000" stroke-width="1.5"/>
<polyline points="315.7,2741 315.7,2814 291,3467" fill="none" stroke="#000" stroke-width="1.5"/>
<polyline points="315.7,2814 477.8,3502" fill="none" stroke="#000" stroke-width="1.5"/>
<polyline points="486,2741 495,2870 550,3266" fill="none" stroke="#000" stroke-width="1.5"/>
<polyline points="667,2741 669,2950 688,3502" fill="none" stroke="#000" stroke-width="1.5"/>
<polyline points="762,2741 760.7,2810 820,3503" fill="none" stroke="#000" stroke-width="1.5"/>
<polyline points="846,2741 850,2810 981.5,3459" fill="none" stroke="#000" stroke-width="1.5"/>
<polyline points="1010,2741 1003.7,2810 969.6,3207" fill="none" stroke="#000" stroke-width="1.5"/>
<polyline points="1120.5,2741 1118,2810 1096.5,3483" fill="none" stroke="#000" stroke-width="1.5"/>
<polyline points="1218.5,2741 1216,2810 1252,3350" fill="none" stroke="#000" stroke-width="1.5"/>
<polyline points="1310,2741 1310.5,2810 1328.6,3138" fill="none" stroke="#000" stroke-width="1.5"/>
<polyline points="1427.5,2741 1426,2810 1525.6,3496" fill="none" stroke="#000" stroke-width="1.5"/>
<circle cx="1862.5" cy="1497" r="6.5" fill="#000"/>
<circle cx="168.7" cy="2114" r="6.5" fill="#000"/>
<circle cx="1525.6" cy="3496" r="5" fill="#000"/>
<polyline points="799.9,690 801.9,720.3 801.2,747.8 798.3,785.6 798.2,828.4 798.4,868.6 800.5,896.7 798.7,950.7 801.8,983.5 801.5,1041.6 803.9,1080.5 803.2,1107.2 798.9,1142.3 799.9,1171.4 799.1,1225 801.8,1270.3 801.3,1308.4 798.4,1335.6 802.1,1367.8 799.9,1407.7 800.7,1453.2 802.8,1488.7 799.5,1538.2 801.2,1583.3 802.4,1638.9 803.9,1674 800.5,1703.1 798.9,1754.6 798.2,1796.8 802.6,1845.1 803.3,1890.2 802.2,1926.2 801.5,1972 803,2013 800.8,2071 798.4,2119.3 801.9,2168.8 802.9,2228.6 800.3,2263.5 798.1,2311.9 799,2353.1 798.4,2382.2 798.8,2434.1 800.3,2467.7 798.5,2523.2 801.3,2564 802.9,2619.9 799.7,2675.1 800.2,2714.7" fill="none" stroke="#fff" stroke-width="4.1" stroke-dasharray="22 9 7 14 30 6"/>
<polyline points="801.9,690 803.9,720.3 803.2,747.8 800.3,785.6 800.2,828.4 800.4,868.6 802.5,896.7 800.7,950.7 803.8,983.5 803.5,1041.6 805.9,1080.5 805.2,1107.2 800.9,1142.3 801.9,1171.4 801.1,1225 803.8,1270.3 803.3,1308.4 800.4,1335.6 804.1,1367.8 801.9,1407.7 802.7,1453.2 804.8,1488.7 801.5,1538.2 803.2,1583.3 804.4,1638.9 805.9,1674 802.5,1703.1 800.9,1754.6 800.2,1796.8 804.6,1845.1 805.3,1890.2 804.2,1926.2 803.5,1972 805,2013 802.8,2071 800.4,2119.3 803.9,2168.8 804.9,2228.6 802.3,2263.5 800.1,2311.9 801,2353.1 800.4,2382.2 800.8,2434.1 802.3,2467.7 800.5,2523.2 803.3,2564 804.9,2619.9 801.7,2675.1 802.2,2714.7" fill="none" stroke="#bbb" stroke-width="1.5" stroke-dasharray="3 17 5 29"/>
<path d="M0,3480 L60,3488 L150,3494 L400,3501 L2550,3503 L2550,3512 L0,3512 Z" fill="#000" filter="url(#blur2)"/>
<path d="M0,3489 L150,3497 L400,3502.5 L2550,3503.5 L2550,3512 L0,3512 Z" fill="#000"/>
</svg>
</body></html>
